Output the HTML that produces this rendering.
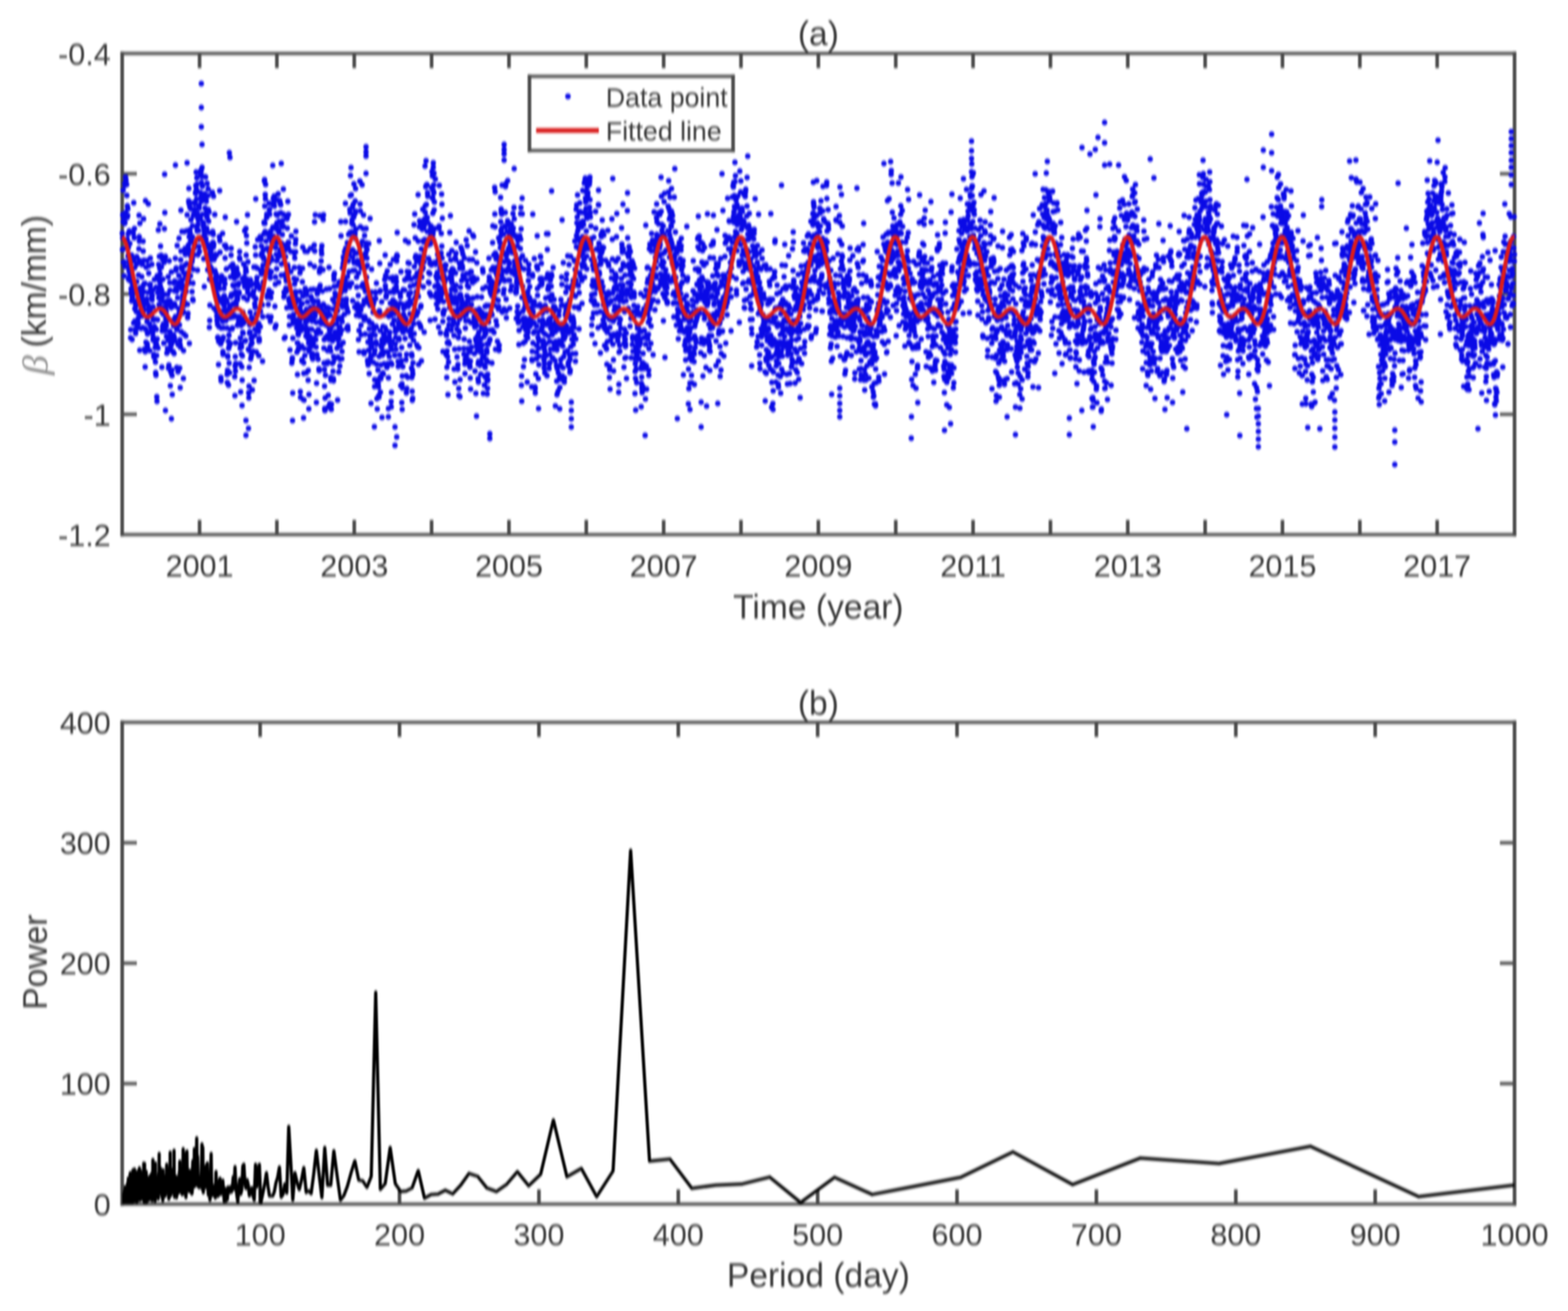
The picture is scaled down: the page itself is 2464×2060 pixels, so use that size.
<!DOCTYPE html><html><head><meta charset="utf-8"><style>html,body{margin:0;padding:0;background:#fff}svg{display:block}</style></head><body><svg width="2464" height="2060" viewBox="0 0 2464 2060"><defs><filter id="bl" x="0" y="0" width="2464" height="2060" filterUnits="userSpaceOnUse" color-interpolation-filters="sRGB"><feGaussianBlur stdDeviation="0.8 1.9"/></filter></defs><rect width="2464" height="2060" fill="#fff"/><g filter="url(#bl)"><g stroke="#4a4a4a" fill="none" stroke-linecap="square"><path d="M192.0 84.0V840.0M2380.0 84.0V840.0" stroke-width="5.6"/><path d="M192.0 84.0H2380.0M192.0 840.0H2380.0" stroke-width="5.0"/><path d="M313.6 840.0v-23.0M313.6 84.0v23.0M435.1 840.0v-23.0M435.1 84.0v23.0M556.7 840.0v-23.0M556.7 84.0v23.0M678.2 840.0v-23.0M678.2 84.0v23.0M799.8 840.0v-23.0M799.8 84.0v23.0M921.3 840.0v-23.0M921.3 84.0v23.0M1042.9 840.0v-23.0M1042.9 84.0v23.0M1164.4 840.0v-23.0M1164.4 84.0v23.0M1286 840.0v-23.0M1286 84.0v23.0M1407.6 840.0v-23.0M1407.6 84.0v23.0M1529.1 840.0v-23.0M1529.1 84.0v23.0M1650.7 840.0v-23.0M1650.7 84.0v23.0M1772.2 840.0v-23.0M1772.2 84.0v23.0M1893.8 840.0v-23.0M1893.8 84.0v23.0M2015.3 840.0v-23.0M2015.3 84.0v23.0M2136.9 840.0v-23.0M2136.9 84.0v23.0M2258.4 840.0v-23.0M2258.4 84.0v23.0" stroke-width="5.6" stroke-linecap="butt"/><path d="M192.0 651h23.0M2380.0 651h-23.0M192.0 462h23.0M2380.0 462h-23.0M192.0 273h23.0M2380.0 273h-23.0" stroke-width="5.0" stroke-linecap="butt"/></g><path d="M192.1 366.5h0M192.4 392.2h0M192.7 374h0M192.9 338h0M193.2 336.7h0M193.5 299h0M193.7 348.4h0M194 412.2h0M194.3 391.1h0M194.5 341h0M194.8 411.7h0M195.1 433.6h0M195.3 411.7h0M195.6 351.2h0M195.9 288.7h0M196.1 418.8h0M196.4 350.2h0M196.7 334.3h0M196.9 291.1h0M197.2 278.1h0M198 282.9h0M198.3 336.5h0M198.5 378.3h0M198.8 378h0M199.1 289.9h0M199.3 307.2h0M199.6 341.9h0M199.9 375.8h0M200.1 323.5h0M200.7 338.7h0M200.9 328.2h0M201.2 402.6h0M201.5 367.3h0M201.7 388.9h0M202 439.1h0M202.3 411.2h0M202.5 399.5h0M202.8 423.2h0M203 426.8h0M203.3 362.9h0M203.6 416.1h0M203.8 434.2h0M204.1 382.7h0M204.4 440.3h0M204.6 441.5h0M204.9 421.9h0M205.2 530.8h0M205.4 518.1h0M205.7 428.6h0M206 453.6h0M206.2 460.1h0M206.5 461.3h0M206.8 401h0M207 473.1h0M207.3 439.5h0M207.6 533.5h0M207.8 465.4h0M208.1 469h0M208.4 445.3h0M208.6 447.1h0M208.9 409.3h0M209.2 408h0M209.4 366.5h0M209.7 452.6h0M210 507.6h0M210.2 318.7h0M210.5 410.4h0M210.8 456.2h0M211 373.6h0M211.3 359.2h0M211.6 420.6h0M211.8 485.2h0M212.1 504.3h0M212.4 517.7h0M212.6 457.9h0M212.9 452.9h0M213.2 523.8h0M213.4 478.1h0M213.7 480.4h0M214 480.2h0M214.2 489.6h0M214.5 473.5h0M214.8 403.3h0M215 442.3h0M215.3 415h0M215.6 510.2h0M215.8 516h0M216.1 477.4h0M216.4 491.1h0M216.6 474.3h0M216.9 507.3h0M217.2 507.7h0M217.4 500h0M217.7 432.2h0M218 468.2h0M218.2 391h0M218.5 338.3h0M218.8 372h0M219 379.1h0M219.3 409.1h0M219.6 550.4h0M219.8 350.8h0M220.1 452.2h0M220.4 457.4h0M220.6 492.7h0M220.9 488.5h0M221.2 472.9h0M221.4 491.8h0M221.7 516h0M222 452.2h0M222.2 479.5h0M222.5 463.3h0M222.8 434.8h0M223 454.4h0M223.3 415.6h0M223.6 496.6h0M223.8 489.6h0M224.1 514.6h0M224.3 469.4h0M224.6 481.7h0M224.9 379.1h0M225.1 394.6h0M225.4 448.3h0M225.7 343.9h0M225.9 472.3h0M226.2 408.9h0M226.5 458.6h0M226.7 445.5h0M227 486.9h0M227.3 548.4h0M227.5 445.2h0M227.8 516.1h0M228.1 576.7h0M228.3 552.7h0M228.6 315.5h0M228.9 517.6h0M229.1 475.8h0M229.4 537.8h0M229.7 420h0M229.9 497.5h0M230.2 474.9h0M230.5 469.5h0M230.7 409.5h0M231 505.5h0M231.3 539.9h0M231.5 544.7h0M231.8 524.7h0M232.1 498.7h0M232.3 478.8h0M232.6 459.7h0M232.9 487h0M233.1 320.3h0M233.4 486.1h0M233.7 429.5h0M233.9 417.6h0M234.2 522.8h0M234.5 508.5h0M234.7 447.5h0M235 491.3h0M235.3 550.8h0M235.5 489.9h0M235.8 482.3h0M236.1 446.7h0M236.3 405.7h0M236.6 490h0M236.9 513.4h0M237.1 459.3h0M237.4 453.9h0M237.7 519.6h0M237.9 496.7h0M238.2 483.2h0M238.5 467.8h0M238.7 415.4h0M239 471.3h0M239.3 464h0M239.5 518.8h0M239.8 523.1h0M240.1 455.9h0M240.3 481.9h0M240.6 534.3h0M240.9 529.8h0M241.1 502.5h0M241.4 503h0M241.7 560.3h0M241.9 557h0M242.2 561.4h0M242.5 513h0M242.7 439.2h0M243 514.6h0M243.3 560.7h0M243.5 533.6h0M243.8 546.3h0M244.1 501.6h0M244.3 568.8h0M244.6 585.5h0M244.8 539.4h0M245.1 589.6h0M245.4 451.3h0M245.6 517.5h0M245.9 541.1h0M246.2 558.6h0M246.4 623.4h0M246.7 630.6h0M247 532.6h0M247.2 433.3h0M247.5 502.4h0M247.8 437h0M248 460h0M248.3 546.9h0M248.6 438.4h0M248.8 361.4h0M249.1 434.5h0M249.4 415.6h0M249.6 467.9h0M249.9 478.6h0M250.2 457.2h0M250.4 402.9h0M250.7 442h0M251 421.9h0M251.2 351.9h0M251.5 430.2h0M251.8 449.2h0M252 470.1h0M252.3 386.8h0M252.6 458.5h0M252.8 404.2h0M253.1 401.1h0M253.4 440.6h0M253.6 419.9h0M253.9 454.8h0M254.2 490.2h0M254.4 577h0M254.7 465.9h0M255 519.9h0M255.2 460.7h0M255.5 513.2h0M255.8 407.8h0M256 438.6h0M256.3 483.3h0M256.6 493.7h0M256.8 509.2h0M257.1 474.2h0M257.4 539.2h0M257.6 519.9h0M257.9 412.3h0M258.2 407.3h0M258.4 359.5h0M258.7 273.9h0M259 334.2h0M259.2 462.6h0M259.5 474h0M259.8 402.9h0M260 519.1h0M260.3 483.8h0M260.6 501.1h0M260.8 492.8h0M261.1 489h0M261.4 511.7h0M261.6 528.8h0M261.9 528.5h0M262.2 554.9h0M262.4 477.8h0M262.7 503.9h0M263 479h0M263.2 547.7h0M263.5 462.6h0M263.8 472.4h0M264 477.5h0M264.3 435h0M264.6 534.9h0M264.8 578.6h0M265.1 532h0M265.4 573.6h0M265.6 535.9h0M265.9 410h0M266.1 476.4h0M266.4 471.8h0M266.7 520.7h0M266.9 444.1h0M267.2 456.2h0M267.5 473.7h0M267.7 606.1h0M268 549.8h0M268.3 527h0M268.5 584.8h0M268.8 542.6h0M269.1 483.5h0M269.3 427.4h0M269.6 539.8h0M269.9 551.2h0M270.1 581.4h0M270.4 590.2h0M270.7 619.9h0M270.9 536h0M271.2 530.1h0M271.5 503.1h0M271.7 504.8h0M272 552.3h0M272.3 553.3h0M272.5 525.9h0M272.8 512.1h0M273.1 444.8h0M273.3 529.4h0M273.6 555.5h0M273.9 529.8h0M274.1 477.2h0M274.4 456.9h0M274.7 441.7h0M274.9 535.8h0M275.2 481.1h0M275.5 406h0M275.7 497.4h0M276 503.3h0M276.3 425h0M276.5 453.4h0M276.8 421.2h0M277.1 510.5h0M277.3 457.9h0M277.6 514.8h0M277.9 577.3h0M278.1 518.2h0M278.4 385.8h0M278.7 503.3h0M278.9 501.9h0M279.2 467.9h0M279.5 499.6h0M279.7 584.2h0M280 541.7h0M280.3 499.5h0M280.5 448.5h0M280.8 484.7h0M281.1 433h0M281.3 374.5h0M281.6 491.8h0M281.9 442.8h0M282.1 510.6h0M282.4 578.3h0M282.7 534h0M282.9 541.1h0M283.2 609.1h0M283.5 545.6h0M283.7 489.4h0M284 408.3h0M284.3 330.4h0M284.5 394.6h0M284.8 521.3h0M285.1 453.8h0M285.3 418.8h0M285.6 423.1h0M285.9 363.8h0M286.1 447.1h0M286.4 478.1h0M286.7 474.3h0M286.9 439.3h0M287.2 463.4h0M287.4 492.1h0M287.7 469.2h0M288 489.4h0M288.2 594.7h0M288.5 551h0M288.8 524.7h0M289 428.8h0M289.3 480.2h0M289.6 392.8h0M289.8 364h0M290.1 417.4h0M290.4 475.4h0M290.6 460h0M290.9 390.5h0M291.2 390.2h0M291.4 399.9h0M291.7 432.4h0M292 527.8h0M292.2 449.4h0M292.5 458.1h0M292.8 394h0M293 396.6h0M293.3 414.3h0M293.6 362.7h0M293.8 392.2h0M294.1 337.7h0M294.4 428.6h0M294.6 478.1h0M294.9 499.2h0M295.2 439.8h0M295.4 492.4h0M295.7 439.4h0M296 391.1h0M296.2 384.9h0M296.5 315.6h0M296.8 296h0M297 320h0M297.3 372.2h0M297.6 539.6h0M297.8 444.5h0M298.1 361h0M298.4 325.7h0M298.6 365.2h0M298.9 400.9h0M299.2 380.5h0M299.4 433.4h0M299.7 419.1h0M300 345.5h0M300.2 328.5h0M300.5 377.2h0M300.8 404.2h0M301.3 397h0M301.6 411.7h0M301.8 458.3h0M302.1 407.6h0M302.4 372h0M302.6 354.8h0M302.9 470.2h0M303.2 445h0M303.4 472.2h0M303.7 423.4h0M304 339.2h0M304.2 318.6h0M304.5 336.8h0M304.8 390.2h0M305 328.9h0M305.3 400.3h0M305.6 383.8h0M305.8 336.9h0M306.1 319.8h0M306.4 337.8h0M306.6 338.7h0M306.9 328.8h0M307.2 302.6h0M307.4 304h0M307.7 291.4h0M308.2 270.5h0M308.5 355.8h0M308.7 297.3h0M309 312.9h0M309.3 279.5h0M309.5 289.3h0M309.8 363h0M310.1 335.6h0M310.3 424.6h0M310.6 361.2h0M310.9 400.3h0M311.1 352.9h0M311.4 344.8h0M311.7 375h0M311.9 362.3h0M312.2 376.3h0M312.5 387.4h0M312.7 322.4h0M313 327.2h0M313.3 344.6h0M313.5 395.3h0M313.8 340.4h0M314.1 339.8h0M314.3 271.4h0M314.6 344.1h0M314.9 302.4h0M315.1 268.3h0M315.4 273.5h0M315.7 373h0M315.9 310.2h0M316.2 267.9h0M316.5 286.8h0M317 316.3h0M317.3 310.4h0M317.5 277.6h0M317.8 375.5h0M318.1 292.7h0M318.3 336.9h0M318.6 310.6h0M319.4 349.5h0M319.7 356.3h0M319.9 354.3h0M320.2 406.6h0M320.5 380.6h0M320.7 363.2h0M321 450.5h0M321.3 369.6h0M321.5 304.4h0M321.8 277.7h0M322.3 326.9h0M322.6 381.1h0M322.9 327.5h0M323.1 278.2h0M323.4 311h0M323.7 375.3h0M324.2 316.5h0M324.7 358.4h0M325 333.8h0M325.3 341.4h0M325.5 288.2h0M326.1 383.3h0M326.3 424h0M326.6 400.1h0M326.9 307.3h0M327.1 297h0M327.4 329.5h0M327.9 347.6h0M328.2 389.1h0M328.5 333.4h0M328.7 365.6h0M329 514.4h0M329.2 438.9h0M329.5 503.6h0M329.8 479.6h0M330 418h0M330.3 429h0M330.6 397.2h0M330.8 393.7h0M331.1 388.7h0M331.4 384.3h0M331.6 403.9h0M331.9 421h0M332.2 441.1h0M332.4 408.4h0M332.7 384.3h0M333 365.8h0M333.2 390h0M333.5 387h0M333.8 302.4h0M334 427.2h0M334.3 363.9h0M334.6 403.7h0M334.8 380.8h0M335.1 368.5h0M335.4 388.2h0M335.6 308.3h0M335.9 383.9h0M336.2 407.8h0M336.4 484.4h0M336.7 442.2h0M337 438.2h0M337.2 405h0M337.5 337.2h0M337.8 425.2h0M338 437.3h0M338.3 399.7h0M338.6 460.9h0M338.8 447.2h0M339.1 454.6h0M339.4 430.3h0M339.6 488.6h0M339.9 401.2h0M340.2 443.3h0M340.4 461.8h0M340.7 496.5h0M341 503.5h0M341.2 475.2h0M341.5 463.8h0M341.8 509.8h0M342 530.4h0M342.3 529.8h0M342.6 435.3h0M342.8 472h0M343.1 531.4h0M343.4 572.8h0M343.6 536.6h0M343.9 447.3h0M344.2 513.4h0M344.4 487.5h0M344.7 371.8h0M345 453.9h0M345.2 299.6h0M345.5 378.3h0M345.8 396.4h0M346 498.7h0M346.3 471h0M346.6 488.9h0M346.8 540.4h0M347.1 593.1h0M347.4 598.5h0M347.6 515.4h0M347.9 441.8h0M348.2 433.6h0M348.4 468.7h0M348.7 501.6h0M349 499.2h0M349.2 534.9h0M349.5 476.3h0M349.8 366.9h0M350 505.2h0M350.3 552.5h0M350.5 556.9h0M350.8 530h0M351.1 488.4h0M351.3 515.2h0M351.6 466h0M351.9 453.4h0M352.1 479.9h0M352.4 464.6h0M352.7 477.5h0M352.9 385.6h0M353.2 438.5h0M353.5 445.8h0M353.7 405.5h0M354 341.4h0M354.3 385.3h0M354.5 487.7h0M354.8 503.8h0M355.1 470.3h0M355.3 490.3h0M355.6 422.8h0M355.9 390.2h0M356.1 422.5h0M356.4 473.8h0M356.7 515.3h0M356.9 588.4h0M357.2 601.1h0M357.5 581.9h0M357.7 558.9h0M358 560.8h0M358.3 492.3h0M358.5 486.1h0M358.8 536.1h0M359.1 605.1h0M359.3 547.4h0M359.6 526.5h0M359.9 526.9h0M360.1 570.6h0M360.4 543.3h0M360.7 585.6h0M360.9 499.3h0M361.2 486h0M361.5 480h0M361.7 517.3h0M362 539.7h0M362.3 435.2h0M362.5 418.6h0M362.8 466.4h0M363.1 400.9h0M363.3 390.2h0M363.6 462.7h0M363.9 492.1h0M364.1 498.6h0M364.4 478.8h0M364.7 516.8h0M364.9 495h0M365.2 515.3h0M365.5 478.9h0M365.7 415.2h0M366 448h0M366.3 422.9h0M366.5 461.5h0M366.8 476.8h0M367.1 429.6h0M367.3 449.6h0M367.6 431.2h0M367.9 498h0M368.1 462.8h0M368.4 437.6h0M368.7 495.7h0M368.9 591.9h0M369.2 621.7h0M369.5 575.4h0M369.7 560.5h0M370 583.1h0M370.3 538.6h0M370.5 571.2h0M370.8 458.1h0M371 478.7h0M371.3 447.1h0M371.6 472.4h0M371.8 348.3h0M372.1 421h0M372.4 427h0M372.6 434.2h0M372.9 471.6h0M373.2 511.2h0M373.4 469.1h0M373.7 499h0M374 448.3h0M374.2 462.6h0M374.5 431h0M374.8 497.5h0M375 506.1h0M375.3 445h0M375.6 458.8h0M375.8 461.1h0M376.1 497.6h0M376.4 404.8h0M376.6 395.5h0M376.9 407.3h0M377.2 571.6h0M377.4 547.2h0M377.7 531.2h0M378 540.2h0M378.2 615.8h0M378.5 539.9h0M378.8 511.5h0M379 542.9h0M379.3 556.7h0M379.6 545.3h0M379.8 505.4h0M380.1 576.5h0M380.4 637.2h0M380.6 597.3h0M380.9 559.2h0M381.2 437.6h0M381.4 522.2h0M381.7 490.6h0M382 501.2h0M382.2 523.7h0M382.5 508.2h0M382.8 414.8h0M383 467.5h0M383.3 443.8h0M383.6 439.9h0M383.8 435.3h0M384.1 445.3h0M384.4 362.7h0M384.6 450.7h0M384.9 505.5h0M385.2 535.9h0M385.7 535.1h0M386 427.1h0M386.2 421.2h0M386.5 359.2h0M386.8 401h0M387 426.7h0M387.3 370.3h0M387.6 438.4h0M387.8 381.9h0M388.1 440.7h0M388.4 471h0M388.6 453.3h0M388.9 337.6h0M389.2 453.1h0M389.4 459.9h0M389.7 411.5h0M390 445.4h0M390.2 548.8h0M390.5 673.1h0M390.8 617.1h0M391 625.1h0M391.3 606.9h0M391.6 577.5h0M391.8 550.9h0M392.1 523.7h0M392.3 510.6h0M392.6 521.3h0M392.9 463.9h0M393.1 490.5h0M393.4 439.6h0M393.7 449h0M393.9 564.1h0M394.2 542h0M394.5 541.2h0M394.7 532.2h0M395 559h0M395.3 499h0M395.5 498.6h0M395.8 552.8h0M396.1 538.9h0M396.3 530.1h0M396.6 612.7h0M396.9 529.8h0M397.1 529h0M397.4 502.4h0M397.7 552h0M397.9 459.6h0M398.2 446.5h0M398.5 457.4h0M398.7 501.8h0M399 419.7h0M399.3 597.9h0M399.5 466.8h0M399.8 527.4h0M400.1 503.2h0M400.3 477.1h0M400.6 517.5h0M400.9 482.9h0M401.1 388h0M401.4 419.6h0M401.7 400.9h0M401.9 312.6h0M402.2 469.5h0M402.5 492.8h0M402.7 553.2h0M403 519h0M403.3 443h0M403.5 446.1h0M403.8 436.2h0M404.1 421.4h0M404.3 451.4h0M404.6 445.8h0M404.9 376.6h0M405.1 449.9h0M405.4 449.5h0M405.7 509.9h0M405.9 513.2h0M406.2 521.3h0M406.5 508.4h0M406.7 558.8h0M407 536.2h0M407.3 531.7h0M407.5 535.9h0M407.8 376.5h0M408.1 451.6h0M408.3 454.1h0M408.6 450.7h0M408.9 371.8h0M409.1 513.3h0M409.4 489.2h0M409.7 425.2h0M409.9 375.5h0M410.2 376.6h0M410.5 401.3h0M410.7 386.7h0M411 430.7h0M411.3 398.1h0M411.5 423.7h0M411.8 427.1h0M412.1 424.7h0M412.3 479.2h0M412.6 567.7h0M412.9 497.7h0M413.1 449.7h0M413.4 416.6h0M413.6 443h0M413.9 403.8h0M414.2 393.1h0M414.4 406.7h0M414.7 367.9h0M415 349.2h0M415.2 350.9h0M415.5 284.5h0M415.8 282.3h0M416 323.8h0M416.3 350.9h0M416.6 363.9h0M416.8 305.7h0M417.1 312.7h0M417.4 289.8h0M417.6 427h0M417.9 365.4h0M418.2 379h0M418.4 428h0M418.7 390.5h0M419 342h0M419.2 336.7h0M419.5 411.5h0M419.8 412.8h0M420 467.2h0M420.3 415.3h0M420.6 462.8h0M420.8 389.9h0M421.1 368.3h0M421.4 497.3h0M421.6 478.5h0M421.9 409.5h0M422.2 413.9h0M422.4 424.8h0M422.7 456.1h0M423 395.3h0M423.2 319.3h0M423.5 329.1h0M423.8 336.8h0M424 373h0M424.3 430h0M424.6 436.6h0M424.8 505.1h0M425.1 363.3h0M425.4 402.8h0M425.6 467.8h0M425.9 497.9h0M426.2 426.8h0M426.4 408.8h0M426.7 459.7h0M427 377.7h0M427.2 380.2h0M427.5 387.8h0M427.8 408.4h0M428 371.4h0M428.3 379.3h0M428.6 260h0M428.8 356.8h0M429.1 358.7h0M429.4 311.5h0M429.6 322.5h0M429.9 370.9h0M430.2 318.1h0M430.4 323.4h0M430.7 356.4h0M431 308.2h0M431.2 323.8h0M431.5 313.9h0M431.8 359h0M432 481.5h0M432.3 515.1h0M432.6 446.6h0M432.8 435.4h0M433.1 380.6h0M433.4 389.5h0M433.6 510.8h0M433.9 336.4h0M434.1 399.9h0M434.4 356.2h0M434.7 422.4h0M434.9 409.8h0M435.2 350.2h0M435.5 338.2h0M435.7 378.4h0M436 361.2h0M436.5 314.5h0M437.1 304.6h0M437.3 404.2h0M437.6 361.6h0M437.9 443.6h0M438.1 381.6h0M438.4 365.3h0M438.7 347.7h0M438.9 335.5h0M439.2 398.8h0M439.5 315.3h0M439.7 396.7h0M440.3 319.2h0M440.5 399.2h0M440.8 392h0M441.1 321.9h0M441.3 334.4h0M441.6 381.5h0M441.9 432.5h0M442.1 394.7h0M442.4 414.8h0M442.7 414.6h0M442.9 354.5h0M443.2 401.9h0M443.5 383.3h0M443.7 368.6h0M444 346.6h0M444.3 356.8h0M444.5 402.7h0M444.8 336.3h0M445.1 355.2h0M445.3 297.2h0M445.6 412.8h0M445.9 431.9h0M446.1 466.6h0M446.4 459.1h0M446.7 531.7h0M446.9 413.7h0M447.2 460.4h0M447.5 432.4h0M447.7 384.8h0M448 529.9h0M448.3 393.1h0M448.5 338.4h0M448.8 403.5h0M449.1 430.3h0M449.3 452.9h0M449.6 437.1h0M449.9 441.6h0M450.1 457.9h0M450.4 429.2h0M450.7 483.6h0M450.9 344h0M451.2 341.5h0M451.5 358.6h0M451.7 417.1h0M452 416.3h0M452.3 316.5h0M452.5 419.7h0M452.8 389.3h0M453.1 380.7h0M453.3 336.8h0M453.6 381.4h0M453.9 426.6h0M454.1 472.4h0M454.4 468.6h0M454.7 510.8h0M454.9 497.4h0M455.2 475.2h0M455.4 497.2h0M455.7 549.8h0M456 483.2h0M456.2 473.1h0M456.5 478.9h0M456.8 395.2h0M457 427h0M457.3 498.4h0M457.6 469.7h0M457.8 370.9h0M458.1 471.7h0M458.4 483.4h0M458.6 570.5h0M458.9 468.4h0M459.2 565h0M459.4 562.3h0M459.7 660.8h0M460 617.6h0M460.2 531.3h0M460.5 500.5h0M460.8 508.3h0M461 505.5h0M461.3 494.1h0M461.6 483.1h0M461.8 396h0M462.1 437.7h0M462.4 397.6h0M462.6 420.3h0M462.9 446.4h0M463.2 405.5h0M463.4 464h0M463.7 477.5h0M464 458.4h0M464.2 383.1h0M464.5 395.8h0M464.8 376.3h0M465 363.6h0M465.3 474.8h0M465.6 458.7h0M465.8 502.3h0M466.1 439.2h0M466.4 515.8h0M466.6 553.3h0M466.9 509.1h0M467.2 538.8h0M467.4 588.5h0M467.7 538.8h0M468 470.1h0M468.2 510.7h0M468.5 523.7h0M468.8 526.2h0M469 547.6h0M469.3 519.2h0M469.6 548.7h0M469.8 471.7h0M470.1 502.3h0M470.4 420.4h0M470.6 509.4h0M470.9 483.3h0M471.2 503.3h0M471.4 428.8h0M471.7 458.4h0M472 615.5h0M472.2 624.4h0M472.5 511.4h0M472.8 488.9h0M473 500.3h0M473.3 519.5h0M473.6 511.6h0M473.8 477.9h0M474.1 543.7h0M474.4 567.4h0M474.6 565.7h0M474.9 476.9h0M475.2 442.9h0M475.4 421.7h0M475.7 388.4h0M476 491.1h0M476.2 465.7h0M476.5 515.4h0M476.7 627.9h0M477 656.7h0M477.3 570h0M477.5 586.7h0M477.8 628.6h0M478.1 547.9h0M478.3 495.2h0M478.6 517.3h0M478.9 514.8h0M479.1 558.6h0M479.4 394.8h0M479.7 453.1h0M479.9 458.7h0M480.2 501h0M480.5 506.2h0M480.7 528h0M481 514.5h0M481.3 585.6h0M481.5 463.6h0M481.8 485.8h0M482.1 457.5h0M482.3 505.2h0M482.6 523h0M482.9 395.1h0M483.1 474.3h0M483.4 489.6h0M483.7 531.5h0M483.9 502.8h0M484.2 597.4h0M484.5 582.1h0M484.7 548.5h0M485 539.2h0M485.3 642.4h0M485.5 619.8h0M485.8 530.5h0M486.1 552.3h0M486.3 517.1h0M486.6 527.9h0M486.9 492.3h0M487.1 414.8h0M487.4 496.7h0M487.7 490.2h0M487.9 390.3h0M488.2 483h0M488.5 455.1h0M488.7 466.2h0M489 531.7h0M489.3 543.4h0M489.5 544.6h0M489.8 517.5h0M490.1 559.8h0M490.3 537.8h0M490.6 504.7h0M490.9 555.3h0M491.1 471.7h0M491.4 564.1h0M491.7 539.2h0M491.9 502.9h0M492.2 474.2h0M492.5 454.7h0M492.7 489.8h0M493 472.3h0M493.3 531.4h0M493.5 483h0M493.8 385.2h0M494.1 418.8h0M494.3 348.7h0M494.6 394.5h0M494.9 484.6h0M495.1 496.8h0M495.4 337.6h0M495.7 473.7h0M495.9 533.8h0M496.2 533.6h0M496.5 520.9h0M496.7 545.3h0M497 506.7h0M497.2 632.3h0M497.5 602.2h0M497.8 557.8h0M498 557h0M498.3 524.4h0M498.6 461.8h0M498.8 456.3h0M499.1 454.7h0M499.4 473.1h0M499.6 489.4h0M499.9 564.5h0M500.2 518h0M500.4 482.4h0M500.7 489.7h0M501 505.9h0M501.2 579.3h0M501.5 582.4h0M501.8 479.7h0M502 427.8h0M502.3 424h0M502.6 339h0M502.8 486h0M503.1 448.5h0M503.4 456.2h0M503.6 421h0M503.9 522.9h0M504.2 481.1h0M504.4 482.3h0M504.7 410.2h0M505 393.2h0M505.2 508.9h0M505.5 399.2h0M505.8 386.2h0M506 498.9h0M506.3 488.6h0M506.6 457.3h0M506.8 499.6h0M507.1 501.2h0M507.4 499.9h0M507.6 424h0M507.9 345.2h0M508.2 478.1h0M508.4 337.7h0M508.7 507.2h0M509 547.1h0M509.2 570.7h0M509.5 533.6h0M509.8 580.7h0M510 606.8h0M510.3 641.8h0M510.6 645.2h0M510.8 625.5h0M511.1 571.1h0M511.4 589.6h0M511.6 510.1h0M511.9 529.9h0M512.2 492.6h0M512.4 499.1h0M512.7 499h0M513 454.3h0M513.2 483.9h0M513.5 531.7h0M513.8 569.2h0M514 571.4h0M514.3 483h0M514.6 511.8h0M514.8 551h0M515.1 526.6h0M515.4 568.6h0M515.6 639.6h0M515.9 621.1h0M516.2 496.5h0M516.4 492.4h0M516.7 484h0M517 420.2h0M517.2 533.3h0M517.5 528.3h0M517.8 453.7h0M518 518.7h0M518.3 634.2h0M518.5 545.3h0M518.8 495.4h0M519.1 518h0M519.3 525.7h0M519.6 551.6h0M519.9 593.1h0M520.1 597.7h0M520.4 643.1h0M520.7 643.1h0M520.9 635.1h0M521.2 511.9h0M521.5 526.6h0M521.7 530.6h0M522 511.8h0M522.3 571h0M522.5 535.6h0M522.8 470.7h0M523.1 485.6h0M523.3 583.5h0M523.6 569.3h0M523.9 594.9h0M524.1 598.5h0M524.4 560.3h0M524.7 433.3h0M524.9 439.4h0M525.2 450.1h0M525.5 429.5h0M525.7 475.4h0M526 532.1h0M526.3 499.2h0M526.5 460.5h0M526.8 563.2h0M527.1 521.1h0M527.3 466.2h0M527.6 499.9h0M527.9 526.8h0M528.1 490.4h0M528.4 499h0M528.7 509.4h0M528.9 449.3h0M529.2 480.1h0M529.5 547.2h0M529.7 466.3h0M530 487h0M530.3 488.4h0M530.5 628.7h0M530.8 533.9h0M531.1 561h0M531.3 528.1h0M531.6 502.4h0M531.9 521.1h0M532.1 532.9h0M532.4 584.5h0M532.7 541.6h0M532.9 499.5h0M533.2 442.9h0M533.5 517.2h0M533.7 513.4h0M534 575.2h0M534.3 517.6h0M534.5 564.6h0M534.8 525.1h0M535.1 543.3h0M535.3 460.9h0M535.6 348.4h0M535.9 370.7h0M536.1 478.9h0M536.4 442.7h0M536.7 498.8h0M536.9 518.7h0M537.2 563.7h0M537.5 552.3h0M537.7 505.4h0M538 421.2h0M538.3 482.3h0M538.5 471h0M538.8 447.2h0M539.1 414.3h0M539.3 538.3h0M539.6 403.6h0M539.8 444.1h0M540.1 406.6h0M540.4 410.5h0M540.6 439.9h0M540.9 454.1h0M541.2 493.9h0M541.4 395.4h0M541.7 439.9h0M542 440.3h0M542.2 456.9h0M542.5 448.1h0M542.8 319.7h0M543 348.2h0M543.3 390.1h0M543.6 477.6h0M543.8 472.6h0M544.1 469.8h0M544.4 395.7h0M544.6 483.1h0M544.9 516h0M545.2 484.6h0M545.4 517h0M545.7 381.5h0M546 434.9h0M546.2 513.8h0M546.5 512.3h0M546.8 518.3h0M547 490.4h0M547.3 410.1h0M547.6 450.4h0M547.8 368.3h0M548.1 397.6h0M548.4 400.5h0M548.6 427h0M548.9 445.3h0M549.2 450.8h0M549.4 367.5h0M549.7 329h0M550 365.3h0M550.2 334.8h0M550.5 307.3h0M550.8 275.8h0M551 307.1h0M551.6 263.4h0M552.1 306.2h0M552.4 364.4h0M552.6 444.9h0M552.9 350.9h0M553.2 345.3h0M553.4 326.1h0M553.7 404h0M554 392.5h0M554.2 472.7h0M554.5 425.1h0M554.8 353.1h0M555 321.1h0M555.3 364.4h0M555.6 394.7h0M555.8 341.4h0M556.1 289h0M556.4 410.9h0M556.6 413.1h0M556.9 365.9h0M557.2 425h0M557.4 482.5h0M557.7 336h0M558 367.4h0M558.2 316h0M558.5 374.9h0M558.8 296.4h0M559 331.9h0M559.3 398.3h0M559.6 484.1h0M559.8 359.6h0M560.1 495.4h0M560.3 435.7h0M560.6 451.1h0M560.9 485.8h0M561.1 495.1h0M561.4 477.4h0M561.7 409.3h0M561.9 414.9h0M562.2 397.4h0M562.7 481.3h0M563 464.3h0M563.3 533.6h0M563.5 428.8h0M563.8 492.6h0M564.1 519.3h0M564.3 552.9h0M564.6 496.5h0M564.9 414.2h0M565.1 416.6h0M565.4 284.7h0M565.7 284.9h0M565.9 320.6h0M566.2 331.5h0M566.5 356.5h0M566.7 386.4h0M567 487.2h0M567.3 511h0M567.5 480.8h0M567.8 526h0M568.1 450h0M568.3 421.1h0M568.6 497h0M568.9 406.9h0M569.1 290.3h0M569.4 379.3h0M569.7 379.7h0M569.9 479.7h0M570.2 406.7h0M570.5 445.9h0M570.7 400.4h0M571 359.4h0M571.3 337.8h0M571.5 451.8h0M571.8 552.4h0M572.1 555.7h0M572.3 471.9h0M572.6 502.9h0M572.9 370.2h0M573.1 451.6h0M573.4 497.6h0M573.7 475h0M573.9 525h0M574.2 457.9h0M574.5 451.4h0M574.7 397.6h0M575 387.5h0M575.3 359.2h0M575.5 419.5h0M575.8 381.8h0M576.1 435.7h0M576.3 475.4h0M576.6 405.7h0M576.9 392.1h0M577.1 416.8h0M577.4 467.5h0M577.7 566.1h0M577.9 568.5h0M578.2 537.4h0M578.5 573.5h0M578.7 476.1h0M579 550.4h0M579.3 503.7h0M579.5 382.9h0M579.8 551.1h0M580.1 587.1h0M580.3 516.6h0M580.6 539h0M580.9 506.7h0M581.1 526.8h0M581.4 467.1h0M581.6 343.3h0M581.9 480.2h0M582.2 532.9h0M582.4 568.5h0M582.7 561.3h0M583 633.8h0M583.2 558.9h0M583.5 545.6h0M583.8 459.1h0M584 423.2h0M584.3 508.1h0M584.6 469.5h0M584.8 525.3h0M585.1 526.3h0M585.4 481.2h0M585.6 476h0M585.9 480.6h0M586.2 490.6h0M586.4 539.8h0M586.7 569.4h0M587 557.3h0M587.2 475.8h0M587.5 515.6h0M587.8 517.4h0M588 556.3h0M588.3 670.6h0M588.6 607.3h0M588.8 596.7h0M589.1 550.4h0M589.4 526.7h0M589.6 491.3h0M589.9 459h0M590.2 460.5h0M590.4 469.1h0M590.7 537h0M591 512.8h0M591.2 513.6h0M591.5 445h0M591.8 541.2h0M592 572.4h0M592.3 626.3h0M592.6 606.9h0M592.8 642.7h0M593.1 600.3h0M593.4 596.7h0M593.9 581.6h0M594.2 602.7h0M594.7 608.2h0M595 622.7h0M595.2 621.8h0M595.5 624.1h0M595.8 560h0M596 378.3h0M596.3 488.4h0M596.6 458.5h0M596.8 414h0M597.1 494.1h0M597.4 519.6h0M597.6 456.7h0M597.9 616.3h0M598.2 591.4h0M598.4 595.2h0M598.7 573.4h0M599 541.9h0M599.2 555.3h0M599.5 545.8h0M599.8 474.3h0M600 534.6h0M600.3 655.9h0M600.6 532.9h0M600.8 554h0M601.1 558h0M601.4 539.4h0M601.6 586h0M601.9 512.9h0M602.2 540.4h0M602.4 587.9h0M602.7 554.6h0M602.9 524.5h0M603.2 533.8h0M603.5 494.9h0M603.7 571.6h0M604 528.2h0M604.3 552.6h0M604.5 439.4h0M604.8 530.6h0M605.1 514.3h0M605.3 400.8h0M605.6 448.9h0M605.9 432.9h0M606.1 455.3h0M606.4 532.2h0M606.7 467.1h0M606.9 464h0M607.2 536h0M607.5 519.6h0M607.7 574h0M608 577.3h0M608.3 529.8h0M608.5 426h0M608.8 553.4h0M609.1 573.4h0M609.3 571.3h0M609.6 552.6h0M609.9 535.7h0M610.1 487.3h0M610.4 593.7h0M610.7 571.9h0M610.9 496.7h0M611.2 497.4h0M611.5 529h0M611.7 560.3h0M612 537.6h0M612.3 488.3h0M612.5 522.1h0M612.8 437h0M613.1 415.6h0M613.3 476.3h0M613.6 459h0M613.9 496h0M614.1 544.4h0M614.4 570.1h0M614.7 630.8h0M614.9 639.4h0M615.2 616.6h0M615.5 535.9h0M615.7 572.7h0M616 549.7h0M616.3 492.1h0M616.5 509.3h0M616.8 509.2h0M617.1 435.9h0M617.3 485.9h0M617.6 471.3h0M617.9 482.5h0M618.1 407.8h0M618.4 442h0M618.7 459.5h0M618.9 484.1h0M619.2 457.9h0M619.5 502.8h0M619.7 453.9h0M620 454.4h0M620.3 558.3h0M620.5 492.9h0M620.8 474.9h0M621.1 540.3h0M621.3 521.3h0M621.6 515.4h0M621.9 530.3h0M622.1 548.8h0M622.4 435.6h0M622.7 450.3h0M622.9 442.6h0M623.2 403.5h0M623.4 410.2h0M623.7 400.7h0M624 457.6h0M624.2 365.4h0M624.5 402.6h0M624.8 485.5h0M625 481.3h0M625.3 492.3h0M625.6 567.9h0M625.8 575.8h0M626.1 517.7h0M626.4 507.8h0M626.6 478.6h0M626.9 531.4h0M627.2 534h0M627.4 506.8h0M627.7 499.9h0M628 557.7h0M628.2 511.5h0M628.5 513.5h0M628.8 476.3h0M629 460.8h0M629.3 466.5h0M629.6 605.9h0M629.8 573h0M630.1 426.9h0M630.4 504.7h0M630.6 514.9h0M630.9 566.6h0M631.2 546.1h0M631.4 632.6h0M631.7 603.1h0M632 643.3h0M632.2 590.8h0M632.5 609.7h0M632.8 496.8h0M633 576.1h0M633.3 522.3h0M633.6 478.3h0M633.8 455.2h0M634.1 493.8h0M634.4 485h0M634.6 496.1h0M634.9 510.5h0M635.2 500.1h0M635.4 517.2h0M635.7 455.9h0M636 439.8h0M636.2 483.2h0M636.5 532h0M636.8 512.7h0M637 377.8h0M637.3 479h0M637.6 500.6h0M637.8 565.3h0M638.1 509.7h0M638.4 590.4h0M638.6 617.3h0M638.9 556.8h0M639.2 610.3h0M639.4 507.8h0M639.7 436h0M640 426.7h0M640.2 438.3h0M640.5 476.2h0M640.8 593h0M641 519.9h0M641.3 412.8h0M641.6 481.6h0M641.8 380.9h0M642.1 434h0M642.4 464h0M642.6 427.2h0M642.9 413.8h0M643.2 461.2h0M643.4 460.4h0M643.7 478h0M644 542.6h0M644.2 493.2h0M644.5 472.1h0M644.7 449.9h0M645 522.7h0M645.3 459.8h0M645.5 528.4h0M645.8 438.8h0M646.1 477.2h0M646.3 515.8h0M646.6 578.3h0M646.9 556.2h0M647.1 593.2h0M647.4 559.5h0M647.7 614.9h0M647.9 629h0M648.2 581.8h0M648.5 625.7h0M648.7 587.9h0M649 570.2h0M649.3 500.2h0M649.5 496.8h0M649.8 534.9h0M650.1 448h0M650.3 508.8h0M650.6 353.1h0M650.9 524.4h0M651.1 419h0M651.4 436.2h0M651.7 336.4h0M651.9 469.1h0M652.2 489.7h0M652.5 373.8h0M652.7 404.9h0M653 434.9h0M653.3 488.2h0M653.5 401.6h0M653.8 465.3h0M654.1 458.5h0M654.3 495.6h0M654.6 446.7h0M654.9 411.2h0M655.1 541.9h0M655.4 459.5h0M655.7 428.8h0M655.9 444.6h0M656.2 404.7h0M656.5 490.3h0M656.7 545.3h0M657 306h0M657.3 379h0M657.5 465.8h0M657.8 572.6h0M658.1 507.8h0M658.3 546.3h0M658.6 436.7h0M658.9 447.5h0M659.1 356.5h0M659.4 347.2h0M659.7 406.2h0M659.9 402.8h0M660.2 510.8h0M660.5 353.5h0M660.7 424.9h0M661 482.7h0M661.3 514.7h0M661.5 480.2h0M661.8 416.1h0M662.1 391.2h0M662.3 567.2h0M662.6 410.1h0M662.9 435.3h0M663.1 408.2h0M663.4 424.2h0M663.7 360.4h0M663.9 349.3h0M664.2 329h0M664.5 347.2h0M664.7 378.5h0M665 420.7h0M665.3 450.7h0M665.5 359.3h0M665.8 380.4h0M666 401.8h0M666.3 411.6h0M666.6 521.9h0M666.8 394.8h0M667.1 353.7h0M667.4 376.4h0M667.6 343.6h0M667.9 261h0M668.2 333.5h0M668.4 323h0M669 293.4h0M669.5 252.7h0M669.8 291.3h0M670 321.4h0M670.6 341.3h0M670.8 290.1h0M671.1 290.9h0M671.4 341.6h0M671.6 363.9h0M671.9 302.8h0M672.2 308.4h0M672.4 349.8h0M673 384.8h0M673.2 443.5h0M673.5 406.2h0M673.8 428.3h0M674 382.4h0M674.3 444.6h0M674.6 374.7h0M674.8 362.2h0M675.1 460h0M675.4 430.2h0M675.6 413.9h0M675.9 503.3h0M676.2 461.7h0M676.4 383.3h0M676.7 412.4h0M677 354.9h0M677.2 367.8h0M677.5 465h0M677.8 416.4h0M678 374.4h0M678.3 294.9h0M678.6 366.4h0M678.8 269.7h0M679.1 371.3h0M679.4 276.5h0M679.6 311.7h0M679.9 310.2h0M680.2 335.1h0M680.4 368h0M680.7 299.3h0M681 362.2h0M681.2 376.8h0M681.5 290.7h0M681.8 302.9h0M682 272.2h0M682.3 329.8h0M682.6 317.3h0M682.8 358.9h0M683.1 412.5h0M683.4 450h0M683.6 501.6h0M683.9 449.5h0M684.2 281.3h0M684.4 415.5h0M684.7 466.7h0M685 466.5h0M685.2 433.8h0M685.5 461.9h0M685.8 477.8h0M686 467.7h0M686.3 462.4h0M686.5 459.8h0M686.8 438.6h0M687.1 428.1h0M687.3 449.9h0M687.6 400.1h0M687.9 485.6h0M688.1 447.1h0M688.4 475.1h0M688.7 435.1h0M688.9 407.8h0M689.2 513.8h0M689.5 452.3h0M689.7 359.2h0M690 355.4h0M690.3 291.4h0M690.5 465h0M690.8 468.7h0M691.1 472.6h0M691.3 397.7h0M691.6 420.7h0M691.9 471h0M692.1 523.2h0M692.4 451.8h0M692.7 466.8h0M692.9 460h0M693.2 397.4h0M693.5 366.8h0M693.7 417.7h0M694 305.1h0M694.3 386.9h0M694.5 321h0M694.8 405.5h0M695.1 343h0M695.3 438.8h0M695.6 460.7h0M695.9 505.1h0M696.1 552.4h0M696.4 490.3h0M696.7 494.1h0M696.9 473.8h0M697.2 440.5h0M697.5 433.2h0M697.7 442.1h0M698 487.1h0M698.3 487.8h0M698.5 443.9h0M698.8 442.2h0M699.1 456.9h0M699.3 438h0M699.6 424.4h0M699.9 415.8h0M700.1 416.6h0M700.4 438.4h0M700.7 416.7h0M700.9 523.9h0M701.2 557.4h0M701.5 553.1h0M701.7 526.9h0M702 593.2h0M702.3 577h0M702.5 551.3h0M702.8 538.5h0M703.1 517.9h0M703.3 560.3h0M703.6 539.3h0M703.9 620.2h0M704.1 539.4h0M704.4 536.8h0M704.7 465.3h0M704.9 568.9h0M705.2 400h0M705.5 510.1h0M705.7 500.8h0M706 540.4h0M706.3 471.7h0M706.5 483.6h0M706.8 365.4h0M707.1 438.4h0M707.3 435.1h0M707.6 463.6h0M707.8 339h0M708.1 426.9h0M708.4 408.7h0M708.6 474.4h0M708.9 518.9h0M709.2 433.7h0M709.4 455.2h0M709.7 439h0M710 393.9h0M710.2 444.4h0M710.5 453.3h0M710.8 422.3h0M711 511.1h0M711.3 467.3h0M711.6 489.6h0M711.8 501.5h0M712.1 476h0M712.4 423.8h0M712.6 488.4h0M712.9 505.4h0M713.2 472.9h0M713.4 527.2h0M713.7 579.9h0M714 476.2h0M714.2 476.5h0M714.5 548.8h0M714.8 600.4h0M715 466.9h0M715.3 405.1h0M715.6 456.8h0M715.8 429.1h0M716.1 408h0M716.4 448.1h0M716.6 397.8h0M716.9 381h0M717.2 468.3h0M717.4 467.3h0M717.7 477.1h0M718 517.4h0M718.2 561h0M718.5 492.2h0M718.8 508.9h0M719 470.7h0M719.3 580h0M719.6 572.9h0M719.8 485.7h0M720.1 495.1h0M720.4 530.6h0M720.6 519.6h0M720.9 610.3h0M721.2 621.4h0M721.4 548.2h0M721.7 522.1h0M722 413.9h0M722.2 501.7h0M722.5 421.6h0M722.8 623.4h0M723 596.5h0M723.3 462.7h0M723.6 451.5h0M723.8 463.6h0M724.1 419.2h0M724.4 388.6h0M724.6 412.1h0M724.9 469h0M725.2 481.8h0M725.4 440.9h0M725.7 486.9h0M726 393.3h0M726.2 475.2h0M726.5 417.7h0M726.8 422.2h0M727 474.7h0M727.3 399.3h0M727.6 432.2h0M727.8 493.3h0M728.1 495.8h0M728.4 496.6h0M728.6 436.4h0M728.9 547.6h0M729.1 556.6h0M729.4 532.9h0M729.7 437.9h0M729.9 405.6h0M730.2 489.9h0M730.5 571.9h0M730.7 587h0M731 565.2h0M731.3 515.7h0M731.5 480.6h0M731.8 477.6h0M732.1 504.4h0M732.3 494.8h0M732.6 376.9h0M732.9 557.2h0M733.1 481.2h0M733.4 429.9h0M733.7 465.2h0M733.9 440.5h0M734.2 386.1h0M734.5 448.9h0M734.7 488.8h0M735 472.9h0M735.3 547.8h0M735.5 565.2h0M735.8 482.5h0M736.1 503.8h0M736.3 451.3h0M736.6 430h0M736.9 468.6h0M737.1 363h0M737.4 407.8h0M737.7 536.5h0M737.9 568.9h0M738.2 574.3h0M738.5 577.1h0M738.7 553.1h0M739 594h0M739.3 567.3h0M739.5 611.4h0M739.8 426.6h0M740.1 506.9h0M740.3 438.5h0M740.6 426.9h0M740.9 478.7h0M741.1 545.3h0M741.4 488.4h0M741.7 507.3h0M741.9 469h0M742.2 437h0M742.5 408h0M742.7 444.2h0M743 369.4h0M743.3 441.9h0M743.5 468.4h0M743.8 435.7h0M744.1 437.8h0M744.3 371.7h0M744.6 504.3h0M744.9 442.2h0M745.1 497.4h0M745.4 555.6h0M745.7 499.4h0M745.9 441.5h0M746.2 514.2h0M746.5 583.2h0M746.7 507.2h0M747 487.7h0M747.3 396h0M747.5 532.1h0M747.8 618.1h0M748.1 536.3h0M748.3 544.5h0M748.6 487.7h0M748.9 510.9h0M749.1 511.7h0M749.4 412.8h0M749.6 438.3h0M749.9 466.4h0M750.2 551.9h0M750.4 528.2h0M750.7 496.8h0M751 527.1h0M751.2 595.2h0M751.5 572.2h0M751.8 600.3h0M752 567.8h0M752.3 537.6h0M752.6 521.7h0M752.8 501.8h0M753.1 485.5h0M753.4 538.3h0M753.6 486.5h0M753.9 546.7h0M754.2 574h0M754.4 540.7h0M754.7 499.1h0M755 500.3h0M755.2 493h0M755.5 587.9h0M755.8 553.9h0M756 570.5h0M756.3 531.9h0M756.6 550.5h0M756.8 467h0M757.1 512.4h0M757.4 515.9h0M757.6 491h0M757.9 541.9h0M758.2 562.5h0M758.4 422.7h0M758.7 453.7h0M759 427.7h0M759.2 508.3h0M759.5 618.1h0M759.8 560.4h0M760 558.8h0M760.3 499.1h0M760.6 529.1h0M760.8 573.5h0M761.1 605.2h0M761.4 515.1h0M761.6 590.8h0M761.9 521.2h0M762.2 481.5h0M762.4 577.4h0M762.7 592.7h0M763 524.9h0M763.2 481.3h0M763.5 451h0M763.8 493.9h0M764 564.9h0M764.3 480h0M764.6 518.5h0M764.8 549.7h0M765.1 554.2h0M765.4 540.5h0M765.6 619.2h0M765.9 598.7h0M766.2 610.2h0M766.4 588.2h0M766.7 596.4h0M767 500.9h0M767.2 568.9h0M767.5 540.8h0M767.8 506.1h0M768 480.1h0M768.3 405.8h0M768.6 442.1h0M768.8 435.2h0M769.1 497.4h0M769.4 453.4h0M769.6 534.8h0M769.9 533h0M770.2 519h0M770.4 456.1h0M770.7 460.3h0M770.9 450.4h0M771.2 454.9h0M771.5 489.8h0M771.7 480.6h0M772 424.1h0M772.3 445.5h0M772.5 441.3h0M772.8 464.7h0M773.1 570.5h0M773.3 494.8h0M773.6 518.4h0M773.9 443.3h0M774.1 381.4h0M774.4 355h0M774.7 424.2h0M774.9 420.2h0M775.2 455.8h0M775.5 450.4h0M775.7 455.2h0M776 400.8h0M776.3 522.5h0M776.5 456.5h0M776.8 425.4h0M777.1 480.2h0M777.3 294.6h0M777.6 336.4h0M777.9 356.3h0M778.1 301.3h0M778.4 397.7h0M778.7 548.9h0M778.9 459.4h0M779.2 470.1h0M779.5 504h0M779.7 407.1h0M780 420h0M780.3 430.5h0M780.5 401.7h0M780.8 511.3h0M781.1 405.3h0M781.3 434h0M781.6 536.3h0M781.9 426.5h0M782.1 424.1h0M782.4 446.7h0M782.7 456.5h0M782.9 471.9h0M783.2 485.8h0M783.5 373.9h0M783.7 481.7h0M784 550.6h0M784.3 549.7h0M784.5 542.3h0M784.8 442.3h0M785.1 413.5h0M785.3 379.8h0M785.6 381.1h0M785.9 419.4h0M786.1 389.5h0M786.4 371.4h0M786.7 310.3h0M786.9 348.5h0M787.2 362.3h0M787.5 328.5h0M787.7 333.9h0M788 432.5h0M788.3 368h0M788.5 336.5h0M788.8 357.8h0M789.1 290.8h0M789.3 490.5h0M789.6 438.2h0M789.9 396.1h0M790.1 367.7h0M790.4 410.9h0M790.7 368.4h0M790.9 425.8h0M791.2 461.5h0M791.5 438.8h0M791.7 424.6h0M792 454.9h0M792.2 485.3h0M792.5 411.6h0M792.8 441.3h0M793 399.5h0M793.3 357.1h0M793.6 354.8h0M793.8 356.6h0M794.1 334h0M794.4 293.1h0M794.6 289h0M794.9 401.3h0M795.2 488.8h0M795.4 470.1h0M795.7 499.4h0M796 427.4h0M796.2 400.2h0M796.5 396.8h0M796.8 408.7h0M797.3 364.3h0M797.6 347h0M797.8 284h0M798.4 353.4h0M798.6 421.5h0M798.9 440.4h0M799.2 390.7h0M799.4 411.2h0M799.7 389.7h0M800.2 376.6h0M800.5 414.3h0M800.8 440.4h0M801 484.4h0M801.3 368.3h0M801.6 386.3h0M801.8 361.2h0M802.1 381.4h0M802.4 456.3h0M802.6 361.4h0M802.9 351.5h0M803.2 424.5h0M803.4 352.6h0M803.7 369.5h0M804 449.4h0M804.2 396.9h0M804.5 428.9h0M804.8 394.3h0M805 428h0M805.3 387.4h0M805.6 364.3h0M805.8 369.1h0M806.1 335.7h0M806.4 385.8h0M806.6 358.4h0M806.9 396h0M807.2 392.7h0M807.7 326.2h0M808 265h0M808.2 344h0M808.5 410.4h0M808.8 417.6h0M809 431.8h0M809.3 409.9h0M809.6 425.5h0M809.8 399.3h0M810.1 372.2h0M810.4 370.2h0M810.6 460.3h0M810.9 457.5h0M811.2 500.5h0M811.4 459.7h0M811.7 452.9h0M812 441h0M812.2 445.7h0M812.5 499.1h0M812.7 489.8h0M813 435.9h0M813.3 386.8h0M813.5 481.2h0M813.8 378.1h0M814.1 440.1h0M814.3 425.7h0M814.6 507.2h0M814.9 494.1h0M815.1 444.6h0M815.4 541.3h0M815.7 519.2h0M815.9 492h0M816.2 504.1h0M816.5 414.9h0M816.7 370.4h0M817 406.7h0M817.3 445.2h0M817.5 420.8h0M817.8 390.6h0M818.1 335.8h0M818.3 376.2h0M818.6 326.1h0M818.9 359.8h0M819.1 420.8h0M819.4 605.4h0M819.7 590.8h0M819.9 630.4h0M820.2 467.4h0M820.5 311.5h0M820.7 336.2h0M821 401.8h0M821.3 449.9h0M821.5 489.1h0M821.8 513.7h0M822.1 501.1h0M822.3 539.1h0M822.6 576.1h0M822.9 499.9h0M823.1 466h0M823.4 422.7h0M823.9 506.9h0M824.2 565.2h0M824.5 483.3h0M824.7 500h0M825 536.8h0M825.3 472.8h0M825.5 476.7h0M825.8 409.4h0M826.1 481.3h0M826.3 518.5h0M826.6 527.4h0M826.9 473.2h0M827.1 515.6h0M827.4 471.8h0M827.7 508.7h0M827.9 509.6h0M828.2 527.9h0M828.5 600.3h0M828.7 462.9h0M829 502h0M829.3 531.2h0M829.5 457.7h0M829.8 522h0M830.1 507.9h0M830.3 441.2h0M830.6 423.5h0M830.9 430.8h0M831.1 415.5h0M831.4 483.9h0M831.7 466.9h0M831.9 513.9h0M832.2 486.4h0M832.5 450.5h0M832.7 473.6h0M833 509.8h0M833.3 510.4h0M833.5 488.7h0M833.8 487.1h0M834 471.8h0M834.3 500.1h0M834.6 508.2h0M834.8 510.1h0M835.1 474h0M835.4 493.2h0M835.6 607.9h0M835.9 564.6h0M836.2 566.7h0M836.4 552.2h0M836.7 431.2h0M837 434.1h0M837.2 336.7h0M837.5 539h0M837.8 489.5h0M838 496h0M838.3 480.4h0M838.6 523.2h0M838.8 506.8h0M839.1 506.9h0M839.4 473.3h0M839.6 406.4h0M839.9 520.9h0M840.2 480.4h0M840.4 608.6h0M840.7 608h0M841 610.6h0M841.2 617.5h0M842 587.7h0M842.3 563.7h0M842.6 553.3h0M842.8 564h0M843.1 542.6h0M843.4 512.3h0M843.6 417.9h0M843.9 419.9h0M844.2 370.6h0M844.4 453.5h0M844.7 464.2h0M845 422.8h0M845.2 480.2h0M845.5 530.2h0M845.8 521.7h0M846 594.9h0M846.3 642h0M846.6 533.5h0M846.8 573h0M847.1 547.2h0M847.4 536.2h0M847.6 559.6h0M847.9 504h0M848.2 478.3h0M848.4 448.8h0M848.7 439h0M849 437.5h0M849.2 402.7h0M849.5 403.9h0M849.8 481h0M850 482h0M850.3 519.2h0M850.6 438.6h0M850.8 413.9h0M851.1 437.5h0M851.4 447.5h0M851.6 444h0M851.9 514.4h0M852.2 492.6h0M852.4 507.2h0M852.7 502.5h0M853 535h0M853.2 508.9h0M853.5 544.5h0M853.8 535.3h0M854 539.5h0M854.3 523h0M854.6 546.1h0M854.8 565.2h0M855.1 578.4h0M855.3 558.6h0M855.6 571.5h0M855.9 550.6h0M856.1 585.9h0M856.4 559.6h0M856.7 479.9h0M856.9 525.3h0M857.2 508.1h0M857.5 468.5h0M857.7 540.5h0M858 437.4h0M858.3 557.4h0M858.5 558.9h0M858.8 367.4h0M859.1 510.3h0M859.3 488.7h0M859.6 590.4h0M859.9 508.7h0M860.1 392.1h0M860.4 436.5h0M860.7 430.3h0M860.9 454.5h0M861.2 367.5h0M861.5 455.2h0M861.7 527.9h0M862 449.1h0M862.3 502.4h0M862.5 466.6h0M862.8 579.2h0M863.1 571.6h0M863.3 537.1h0M863.6 557h0M863.9 569.9h0M864.1 504.9h0M864.4 536.7h0M864.7 499.8h0M864.9 440.4h0M865.2 548.3h0M865.5 516.6h0M865.7 472.3h0M866 514.8h0M866.3 449.8h0M866.5 430.7h0M866.8 300.2h0M867.1 434h0M867.3 463.1h0M867.6 526.2h0M867.9 509.8h0M868.1 522.3h0M868.4 562.2h0M868.7 486.1h0M868.9 497.6h0M869.2 420.3h0M869.5 520.9h0M869.7 538.2h0M870 549.2h0M870.3 481.2h0M870.5 489.4h0M870.8 470.7h0M871.1 540.5h0M871.3 508.6h0M871.6 482.2h0M871.9 543.6h0M872.1 566.3h0M872.4 521.5h0M872.7 637.8h0M872.9 546.4h0M873.2 512.9h0M873.5 536.4h0M873.7 504.9h0M874 486.2h0M874.3 508.3h0M874.5 574.4h0M874.8 598.8h0M875.1 550h0M875.3 620.2h0M875.6 579.1h0M876.1 577.4h0M876.4 574.6h0M876.9 615h0M877.2 510.3h0M877.4 586.1h0M877.7 539h0M878 517.7h0M878.2 495.9h0M878.5 488.4h0M878.8 535.2h0M879 541.9h0M879.3 594h0M879.6 642.5h0M879.8 608.9h0M880.1 596h0M880.4 539.2h0M880.6 511.6h0M880.9 573.3h0M881.2 565h0M881.4 470.8h0M881.7 539.5h0M882 518h0M882.2 480.1h0M882.5 435.5h0M882.8 508.6h0M883 446.9h0M883.3 345.6h0M883.6 590.9h0M883.8 479.4h0M884.1 516.5h0M884.4 543.6h0M884.6 577.9h0M884.9 524.4h0M885.2 412.9h0M885.4 530.9h0M885.7 560.6h0M886 533.3h0M886.2 480.2h0M886.5 531.4h0M886.8 600.3h0M887 593.8h0M887.3 511.9h0M887.6 521.2h0M887.8 529.6h0M888.1 553.2h0M888.4 494h0M888.6 510.3h0M888.9 495.9h0M889.2 459.3h0M889.4 489.2h0M889.7 487.5h0M890 439.3h0M890.2 511.8h0M890.5 430.6h0M890.8 450.5h0M891 483.1h0M891.3 518.4h0M891.6 551h0M891.8 477.9h0M892.1 402.1h0M892.4 451.3h0M892.6 491.9h0M892.9 570.4h0M893.2 575.2h0M893.4 492.5h0M893.7 523.4h0M894 478h0M894.2 415.8h0M894.5 567.2h0M894.8 499.1h0M895 557.7h0M895.3 471.1h0M895.6 585.4h0M895.8 564.5h0M896.1 581.3h0M896.4 498.8h0M896.6 402.8h0M896.9 520.9h0M897.1 544.6h0M897.4 520.6h0M897.7 454.2h0M897.9 504.6h0M898.2 453.5h0M898.5 514.7h0M898.7 533.1h0M899 448.5h0M899.3 502.5h0M899.5 555.8h0M899.8 533.4h0M900.1 498h0M900.3 450.8h0M900.6 440.7h0M900.9 541.2h0M901.1 502.5h0M901.4 463.2h0M901.7 507.8h0M901.9 525.7h0M902.2 514.9h0M902.5 408.7h0M902.7 482.7h0M903 410.4h0M903.3 378.9h0M903.5 444.5h0M903.8 423.4h0M904.1 465.6h0M904.3 567.6h0M904.6 555.7h0M904.9 532.6h0M905.1 440.1h0M905.4 329h0M905.7 387.8h0M905.9 370.2h0M906.2 322h0M906.5 350.3h0M906.7 377.7h0M907 341.2h0M907.3 388h0M907.5 306.3h0M907.8 363.2h0M908.1 374.5h0M908.3 447.6h0M908.6 482.3h0M908.9 449.2h0M909.1 356.9h0M909.4 390.5h0M909.7 484.9h0M909.9 516.9h0M910.2 460h0M910.5 334.1h0M910.7 428.7h0M911 319h0M911.3 332.3h0M911.5 389.2h0M911.8 401.9h0M912.1 374.3h0M912.3 433.8h0M912.6 349.4h0M912.9 389.2h0M913.1 381.5h0M913.4 354.1h0M913.7 356.9h0M913.9 333.8h0M914.2 440.9h0M914.5 415h0M914.7 476.9h0M915 399.1h0M915.3 419.8h0M915.5 371.9h0M915.8 299.3h0M916.1 347.3h0M916.3 394.1h0M916.6 334h0M916.9 382.8h0M917.1 353h0M917.4 379h0M917.7 387.2h0M917.9 407.7h0M918.2 287.8h0M918.4 416.3h0M918.7 435.7h0M919 392.7h0M919.2 334.6h0M919.5 283.6h0M919.8 279.9h0M920 311.3h0M920.3 317.7h0M920.6 301.4h0M920.8 299.8h0M921.1 327.3h0M921.4 363.1h0M921.6 337.9h0M921.9 402.7h0M922.2 422.6h0M922.4 380.5h0M922.7 342.9h0M923 302.4h0M923.2 293.2h0M923.5 307.4h0M923.8 302.4h0M924 338.2h0M924.3 384.8h0M924.6 391.1h0M924.8 376.6h0M925.1 335.5h0M925.4 280.4h0M925.6 288.2h0M925.9 289h0M926.2 289.8h0M926.4 325.5h0M926.7 284.5h0M927 278.4h0M927.2 313.8h0M927.5 333.6h0M927.8 341h0M928 377.8h0M928.3 383.5h0M928.6 355.4h0M928.8 375.1h0M929.1 471.9h0M929.4 407.9h0M929.6 463.5h0M929.9 510.8h0M930.2 525.9h0M930.4 448.1h0M930.7 500.2h0M931 474h0M931.2 462.7h0M931.5 417.2h0M931.8 440.4h0M932 450.6h0M932.3 415.1h0M932.6 491.8h0M932.8 423.9h0M933.1 373h0M933.4 408.3h0M933.6 472.2h0M933.9 474.8h0M934.2 409.6h0M934.4 479.2h0M934.7 461.7h0M935 540h0M935.2 442.3h0M935.5 440.9h0M935.8 416.6h0M936 332.3h0M936.3 358.8h0M936.6 424.5h0M936.8 421.4h0M937.1 391.7h0M937.4 449.4h0M937.6 491.4h0M937.9 452.8h0M938.2 448.9h0M938.4 441.3h0M938.7 479.1h0M938.9 428.6h0M939.2 390.5h0M939.5 437.5h0M939.7 515h0M940 449.6h0M940.3 321.7h0M940.5 298.8h0M940.8 322.1h0M941.1 382.1h0M941.3 441h0M941.6 427.4h0M941.9 394.5h0M942.1 430.8h0M942.4 403.8h0M942.7 415.1h0M942.9 415.7h0M943.2 489.8h0M943.5 554.6h0M943.7 489.8h0M944 414.9h0M944.3 408.4h0M944.5 368.4h0M944.8 398.3h0M945.1 371.9h0M945.3 511.7h0M945.6 442.5h0M945.9 408.3h0M946.1 395.2h0M946.4 345.8h0M946.7 363.3h0M946.9 388.1h0M947.2 458.4h0M947.5 450.4h0M947.7 502.6h0M948 513.2h0M948.3 479.2h0M948.5 389.1h0M948.8 369.4h0M949.1 514.4h0M949.3 511.7h0M949.6 508.6h0M949.9 543h0M950.1 495.4h0M950.4 470h0M950.7 497.6h0M950.9 514.3h0M951.2 517.8h0M951.5 483.6h0M951.7 409.1h0M952 488.7h0M952.3 487.7h0M952.5 461h0M952.8 546.9h0M953.1 548.5h0M953.3 517.9h0M953.6 572.5h0M953.9 465.1h0M954.1 522.2h0M954.4 537h0M954.7 474.3h0M954.9 460.3h0M955.2 362.2h0M955.5 474.8h0M955.7 413.5h0M956 478h0M956.3 459.1h0M956.5 417.7h0M956.8 462.8h0M957.1 476.9h0M957.3 501.5h0M957.6 593.1h0M957.9 575.3h0M958.1 581h0M958.4 514.4h0M958.7 611.5h0M958.9 534.8h0M959.2 474.7h0M959.5 502.7h0M959.7 500h0M960 497.6h0M960.2 526h0M960.5 472.4h0M960.8 437.2h0M961 501.8h0M961.3 425.6h0M961.6 344.1h0M961.8 500.3h0M962.1 376.2h0M962.4 407.2h0M962.6 460.8h0M962.9 280.6h0M963.2 540.9h0M963.4 528.9h0M963.7 504.8h0M964 565.5h0M964.2 582.9h0M964.5 525.1h0M964.8 525.1h0M965 455.4h0M965.3 487.8h0M965.6 451.8h0M965.8 439.2h0M966.1 481h0M966.4 450.5h0M966.6 441.2h0M966.9 470.4h0M967.2 430.7h0M967.4 485.3h0M967.7 499.5h0M968 410.6h0M968.2 454.6h0M968.5 435.7h0M968.8 372.2h0M969 449h0M969.3 335.6h0M969.6 486h0M969.8 455.2h0M970.1 529.9h0M970.4 486.2h0M970.6 523.3h0M970.9 536.1h0M971.2 465h0M971.4 406.1h0M971.7 482.2h0M972 528.6h0M972.2 616.5h0M972.5 604h0M972.8 553.4h0M973 524.1h0M973.3 508.4h0M973.6 500.2h0M973.8 542.8h0M974.1 552.2h0M974.4 472.8h0M974.6 447.5h0M974.9 501.8h0M975.2 472.4h0M975.4 424.5h0M975.7 516h0M976 469.7h0M976.2 457.2h0M976.5 437.7h0M976.8 358.1h0M977 460.8h0M977.3 383.6h0M977.6 390.1h0M977.8 396.3h0M978.1 450.1h0M978.4 458.1h0M978.6 447.3h0M978.9 321h0M979.2 414.1h0M979.4 391.1h0M979.7 418.6h0M980 474.1h0M980.2 463.4h0M980.5 577h0M980.8 526.3h0M981 539.3h0M981.3 517.1h0M981.5 489.9h0M981.8 532.3h0M982.1 562.9h0M982.3 432.4h0M982.6 532.9h0M982.9 544.5h0M983.1 540.3h0M983.4 561.9h0M983.7 472.6h0M983.9 417.8h0M984.2 523.5h0M984.5 594.7h0M984.7 462.6h0M985 463.4h0M985.3 455h0M985.5 398.2h0M985.8 331.1h0M986.1 303.1h0M986.3 373.8h0M986.6 417.6h0M986.9 444.5h0M987.1 461.8h0M987.4 484.5h0M987.7 403.6h0M987.9 415.1h0M988.2 401.4h0M988.5 387.3h0M988.7 414.3h0M989 431.8h0M989.3 443.4h0M989.5 393h0M989.8 422.2h0M990.1 512.6h0M990.3 454.1h0M990.6 395.6h0M990.9 463.7h0M991.1 424.9h0M991.4 500.3h0M991.7 446.8h0M991.9 562.2h0M992.2 467.5h0M992.5 434.2h0M992.7 419.9h0M993 432h0M993.3 410h0M993.5 541.5h0M993.8 498.9h0M994.1 528.5h0M994.3 532.6h0M994.6 552.1h0M994.9 489.8h0M995.1 414.9h0M995.4 499h0M995.7 437.8h0M995.9 458.8h0M996.2 480h0M996.5 466.8h0M996.7 461.1h0M997 562.8h0M997.3 421.5h0M997.5 529.5h0M997.8 618.3h0M998.1 583.6h0M998.3 571.5h0M998.6 594.5h0M998.9 644.4h0M999.1 544.6h0M999.4 549.1h0M999.7 550.5h0M999.9 579.3h0M1000.2 488.1h0M1000.5 601.3h0M1000.7 556.5h0M1001 492h0M1001.3 536.6h0M1001.5 510.8h0M1001.8 516.1h0M1002 526.8h0M1002.3 481.9h0M1002.6 494.6h0M1002.8 543.2h0M1003.1 490.5h0M1003.4 564.6h0M1003.6 516.5h0M1003.9 553.2h0M1004.2 544.1h0M1004.4 563.1h0M1004.7 531.1h0M1005 538.8h0M1005.2 536.3h0M1005.8 533.8h0M1006 520.9h0M1006.3 540h0M1006.6 495.6h0M1006.8 461.5h0M1007.1 579.5h0M1007.4 521.4h0M1007.6 639.2h0M1007.9 602.3h0M1008.2 575.6h0M1008.4 592.5h0M1008.7 610.6h0M1009 616.9h0M1009.2 607.6h0M1009.5 579.3h0M1009.8 569.8h0M1010 607.2h0M1010.3 613h0M1010.6 555.3h0M1010.8 490.4h0M1011.1 519.6h0M1011.4 530.8h0M1011.6 493.6h0M1011.9 485.2h0M1012.2 465.8h0M1012.4 519.1h0M1012.7 572.5h0M1013 530.2h0M1013.2 611.3h0M1013.5 578.9h0M1013.8 684.2h0M1014.3 626.9h0M1014.6 541.1h0M1014.8 354h0M1015.1 455.7h0M1015.4 464.7h0M1015.6 574.6h0M1015.9 479h0M1016.2 611.5h0M1016.4 531.4h0M1016.7 526.6h0M1017 421h0M1017.2 444.5h0M1017.5 419.9h0M1017.8 532.5h0M1018 493.5h0M1018.3 438.4h0M1018.6 482h0M1018.8 506.5h0M1019.1 525.4h0M1019.4 581.6h0M1019.6 589.6h0M1019.9 548.2h0M1020.2 443.9h0M1020.4 391h0M1020.7 485.7h0M1021 501.4h0M1021.2 383.6h0M1021.5 461.4h0M1021.8 479.8h0M1022 470.7h0M1022.3 446.4h0M1022.6 432.2h0M1022.8 539.7h0M1023.1 512.4h0M1023.3 455.1h0M1023.6 394.6h0M1023.9 367h0M1024.1 423.7h0M1024.4 473.9h0M1024.7 457.9h0M1024.9 443.4h0M1025.2 385h0M1025.5 377.1h0M1025.7 455.1h0M1026 450h0M1026.3 557.4h0M1026.5 471.2h0M1026.8 449.9h0M1027.1 432h0M1027.3 450.9h0M1027.6 378h0M1027.9 333.2h0M1028.1 385h0M1028.4 394.3h0M1028.7 377.1h0M1028.9 385.8h0M1029.2 486.8h0M1029.5 458.3h0M1029.7 435h0M1030 404.2h0M1030.3 431.9h0M1030.5 451.4h0M1030.8 421.2h0M1031.1 436.4h0M1031.3 410.7h0M1031.6 342.2h0M1031.9 320.6h0M1032.1 368.3h0M1032.4 348.9h0M1032.7 374.3h0M1032.9 402.8h0M1033.2 453.6h0M1033.5 453.9h0M1033.7 473.8h0M1034 453h0M1034.3 379.6h0M1034.5 381.5h0M1034.8 334.7h0M1035.1 351.9h0M1035.3 399.3h0M1035.6 378.5h0M1035.9 401.6h0M1036.1 402.4h0M1036.4 389.6h0M1036.7 337.3h0M1036.9 336.5h0M1037.2 377.8h0M1037.5 384.3h0M1037.7 448.1h0M1038 430.3h0M1038.3 441.2h0M1038.5 416.5h0M1038.8 278.6h0M1039.1 332.2h0M1039.3 308.5h0M1039.6 369.8h0M1039.9 352.6h0M1040.1 362h0M1040.4 437.1h0M1040.7 447.6h0M1040.9 398.9h0M1041.2 409.7h0M1041.5 431.6h0M1041.7 461.5h0M1042 420.6h0M1042.3 355.2h0M1042.5 504.1h0M1042.8 463.1h0M1043.1 412.3h0M1043.3 368.3h0M1043.6 316.8h0M1043.9 397.1h0M1044.1 372.3h0M1044.4 303.8h0M1044.6 468h0M1044.9 561.7h0M1045.2 447.5h0M1045.4 452.9h0M1045.7 440.9h0M1046 431.4h0M1046.2 424h0M1046.5 393.3h0M1046.8 450.8h0M1047 448.1h0M1047.3 437h0M1047.6 461.2h0M1047.8 472.6h0M1048.1 452.4h0M1048.4 435.4h0M1048.6 476.7h0M1048.9 474.8h0M1049.2 433.2h0M1049.7 362.6h0M1050 324.1h0M1050.2 301.9h0M1050.5 378.7h0M1050.8 284.1h0M1051 327.5h0M1051.3 362.7h0M1051.6 391.8h0M1051.8 344.3h0M1052.1 404.2h0M1052.4 369.5h0M1052.6 332.8h0M1052.9 309.8h0M1053.2 340.8h0M1053.4 393.5h0M1053.7 442.7h0M1054 440.2h0M1054.2 376.1h0M1054.5 354.3h0M1054.8 331.6h0M1055 355.8h0M1055.3 296.3h0M1055.6 333.7h0M1055.8 381.9h0M1056.1 389.2h0M1056.4 413h0M1056.6 390.5h0M1056.9 338.9h0M1057.2 347.8h0M1057.4 416.5h0M1057.7 462.3h0M1058 435.4h0M1058.2 476.6h0M1058.5 441.7h0M1058.8 498h0M1059 475.6h0M1059.3 459.2h0M1059.6 309.9h0M1059.8 404.7h0M1060.1 389.3h0M1060.4 265.2h0M1060.6 399.6h0M1060.9 436.4h0M1061.2 420.5h0M1061.4 364.6h0M1061.7 466.2h0M1062 436h0M1062.2 412.3h0M1062.5 476h0M1062.8 511h0M1063 498h0M1063.3 397.8h0M1063.6 393.3h0M1063.8 448.1h0M1064.1 459.2h0M1064.4 657.7h0M1064.6 453.1h0M1064.9 485.8h0M1065.1 459.3h0M1065.4 501.3h0M1065.7 492.7h0M1065.9 532.3h0M1066.2 454.2h0M1066.5 416.2h0M1066.7 387h0M1067 393h0M1067.3 381.1h0M1067.5 476.9h0M1067.8 520.1h0M1068.1 505.9h0M1068.3 490.8h0M1068.6 452.8h0M1068.9 406.5h0M1069.1 508.5h0M1069.4 504.2h0M1069.7 513.3h0M1069.9 461.4h0M1070.2 393.1h0M1070.5 386.3h0M1070.7 374.6h0M1071 424.2h0M1071.3 445.3h0M1071.5 417.6h0M1071.8 418.7h0M1072.1 520.5h0M1072.3 443.1h0M1072.6 411.6h0M1072.9 432.5h0M1073.1 418h0M1073.4 409.3h0M1073.7 470.1h0M1073.9 589h0M1074.2 469.9h0M1074.5 483.5h0M1074.7 483.4h0M1075 492h0M1075.3 495.8h0M1075.5 502.1h0M1075.8 542.5h0M1076.1 522.6h0M1076.3 501.4h0M1076.6 518.2h0M1076.9 536.1h0M1077.1 491h0M1077.4 565.6h0M1077.7 551.2h0M1077.9 545.8h0M1078.2 533.1h0M1078.5 486.8h0M1078.7 464.7h0M1079 437.5h0M1079.3 355.9h0M1079.5 476.1h0M1079.8 441.2h0M1080.1 488.3h0M1080.3 514.6h0M1080.6 436.4h0M1080.9 550.9h0M1081.1 479.4h0M1081.4 536.1h0M1081.7 634.6h0M1081.9 580h0M1082.2 528.3h0M1082.5 610.7h0M1082.7 522.3h0M1083 505.4h0M1083.3 563.1h0M1083.5 506.2h0M1083.8 522.3h0M1084.1 602.1h0M1084.3 643.5h0M1084.6 545h0M1084.9 532.9h0M1085.1 555.6h0M1085.4 553.6h0M1085.7 504h0M1085.9 515.2h0M1086.2 496.9h0M1086.4 492.8h0M1086.7 589.8h0M1087 601.7h0M1087.2 566.8h0M1087.5 561.7h0M1087.8 471.4h0M1088 493.8h0M1088.3 494h0M1088.6 480.6h0M1088.8 490.4h0M1089.1 457.2h0M1089.4 409.8h0M1089.9 553.6h0M1090.2 552.9h0M1090.4 531.9h0M1090.7 568.4h0M1091 556.5h0M1091.2 604.1h0M1091.5 528h0M1091.8 512.8h0M1092 462.7h0M1092.3 546.2h0M1092.6 423h0M1092.8 507.3h0M1093.1 490.1h0M1093.4 532.9h0M1093.6 504.6h0M1093.9 538.2h0M1094.2 474.2h0M1094.4 502.6h0M1094.7 461.9h0M1095 486.6h0M1095.2 446.5h0M1095.5 498.3h0M1095.8 422.5h0M1096 448.2h0M1096.3 375.4h0M1096.6 467.6h0M1096.8 387.9h0M1097.1 372.8h0M1097.4 339.8h0M1097.6 463.5h0M1097.9 376.1h0M1098.2 427.1h0M1098.4 423.2h0M1098.7 371.2h0M1099 392h0M1099.2 440h0M1099.5 448h0M1099.8 492.3h0M1100 469.1h0M1100.3 454.5h0M1100.6 439.2h0M1100.8 462.6h0M1101.1 554.4h0M1101.4 469.7h0M1101.6 538.8h0M1101.9 380.9h0M1102.2 441.1h0M1102.4 531.4h0M1102.7 449.7h0M1103 411.9h0M1103.2 435.5h0M1103.5 412.1h0M1103.8 462.2h0M1104 393.9h0M1104.3 383.1h0M1104.6 591h0M1104.8 440.2h0M1105.1 414.2h0M1105.4 461.6h0M1105.6 540.3h0M1105.9 466.2h0M1106.2 416.8h0M1106.4 469.9h0M1106.7 558.6h0M1107 501.2h0M1107.2 388.9h0M1107.5 494.8h0M1107.7 474.6h0M1108 533.4h0M1108.3 491.2h0M1108.5 475.8h0M1108.8 456.3h0M1109.1 538.2h0M1109.3 577.5h0M1109.6 463.7h0M1109.9 413.1h0M1110.1 537.5h0M1110.4 638.2h0M1110.7 442.9h0M1110.9 462.4h0M1111.2 479.8h0M1111.5 469.8h0M1111.7 336.2h0M1112 477.1h0M1112.3 448.4h0M1112.5 474.8h0M1112.8 452.7h0M1113.1 443.6h0M1113.3 456h0M1113.6 535.7h0M1113.9 509.4h0M1114.1 494.8h0M1114.4 527.4h0M1114.7 541.1h0M1114.9 551.2h0M1115.2 544.7h0M1115.5 582.2h0M1115.7 405h0M1116 552.4h0M1116.3 501h0M1116.5 516.4h0M1116.8 509.2h0M1117.1 514.7h0M1117.3 450.5h0M1117.6 385.4h0M1117.9 453.1h0M1118.1 467.4h0M1118.4 527.6h0M1118.7 464h0M1118.9 503.5h0M1119.2 466.4h0M1119.5 499.6h0M1119.7 514.8h0M1120 433.6h0M1120.3 451.1h0M1120.5 383.8h0M1120.8 379.4h0M1121.1 338.4h0M1121.3 405.3h0M1121.6 447.9h0M1121.9 493.4h0M1122.1 479h0M1122.4 475.8h0M1122.7 493.5h0M1122.9 449h0M1123.2 498.8h0M1123.5 505.5h0M1123.7 456.1h0M1124 444.7h0M1124.3 467.1h0M1124.5 467.6h0M1124.8 422.3h0M1125.1 574.7h0M1125.3 535.8h0M1125.6 494.5h0M1125.9 414.1h0M1126.1 431.9h0M1126.4 419.3h0M1126.7 361.1h0M1126.9 430.3h0M1127.2 488.9h0M1127.5 461.5h0M1127.7 454.7h0M1128 419.5h0M1128.2 495.4h0M1128.5 433.6h0M1128.8 414.1h0M1129 567.4h0M1129.3 524.7h0M1129.6 524.5h0M1129.8 519.2h0M1130.1 474.2h0M1130.4 475.3h0M1130.6 509h0M1130.9 480.6h0M1131.2 506.9h0M1131.4 544.3h0M1131.7 591.4h0M1132 487.4h0M1132.2 449.8h0M1132.5 406.1h0M1132.8 497.3h0M1133 581.5h0M1133.3 555.5h0M1133.6 485.7h0M1133.8 442h0M1134.1 477.7h0M1134.4 500h0M1134.6 273.2h0M1134.9 488.4h0M1135.2 521h0M1135.4 520.2h0M1135.7 473.7h0M1136 330.8h0M1136.2 432.1h0M1136.5 468h0M1136.8 467.1h0M1137 448.2h0M1137.3 438.6h0M1137.6 559.5h0M1137.8 482.2h0M1138.1 478.9h0M1138.4 432.2h0M1138.6 437.9h0M1138.9 465.3h0M1139.2 403.1h0M1139.4 370.2h0M1139.7 382.1h0M1140 483.3h0M1140.2 465.6h0M1140.5 539.3h0M1140.8 482.3h0M1141 459.9h0M1141.3 378.8h0M1141.8 453h0M1142.1 458.4h0M1142.4 476.3h0M1142.6 494.7h0M1142.9 474.7h0M1143.2 443.2h0M1143.4 311.7h0M1143.7 438.5h0M1144 467.6h0M1144.2 442.7h0M1144.5 457.8h0M1144.8 376.1h0M1145 391.1h0M1145.3 372.7h0M1145.6 427.7h0M1145.8 346.9h0M1146.1 347.9h0M1146.4 467h0M1146.6 428.7h0M1146.9 374.2h0M1147.2 374.4h0M1147.4 466.9h0M1147.7 412.3h0M1148 454.5h0M1148.2 420.9h0M1148.5 390.5h0M1148.8 520h0M1149 466.5h0M1149.3 421.2h0M1149.5 393.1h0M1149.8 399.1h0M1150.1 396.7h0M1150.3 434.1h0M1150.6 407.3h0M1150.9 309.7h0M1151.1 381.2h0M1151.4 347.8h0M1151.7 345.6h0M1151.9 291.8h0M1152.2 291.1h0M1152.5 293.8h0M1152.7 339.6h0M1153 286.7h0M1153.3 332.7h0M1153.5 349.6h0M1153.8 307.5h0M1154.1 324.5h0M1154.3 380.8h0M1154.6 372.1h0M1154.9 255.2h0M1155.1 285.3h0M1155.7 276.2h0M1155.9 363.8h0M1156.2 326.5h0M1156.5 314.1h0M1156.7 312.7h0M1157 437.8h0M1157.3 456h0M1157.5 462.7h0M1157.8 366.9h0M1158.1 321.3h0M1158.3 393.9h0M1158.6 353.4h0M1158.9 343h0M1159.1 380.8h0M1159.4 308.2h0M1159.7 349.9h0M1159.9 338.8h0M1160.2 376.4h0M1160.5 326.9h0M1160.7 376.1h0M1161 340.7h0M1161.3 410.9h0M1161.5 417.2h0M1161.8 506.7h0M1162.1 415.4h0M1162.3 413.9h0M1162.6 269h0M1162.9 335.5h0M1163.1 347.5h0M1163.4 341.8h0M1163.7 384.6h0M1163.9 301.6h0M1164.2 284.4h0M1164.5 344.3h0M1164.7 410.3h0M1165 360.9h0M1165.3 329.8h0M1165.5 409.6h0M1165.8 327h0M1166.1 353.3h0M1166.3 400.7h0M1166.6 332.7h0M1166.9 375.6h0M1167.1 445.6h0M1167.4 346h0M1167.7 426.6h0M1167.9 393.1h0M1168.2 444.4h0M1168.5 400.5h0M1168.7 305.1h0M1169 348.1h0M1169.3 399.3h0M1169.5 483.3h0M1169.8 472.2h0M1170.1 484.2h0M1170.3 413.5h0M1170.6 355.1h0M1170.8 418.9h0M1171.1 308.8h0M1171.4 302.3h0M1171.9 297.5h0M1172.4 454.3h0M1172.7 470.6h0M1173 402.6h0M1173.2 421.9h0M1173.5 339.5h0M1173.8 323.9h0M1174 278.8h0M1174.3 376.8h0M1174.6 392.8h0M1174.8 358.5h0M1175.1 367.9h0M1175.4 412.4h0M1175.6 443.7h0M1175.9 411.5h0M1176.2 376.5h0M1176.4 353.6h0M1176.7 396.3h0M1177 440.1h0M1177.2 367.6h0M1177.5 335.5h0M1177.8 417.5h0M1178 366.4h0M1178.3 423.6h0M1178.6 360.1h0M1178.8 465.5h0M1179.1 502.2h0M1179.4 476.6h0M1179.6 485.2h0M1179.9 406.9h0M1180.2 372.6h0M1180.4 414.9h0M1180.7 486.4h0M1181 516.2h0M1181.2 574.9h0M1181.5 524.7h0M1181.8 445.8h0M1182 501.9h0M1182.3 463h0M1182.6 445.8h0M1182.8 386.3h0M1183.1 447.2h0M1183.4 394.7h0M1183.6 418.2h0M1183.9 367.2h0M1184.2 442.1h0M1184.4 375.7h0M1184.7 454.8h0M1185 366.9h0M1185.2 360.7h0M1185.5 445.2h0M1185.8 402.2h0M1186 432.1h0M1186.3 428.3h0M1186.6 312.4h0M1186.8 392.9h0M1187.1 438.1h0M1187.4 402.8h0M1187.6 457.3h0M1187.9 427.4h0M1188.2 398.5h0M1188.4 439.1h0M1188.7 423h0M1189 545.2h0M1189.2 454.7h0M1189.5 462.8h0M1189.8 537.2h0M1190 412.1h0M1190.3 385.8h0M1190.6 434.1h0M1190.8 437.1h0M1191.1 468.7h0M1191.3 528.3h0M1191.6 493h0M1191.9 444.1h0M1192.1 336.8h0M1192.4 419.7h0M1192.7 398.1h0M1192.9 445.8h0M1193.2 474.6h0M1193.5 443.6h0M1193.7 557.6h0M1194 570.8h0M1194.3 579.5h0M1194.5 487.6h0M1194.8 483.4h0M1195.1 460.5h0M1195.3 453.3h0M1195.6 423.4h0M1195.9 477h0M1196.1 516.3h0M1196.4 529.4h0M1196.7 478h0M1196.9 542.5h0M1197.2 522.1h0M1197.5 392.9h0M1197.7 406.1h0M1198 464.6h0M1198.3 524.5h0M1198.5 496.6h0M1198.8 494.2h0M1199.1 468.7h0M1199.3 510.3h0M1199.6 515.6h0M1199.9 461.3h0M1200.1 466.5h0M1200.4 504h0M1200.7 500.7h0M1200.9 417.1h0M1201.2 502.4h0M1201.5 469.7h0M1201.7 507.3h0M1202 515h0M1202.3 584.4h0M1202.5 630h0M1202.8 517.3h0M1203.1 514.7h0M1203.3 416.3h0M1203.6 562.4h0M1203.9 567.1h0M1204.1 586.7h0M1204.4 549.7h0M1204.7 423.1h0M1204.9 520.5h0M1205.2 528.9h0M1205.5 516.3h0M1205.7 535.5h0M1206 565.3h0M1206.3 561.1h0M1206.5 477.8h0M1206.8 556h0M1207.1 515.1h0M1207.3 504.3h0M1207.6 553h0M1207.9 517.2h0M1208.1 574.1h0M1208.4 470.6h0M1208.7 497.1h0M1208.9 442.3h0M1209.2 531.5h0M1209.5 475.5h0M1209.7 448.6h0M1210 422.6h0M1210.3 470.1h0M1210.5 540.1h0M1210.8 580.1h0M1211.1 526.5h0M1211.3 335.9h0M1211.6 562.4h0M1211.9 496.3h0M1212.1 506h0M1212.4 640h0M1212.6 581.4h0M1212.9 600.8h0M1213.2 560.1h0M1213.4 543.2h0M1213.7 438.1h0M1214 470.5h0M1214.2 532.8h0M1214.5 634.1h0M1214.8 643.5h0M1215 614.1h0M1215.3 584.6h0M1215.6 532.9h0M1215.8 539.5h0M1216.1 506.7h0M1216.4 500.9h0M1216.6 433.6h0M1216.9 507.3h0M1217.2 435.9h0M1217.4 426.9h0M1217.7 380.8h0M1218 377.1h0M1218.2 486.3h0M1218.5 484.1h0M1218.8 498.6h0M1219 557.3h0M1219.3 600.5h0M1219.6 536.7h0M1219.8 575h0M1220.1 567.2h0M1220.4 537.9h0M1220.6 552.7h0M1220.9 461.6h0M1221.2 448.1h0M1221.4 546.3h0M1221.7 513.1h0M1222 483.4h0M1222.2 508h0M1222.5 542.1h0M1222.8 589.4h0M1223 603.5h0M1223.3 608.4h0M1223.6 557.7h0M1223.8 571.2h0M1224.1 539.6h0M1224.4 509.2h0M1224.6 482h0M1224.9 560.6h0M1225.2 542h0M1225.4 459.6h0M1225.7 536.9h0M1226 591.7h0M1226.2 525.8h0M1226.5 551.6h0M1226.8 617.9h0M1227 493.4h0M1227.3 476.6h0M1227.6 482.7h0M1227.8 551.6h0M1228.1 291.2h0M1228.4 580.2h0M1228.6 512.8h0M1228.9 416.6h0M1229.2 522.1h0M1229.4 559.7h0M1229.7 543.3h0M1230 470.4h0M1230.2 507.3h0M1230.5 453.6h0M1230.8 586.5h0M1231 536.9h0M1231.3 517.8h0M1231.6 474.2h0M1231.8 477.6h0M1232.1 435h0M1232.4 502.2h0M1232.6 515.9h0M1232.9 528.6h0M1233.2 384.1h0M1233.4 475.2h0M1233.7 545.3h0M1233.9 490.9h0M1234.2 417.1h0M1234.5 475.7h0M1234.7 449.3h0M1235 454.2h0M1235.3 505.2h0M1235.5 479.5h0M1235.8 515.6h0M1236.1 490.7h0M1236.3 519.2h0M1236.6 588.2h0M1236.9 541.7h0M1237.1 538.1h0M1237.4 603.4h0M1237.7 505.6h0M1237.9 558.1h0M1238.2 490.3h0M1238.5 552.5h0M1238.7 547.2h0M1239 479.2h0M1239.3 401.8h0M1239.5 542.6h0M1239.8 537.6h0M1240.1 548h0M1240.3 522.3h0M1240.6 586.9h0M1240.9 449.3h0M1241.1 483.8h0M1241.4 602.6h0M1241.7 545h0M1241.9 540.4h0M1242.2 543.4h0M1242.5 514.1h0M1242.7 493.6h0M1243 525.7h0M1243.3 555.8h0M1243.5 576.7h0M1243.8 510.1h0M1244.1 534.2h0M1244.3 523.1h0M1244.6 564.5h0M1244.9 571.2h0M1245.1 518h0M1245.4 391.2h0M1245.7 452.3h0M1245.9 504.2h0M1246.2 425.3h0M1246.5 364.7h0M1246.7 380.2h0M1247 449.9h0M1247.3 440.2h0M1247.5 443.4h0M1247.8 464.6h0M1248.1 518h0M1248.3 506h0M1248.6 487.2h0M1248.9 469h0M1249.1 548.3h0M1249.4 602h0M1249.7 520.4h0M1249.9 460.9h0M1250.2 454.1h0M1250.5 581h0M1250.7 481.5h0M1251 503.5h0M1251.3 534h0M1251.5 452.1h0M1251.8 569.1h0M1252.1 554.1h0M1252.3 503h0M1252.6 470.2h0M1252.9 585.5h0M1253.1 486h0M1253.4 476.9h0M1253.7 522.3h0M1253.9 518.8h0M1254.2 463.7h0M1254.4 431.3h0M1254.7 514h0M1255 531.6h0M1255.2 596h0M1255.5 563.4h0M1255.8 565h0M1256 520.5h0M1256.3 518.6h0M1256.6 496.1h0M1256.8 497.6h0M1257.1 521.9h0M1257.4 624.9h0M1257.6 479h0M1257.9 547.6h0M1258.2 508.4h0M1258.4 473.1h0M1258.7 465.3h0M1259 418.2h0M1259.2 455.7h0M1259.5 473.8h0M1259.8 571.4h0M1260 443.4h0M1260.3 481h0M1260.6 484.6h0M1260.8 428.2h0M1261.1 463.4h0M1261.4 447.9h0M1261.6 429.1h0M1261.9 447.4h0M1262.2 486.7h0M1262.4 430.2h0M1262.7 381.8h0M1263 394.5h0M1263.2 441.2h0M1263.5 479.2h0M1263.8 517.4h0M1264 545.1h0M1264.3 555.1h0M1264.6 536.8h0M1264.8 436.5h0M1265.1 395.1h0M1265.4 391.1h0M1265.6 416.9h0M1265.9 453.6h0M1266.2 426.7h0M1266.4 437.4h0M1266.7 462.6h0M1267 463.2h0M1267.2 443.5h0M1267.5 467.7h0M1267.8 428.8h0M1268 390.7h0M1268.3 422.9h0M1268.6 370.8h0M1268.8 428.7h0M1269.1 511.4h0M1269.4 515.5h0M1269.6 425.6h0M1269.9 419.8h0M1270.2 412.1h0M1270.4 367.9h0M1270.7 394.1h0M1271 459.6h0M1271.2 512.1h0M1271.5 497h0M1271.8 475.6h0M1272 456.6h0M1272.3 483.8h0M1272.6 440.4h0M1272.8 400h0M1273.1 412.7h0M1273.4 382.9h0M1273.6 441.6h0M1273.9 474.9h0M1274.2 347.8h0M1274.4 416.5h0M1274.7 531.6h0M1275 527.5h0M1275.2 463h0M1275.5 384.8h0M1275.7 409.8h0M1276 346.9h0M1276.3 403.4h0M1276.5 373.3h0M1276.8 436h0M1277.1 474.3h0M1277.3 336.2h0M1277.6 353.7h0M1277.9 334.6h0M1278.1 286.3h0M1278.4 317.3h0M1278.7 321.5h0M1278.9 369.7h0M1279.2 325.6h0M1279.5 342.5h0M1279.7 433.8h0M1280 470.5h0M1280.3 441.9h0M1280.5 425.2h0M1280.8 351.4h0M1281.3 402.8h0M1281.6 410.5h0M1281.9 522.7h0M1282.1 486.9h0M1282.4 471.2h0M1282.7 516.7h0M1282.9 384.8h0M1283.2 339h0M1283.5 283.9h0M1283.7 337.8h0M1284 366.8h0M1284.3 350.3h0M1284.5 442.5h0M1284.8 469.4h0M1285.1 463.8h0M1285.3 389.5h0M1285.6 418.9h0M1285.9 414h0M1286.1 357.1h0M1286.4 383.1h0M1286.7 399.4h0M1286.9 387.5h0M1287.2 445.6h0M1287.5 456.2h0M1287.7 408.5h0M1288 364.4h0M1288.3 327.2h0M1288.5 375.3h0M1288.8 334.8h0M1289.1 355.2h0M1289.3 413.4h0M1289.6 439h0M1289.9 399.3h0M1290.1 315.6h0M1290.4 415.2h0M1290.7 399.7h0M1290.9 448.2h0M1291.2 435.9h0M1291.5 431.3h0M1291.7 488.8h0M1292 390.9h0M1292.3 489.1h0M1292.5 374.5h0M1292.8 331.5h0M1293.1 405.4h0M1293.3 292.8h0M1293.6 379.6h0M1293.9 396.6h0M1294.1 460.9h0M1294.4 344h0M1294.7 346.7h0M1294.9 346.2h0M1295.2 388.6h0M1295.5 380.7h0M1295.7 393.7h0M1296 397.3h0M1296.3 412.2h0M1296.5 447.9h0M1296.8 381.8h0M1297 402.8h0M1297.3 349.4h0M1297.6 377.5h0M1297.8 451.8h0M1298.1 389h0M1298.4 446.8h0M1298.6 393.9h0M1298.9 291.5h0M1299.2 286.1h0M1299.4 312h0M1299.7 363.1h0M1300 380.5h0M1300.2 407.9h0M1300.5 419h0M1300.8 411.3h0M1301 351.2h0M1301.3 329.5h0M1301.6 453h0M1301.8 353.8h0M1302.1 360h0M1302.4 469.4h0M1302.6 476.6h0M1302.9 409.7h0M1303.2 442.6h0M1303.4 460.6h0M1303.7 525.6h0M1304 436.4h0M1304.2 491.8h0M1304.5 488.4h0M1304.8 515.1h0M1305 546.7h0M1305.3 511.5h0M1305.6 424.9h0M1305.8 473.4h0M1306.1 540.6h0M1306.4 567.7h0M1306.6 520.9h0M1306.9 619.6h0M1307.2 500.6h0M1307.4 527.8h0M1307.7 484.8h0M1308 473.5h0M1308.2 474.8h0M1308.5 563h0M1308.8 476h0M1309 446.8h0M1309.3 406h0M1309.6 449.4h0M1309.8 448.9h0M1310.1 490.2h0M1310.4 444.6h0M1310.6 453h0M1310.9 509.9h0M1311.2 514.7h0M1311.4 518.4h0M1311.7 529.3h0M1312 488.6h0M1312.2 515.5h0M1312.5 479.2h0M1312.8 504.1h0M1313 529.6h0M1313.3 432.5h0M1313.6 345.5h0M1313.8 324.7h0M1314.1 346.7h0M1314.4 473.5h0M1314.6 513.4h0M1314.9 492h0M1315.2 503.7h0M1315.4 544.3h0M1315.7 506.9h0M1316 520.5h0M1316.2 526.9h0M1316.5 399.3h0M1316.8 445.9h0M1317 521.2h0M1317.3 460.1h0M1317.6 475h0M1317.8 482.6h0M1318.1 480.2h0M1318.3 528.2h0M1318.6 488.3h0M1318.9 467.2h0M1319.1 338.9h0M1319.4 377.8h0M1319.7 349.5h0M1319.9 293.8h0M1320.2 433.2h0M1320.5 559.5h0M1320.7 422.3h0M1321 501.7h0M1321.3 510.5h0M1321.5 493.1h0M1321.8 506.9h0M1322.1 410.4h0M1322.3 305.7h0M1322.6 383.9h0M1322.9 384.3h0M1323.1 400.8h0M1323.4 417.2h0M1323.7 355.4h0M1323.9 403.6h0M1324.2 464.8h0M1324.5 445h0M1324.7 528.7h0M1325 493h0M1325.3 424h0M1325.5 446.5h0M1325.8 452.7h0M1326.1 439.1h0M1326.3 467h0M1326.6 565.3h0M1326.9 501.8h0M1327.1 514h0M1327.4 565h0M1327.7 587.8h0M1327.9 458.8h0M1328.2 441h0M1328.5 502.8h0M1328.7 581.8h0M1329 500.4h0M1329.3 493.3h0M1329.5 559.4h0M1330.1 483h0M1330.3 495.5h0M1330.6 512.6h0M1330.9 554.2h0M1331.1 530.7h0M1331.4 500.5h0M1331.7 503.9h0M1331.9 433h0M1332.2 460.9h0M1332.5 443.1h0M1332.7 506.6h0M1333 469.3h0M1333.3 474.8h0M1333.5 440.5h0M1333.8 448.5h0M1334.1 484.3h0M1334.3 475.8h0M1334.6 441.6h0M1334.9 437.1h0M1335.1 467.4h0M1335.4 408.8h0M1335.7 425.6h0M1335.9 389.9h0M1336.2 485.8h0M1336.5 502h0M1336.7 495.7h0M1337 528.9h0M1337.3 516.5h0M1337.5 532.9h0M1337.8 558.5h0M1338.1 509.8h0M1338.3 501.8h0M1338.6 465h0M1338.8 476.4h0M1339.1 512.9h0M1339.4 531h0M1339.6 545.1h0M1339.9 491.4h0M1340.2 402h0M1340.4 481h0M1340.7 456.3h0M1341 520.4h0M1341.2 506.7h0M1341.5 503h0M1341.8 519.3h0M1342 519h0M1342.3 485.2h0M1342.6 453.3h0M1342.8 499.7h0M1343.1 595.5h0M1343.4 585.9h0M1343.6 495h0M1343.9 513h0M1344.2 512.6h0M1344.4 532.5h0M1344.7 478h0M1345 475.8h0M1345.2 482.8h0M1345.5 488.2h0M1345.8 552.7h0M1346 471.8h0M1346.3 458.7h0M1346.6 295.7h0M1346.8 392.3h0M1347.1 414h0M1347.4 481.7h0M1347.6 485.4h0M1347.9 475.1h0M1348.2 486.6h0M1348.4 470.2h0M1348.7 420.2h0M1349 389.4h0M1349.2 393.4h0M1349.5 498.1h0M1349.8 432h0M1350 538.1h0M1350.3 579.9h0M1350.6 546.1h0M1350.8 531.6h0M1351.1 503.2h0M1351.4 521h0M1351.6 536.1h0M1351.9 522.8h0M1352.2 551.6h0M1352.4 596.7h0M1352.7 579.1h0M1353 566.7h0M1353.2 588.6h0M1353.5 552.7h0M1353.8 490.8h0M1354 445.3h0M1354.3 511.1h0M1354.6 487.8h0M1354.8 592.2h0M1355.1 521.3h0M1355.4 486.8h0M1355.6 511.9h0M1355.9 411.2h0M1356.2 432h0M1356.4 384.3h0M1356.7 409.2h0M1357 467.5h0M1357.2 351h0M1357.5 545.1h0M1357.8 551.8h0M1358 597.3h0M1358.3 580.3h0M1358.6 527.3h0M1358.8 612.8h0M1359.1 521.2h0M1359.4 490.2h0M1359.6 544.4h0M1359.9 588.2h0M1360.1 555.7h0M1360.4 558.1h0M1360.7 597h0M1360.9 434.1h0M1361.2 489.4h0M1361.5 442.2h0M1361.7 483.7h0M1362 478.1h0M1362.3 538.8h0M1362.5 574.6h0M1362.8 513.5h0M1363.1 525.9h0M1363.3 467.6h0M1363.6 498.8h0M1363.9 537h0M1364.1 554.4h0M1364.4 441.8h0M1364.7 486.3h0M1364.9 504h0M1365.2 539.1h0M1365.5 594h0M1365.7 506.2h0M1366 541.7h0M1366.3 483.2h0M1366.5 516.1h0M1366.8 554.3h0M1367.1 568.1h0M1367.3 519.3h0M1367.6 543.3h0M1367.9 472.7h0M1368.1 441.1h0M1368.4 526.2h0M1368.7 516.4h0M1368.9 445.3h0M1369.2 449h0M1369.5 474.5h0M1369.7 572.2h0M1370 607.9h0M1370.3 608.3h0M1370.5 508.8h0M1370.8 563.7h0M1371.1 551.5h0M1371.3 543.7h0M1371.6 565.5h0M1371.9 547h0M1372.1 615.5h0M1372.4 624h0M1372.7 541h0M1372.9 529h0M1373.2 622h0M1373.5 557.1h0M1373.7 602.5h0M1374 635h0M1374.3 561h0M1374.5 556.8h0M1374.8 552.8h0M1375.1 565.1h0M1375.3 566h0M1375.6 634.6h0M1375.9 637.6h0M1376.1 579.9h0M1376.4 601.6h0M1376.7 528.3h0M1376.9 518.9h0M1377.2 601.2h0M1377.5 562.6h0M1377.7 523.1h0M1378 528.5h0M1378.3 488.2h0M1378.5 395.3h0M1378.8 500.7h0M1379.1 484.6h0M1379.3 463.3h0M1379.6 492.1h0M1379.9 449h0M1380.1 435.7h0M1380.4 476.8h0M1380.9 592.4h0M1381.2 598.9h0M1381.4 511.1h0M1381.7 418.6h0M1382 434.5h0M1382.2 521.1h0M1382.5 491h0M1382.8 506.8h0M1383 501.8h0M1383.3 481.7h0M1383.6 418.6h0M1383.8 490.3h0M1384.1 440.1h0M1384.4 404h0M1384.6 433.9h0M1384.9 433.5h0M1385.2 473.9h0M1385.4 521h0M1385.7 496h0M1386 521.2h0M1386.2 498.9h0M1386.5 537.1h0M1386.8 428.7h0M1387 409.3h0M1387.3 450.5h0M1387.6 372.7h0M1387.8 422.2h0M1388.1 429.3h0M1388.4 471.7h0M1388.6 513.6h0M1388.9 383.7h0M1389.2 425.8h0M1389.4 517.7h0M1389.7 540.8h0M1390 587.8h0M1390.2 519.4h0M1390.5 421h0M1390.8 389.5h0M1391 425.4h0M1391.3 476.5h0M1391.6 443.7h0M1391.8 394.9h0M1392.1 446.3h0M1392.4 386.8h0M1392.6 368.1h0M1392.9 492.1h0M1393.2 554.1h0M1393.4 486h0M1393.7 553h0M1394 474.4h0M1394.2 397.2h0M1394.5 315.3h0M1394.8 380.6h0M1395 367.4h0M1395.3 454.2h0M1395.6 488.2h0M1395.8 536.4h0M1396.1 365.2h0M1396.4 429.4h0M1396.6 401.8h0M1396.9 402.8h0M1397.2 312.3h0M1397.4 395.3h0M1397.7 449.8h0M1398 390.9h0M1398.2 405.2h0M1398.5 386.9h0M1398.8 447h0M1399 433.4h0M1399.3 498.5h0M1399.6 449.8h0M1399.8 412.7h0M1400.1 385h0M1400.4 274.1h0M1400.6 268.1h0M1400.9 381.4h0M1401.2 403.5h0M1401.4 363.7h0M1401.7 393.7h0M1401.9 287.7h0M1402.2 333.6h0M1402.5 367.3h0M1402.7 407.3h0M1403 355.1h0M1403.3 398.6h0M1403.5 480.1h0M1403.8 427h0M1404.1 432.2h0M1404.3 364.2h0M1404.9 342.6h0M1405.1 373.9h0M1405.4 403.9h0M1405.7 376.7h0M1405.9 382.4h0M1406.2 422.4h0M1406.5 428.5h0M1406.7 464.2h0M1407 357.5h0M1407.3 434.9h0M1407.5 372.6h0M1407.8 456.3h0M1408.1 435.1h0M1408.3 527.7h0M1408.6 477h0M1408.9 488.1h0M1409.1 364.2h0M1409.4 364.2h0M1409.7 352.6h0M1409.9 384.7h0M1410.2 402h0M1410.5 394.6h0M1410.7 451.1h0M1411 421.7h0M1411.3 368.7h0M1411.5 411.9h0M1411.8 287.6h0M1412.1 411.6h0M1412.3 425.7h0M1412.6 412.4h0M1412.9 511.7h0M1413.1 460.5h0M1413.4 469.4h0M1413.7 418.5h0M1413.9 353.8h0M1414.2 349h0M1414.5 364.7h0M1414.7 366.8h0M1415 455.2h0M1415.3 337.2h0M1415.5 323.5h0M1415.8 278.1h0M1416.1 367.2h0M1416.3 366.7h0M1416.9 380.6h0M1417.1 401.9h0M1417.7 418.2h0M1417.9 330.8h0M1418.2 416.9h0M1418.5 356h0M1418.7 480h0M1419 505.9h0M1419.3 471.2h0M1419.5 437.8h0M1419.8 493.5h0M1420.1 481.9h0M1420.3 467.1h0M1420.6 446.6h0M1420.9 435.3h0M1421.1 475h0M1421.4 485.7h0M1421.7 478.8h0M1421.9 543.9h0M1422.2 457.7h0M1422.5 439.4h0M1422.7 517.4h0M1423 507.4h0M1423.2 380.7h0M1423.5 484.7h0M1423.8 512.2h0M1424 441.6h0M1424.3 497.9h0M1424.6 420.4h0M1424.8 402.7h0M1425.4 406h0M1425.6 373.1h0M1425.9 394.2h0M1426.2 297.9h0M1426.4 424.3h0M1426.7 430.4h0M1427 491.3h0M1427.2 365.7h0M1427.5 421.6h0M1427.8 313.4h0M1428 410.9h0M1428.3 538h0M1428.6 527.1h0M1428.8 448.1h0M1429.1 512.9h0M1429.4 469h0M1429.6 511.3h0M1429.9 509.2h0M1430.2 429.6h0M1430.4 541.1h0M1430.7 493.8h0M1431 502h0M1431.2 444.9h0M1431.5 462.2h0M1431.8 519.1h0M1432 688.6h0M1432.3 654.8h0M1432.6 596.3h0M1432.8 511.1h0M1433.1 568.2h0M1433.4 473.2h0M1433.6 438.3h0M1433.9 507h0M1434.2 442.6h0M1434.4 547.4h0M1434.7 605.7h0M1435 508.8h0M1435.2 491.4h0M1435.5 444.9h0M1435.8 410.8h0M1436 468.7h0M1436.3 514.7h0M1436.6 506.3h0M1436.8 521.1h0M1437.1 506h0M1437.4 500.4h0M1437.6 443.7h0M1437.9 464.6h0M1438.2 543.5h0M1438.4 588.1h0M1438.7 528.4h0M1439 489.8h0M1439.2 547h0M1439.5 610.2h0M1439.8 495.1h0M1440 415.9h0M1440.3 485.8h0M1440.6 481.5h0M1440.8 463.5h0M1441.1 505.3h0M1441.4 492.2h0M1441.6 579.2h0M1441.9 574.2h0M1442.2 632.6h0M1442.7 540.4h0M1443 546.5h0M1443.2 462.6h0M1443.5 480.2h0M1443.8 414.8h0M1444 403.2h0M1444.3 399.5h0M1444.5 349.7h0M1444.8 395.6h0M1445.1 306.4h0M1445.3 430.1h0M1445.6 481.3h0M1445.9 501.5h0M1446.1 446.8h0M1446.4 450.7h0M1446.7 404h0M1446.9 348.3h0M1447.2 441.5h0M1447.5 476.1h0M1447.7 533h0M1448 482h0M1448.3 452.8h0M1448.5 442.7h0M1448.8 487.6h0M1449.1 423.2h0M1449.3 433.2h0M1449.6 409.1h0M1449.9 382.6h0M1450.1 462.1h0M1450.4 486.6h0M1450.7 428.3h0M1450.9 408.1h0M1451.2 404.9h0M1451.5 447.5h0M1451.7 385h0M1452 445.6h0M1452.3 352.6h0M1452.5 342.7h0M1452.8 413.1h0M1453.1 403.2h0M1453.3 440.3h0M1453.6 423.6h0M1453.9 330.3h0M1454.1 467.6h0M1454.4 444h0M1454.7 503h0M1454.9 499.9h0M1455.2 552.9h0M1455.5 575.8h0M1455.7 477.3h0M1456 494.4h0M1456.3 490.9h0M1456.5 424.6h0M1456.8 413.3h0M1457.1 502.2h0M1457.3 413.3h0M1457.6 446.2h0M1457.9 516.8h0M1458.1 499.9h0M1458.4 456.2h0M1458.7 528.7h0M1458.9 561.4h0M1459.2 508.5h0M1459.5 489.2h0M1459.7 480.1h0M1460 555h0M1460.3 554.1h0M1460.5 488.1h0M1460.8 475.6h0M1461.1 440.2h0M1461.3 462.2h0M1461.6 470.5h0M1461.9 578.3h0M1462.1 445.9h0M1462.4 558.7h0M1462.7 514.7h0M1462.9 317h0M1463.2 348.8h0M1463.5 425.7h0M1463.7 406.6h0M1464 488.9h0M1464.3 420.3h0M1464.5 487.3h0M1464.8 466.2h0M1465 544.5h0M1465.3 583.1h0M1465.6 542.6h0M1465.8 528.6h0M1466.1 527.7h0M1466.4 534.9h0M1466.6 484.8h0M1466.9 434.5h0M1467.2 516.2h0M1467.4 600.8h0M1467.7 448.6h0M1468 461.2h0M1468.2 517.1h0M1468.5 447.2h0M1468.8 445.3h0M1469 540.7h0M1469.3 575.3h0M1469.6 492.9h0M1469.8 569.4h0M1470.1 581.7h0M1470.4 565.9h0M1470.6 542.3h0M1470.9 528.1h0M1471.2 459.6h0M1471.4 445.2h0M1471.7 490.4h0M1472 494.1h0M1472.2 566.6h0M1472.5 486.5h0M1472.8 390.4h0M1473 393.8h0M1473.3 369.2h0M1473.6 496.8h0M1473.8 470.6h0M1474.1 431.4h0M1474.4 510h0M1474.6 457.8h0M1474.9 512.3h0M1475.2 452h0M1475.4 430.8h0M1475.7 495.1h0M1476 389.2h0M1476.2 382.9h0M1476.5 432.7h0M1476.8 417.1h0M1477 487.9h0M1477.3 477.8h0M1477.6 453.8h0M1477.8 546.1h0M1478.1 513.2h0M1478.4 480.6h0M1478.6 439.8h0M1478.9 425.7h0M1479.2 471.7h0M1479.4 470.4h0M1479.7 491.4h0M1480 448.2h0M1480.2 521.9h0M1480.5 423h0M1480.8 422.8h0M1481 430.4h0M1481.3 417.1h0M1481.6 460.9h0M1481.8 413.6h0M1482.1 461.2h0M1482.4 533.4h0M1482.6 552.3h0M1482.9 575h0M1483.2 525.6h0M1483.4 591.4h0M1483.7 580.5h0M1484 616.9h0M1484.2 676.2h0M1484.5 596.3h0M1484.8 568h0M1485 556.6h0M1485.3 366.3h0M1485.6 349.4h0M1485.8 413.8h0M1486.1 477.6h0M1486.3 457.5h0M1486.6 536.3h0M1486.9 572.3h0M1487.1 540h0M1487.4 590.4h0M1487.7 636.2h0M1487.9 600.7h0M1488.2 538h0M1488.7 529.6h0M1489 511.6h0M1489.3 527.1h0M1489.5 490.5h0M1489.8 547.3h0M1490.1 572.6h0M1490.3 583.7h0M1490.6 593.7h0M1490.9 514.5h0M1491.1 501.6h0M1491.4 547.5h0M1491.7 536.1h0M1491.9 640.1h0M1492.2 587.4h0M1492.5 520h0M1492.7 577.8h0M1493 582.4h0M1493.3 556.8h0M1493.5 521.6h0M1493.8 531.7h0M1494.1 539.6h0M1494.3 574h0M1494.6 333.4h0M1494.9 549.1h0M1495.1 573.7h0M1495.4 586.9h0M1495.7 425.8h0M1495.9 305.2h0M1496.2 419.4h0M1496.5 449.3h0M1496.7 485.3h0M1497 464.7h0M1497.3 518.4h0M1497.5 533.2h0M1497.8 526.4h0M1498.1 609.3h0M1498.3 446.7h0M1498.6 525h0M1498.9 601.5h0M1499.1 578h0M1499.4 453.7h0M1499.7 480h0M1499.9 461.2h0M1500.2 476.8h0M1500.5 532.8h0M1500.7 539h0M1501 506.1h0M1501.3 538.8h0M1501.5 553.3h0M1501.8 517.1h0M1502.1 528.1h0M1502.3 505.4h0M1502.6 480.1h0M1502.9 459.2h0M1503.1 447.1h0M1503.4 464.7h0M1503.7 391.4h0M1503.9 485.2h0M1504.2 481.3h0M1504.5 469.1h0M1504.7 470.8h0M1505 427.1h0M1505.3 466.2h0M1505.5 457.2h0M1505.8 412.4h0M1506.1 481h0M1506.3 430h0M1506.6 478.2h0M1506.9 362.5h0M1507.1 376.6h0M1507.4 406h0M1507.6 427.7h0M1507.9 436.5h0M1508.2 439.6h0M1508.4 381.8h0M1508.7 402.7h0M1509 311.5h0M1509.2 346.4h0M1509.5 351.1h0M1509.8 400h0M1510 446.6h0M1510.3 420.7h0M1510.6 473.7h0M1510.8 424.9h0M1511.1 367h0M1511.6 386.4h0M1511.9 396.5h0M1512.2 388.8h0M1512.4 356.9h0M1513 402.9h0M1513.2 409.3h0M1513.5 492.6h0M1513.8 446.8h0M1514 280.8h0M1514.3 393.2h0M1514.6 344.8h0M1514.8 352.8h0M1515.1 442h0M1515.4 414.5h0M1515.6 457.7h0M1515.9 433.6h0M1516.2 361h0M1516.4 378.7h0M1516.7 381.2h0M1517 414.4h0M1517.2 424.5h0M1517.5 405.2h0M1517.8 406.5h0M1518 413.9h0M1518.3 383.1h0M1518.6 454.2h0M1518.8 297.6h0M1519.1 414.8h0M1519.4 358.4h0M1519.6 363.3h0M1519.9 401.4h0M1520.2 320.7h0M1520.4 346.7h0M1521 360.8h0M1521.2 331.8h0M1521.5 339.4h0M1521.8 433.1h0M1522 408.5h0M1522.3 320.1h0M1522.6 355.6h0M1522.8 410.5h0M1523.1 357.9h0M1523.4 491.4h0M1523.6 417h0M1523.9 372.2h0M1524.2 359.1h0M1524.4 326h0M1524.7 305.4h0M1525 309.5h0M1525.2 353.6h0M1525.5 371.3h0M1525.8 306.3h0M1526 359.9h0M1526.3 376.6h0M1526.6 270h0M1526.8 296.2h0M1527.1 257.6h0M1527.4 277.8h0M1527.6 292.2h0M1527.9 307.5h0M1528.1 292.4h0M1528.4 331.6h0M1528.7 348.4h0M1528.9 273.7h0M1529.2 321.7h0M1529.5 271.3h0M1529.7 369.6h0M1530 413.9h0M1530.3 330h0M1530.5 318h0M1530.8 329.9h0M1531.1 337h0M1531.3 415.1h0M1531.6 390.7h0M1531.9 414.7h0M1532.1 358.3h0M1532.4 383.6h0M1532.7 430.8h0M1532.9 438.7h0M1533.2 441h0M1533.5 380.9h0M1533.7 387.1h0M1534 415.2h0M1534.3 384.2h0M1534.5 428.7h0M1534.8 454.1h0M1535.1 427.2h0M1535.3 398.5h0M1535.6 445.7h0M1535.9 457.3h0M1536.1 445h0M1536.4 473.4h0M1536.7 495.5h0M1536.9 390.1h0M1537.2 377.6h0M1537.7 360.8h0M1538 437.4h0M1538.3 453h0M1538.5 387.2h0M1538.8 390.6h0M1539.1 445.4h0M1539.3 403.1h0M1539.6 406.1h0M1539.9 415.3h0M1540.1 346.2h0M1540.4 400.4h0M1540.7 424.6h0M1540.9 437.9h0M1541.2 370.5h0M1541.5 305.8h0M1541.7 356.8h0M1542 391h0M1542.3 399.4h0M1542.5 427.9h0M1542.8 480.1h0M1543.1 501.2h0M1543.3 447.3h0M1543.6 403.4h0M1543.9 489.8h0M1544.1 456.2h0M1544.4 526.8h0M1544.7 529.8h0M1544.9 463.5h0M1545.2 442.3h0M1545.5 425.8h0M1545.7 389.9h0M1546 381.7h0M1546.3 300.2h0M1546.5 436.5h0M1546.8 427h0M1547.1 399.3h0M1547.3 409.3h0M1547.6 362.6h0M1547.9 470h0M1548.1 348.8h0M1548.4 366.1h0M1548.7 402.8h0M1548.9 383.6h0M1549.2 428.3h0M1549.4 507.2h0M1549.7 427.4h0M1550 468.1h0M1550.2 422.1h0M1550.5 445.8h0M1550.8 395.6h0M1551 473.6h0M1551.3 473.2h0M1551.6 531.7h0M1551.8 560.1h0M1552.1 550.3h0M1552.4 468.8h0M1552.6 487.9h0M1552.9 504h0M1553.2 433.3h0M1553.4 503.7h0M1553.7 499.2h0M1554 500.3h0M1554.2 447.2h0M1554.5 476.4h0M1554.8 455.9h0M1555 481.3h0M1555.3 460.5h0M1555.6 382.3h0M1555.8 469.2h0M1556.1 479h0M1556.4 353.9h0M1556.6 370.3h0M1556.9 332.6h0M1557.2 419.2h0M1557.4 406.9h0M1557.7 443.4h0M1558 412.2h0M1558.2 528.2h0M1558.5 539.4h0M1558.8 610.9h0M1559 517.7h0M1559.3 561.2h0M1559.6 479.1h0M1559.8 514.9h0M1560.1 531h0M1560.4 444h0M1560.6 414.4h0M1560.9 405.2h0M1561.2 375.8h0M1561.4 407.8h0M1561.7 411.5h0M1562 374.4h0M1562.2 310.8h0M1562.5 497.5h0M1562.8 444.9h0M1563 426.3h0M1563.3 478.7h0M1563.6 493h0M1563.8 469.7h0M1564.1 526.5h0M1564.4 563h0M1564.6 583.8h0M1564.9 532.4h0M1565.2 630.4h0M1565.7 621.5h0M1566 557.6h0M1566.2 586.2h0M1566.5 521.9h0M1566.8 519.6h0M1567 517.9h0M1567.3 503.4h0M1567.6 491.7h0M1567.8 425.4h0M1568.1 437.9h0M1568.4 386.7h0M1568.6 486h0M1568.9 593.1h0M1569.2 593h0M1569.4 570.7h0M1570 597.7h0M1570.2 605.3h0M1570.5 624.1h0M1570.7 550h0M1571 481.1h0M1571.3 492.8h0M1571.5 454.3h0M1571.8 422.1h0M1572.1 484.7h0M1572.3 540.8h0M1572.6 465.1h0M1572.9 565h0M1573.1 597.7h0M1573.4 555.6h0M1573.7 502.1h0M1573.9 513.7h0M1574.2 546.9h0M1574.5 517h0M1574.7 447.9h0M1575 474.8h0M1575.3 389.2h0M1575.5 363.7h0M1575.8 498.5h0M1576.1 536.9h0M1576.3 540.8h0M1576.6 559.4h0M1576.9 552.4h0M1577.1 518.9h0M1577.4 480.8h0M1577.7 438.9h0M1577.9 493.9h0M1578.2 550h0M1578.5 604h0M1578.7 567.7h0M1579 518.8h0M1579.3 468h0M1579.5 460.7h0M1579.8 472.1h0M1580.1 596.2h0M1580.3 499.1h0M1580.6 471.9h0M1580.9 499.2h0M1581.1 521.9h0M1581.4 424.5h0M1581.7 490.6h0M1581.9 548.4h0M1582.2 526.3h0M1582.5 549.2h0M1582.7 595h0M1583 541.1h0M1583.3 546h0M1583.5 511.5h0M1583.8 464h0M1584.1 526.2h0M1584.6 446.7h0M1584.9 449.1h0M1585.1 475.4h0M1585.4 521.6h0M1585.7 442.9h0M1585.9 420.8h0M1586.2 373.2h0M1586.5 521.1h0M1586.7 400.8h0M1587 436h0M1587.3 489.5h0M1587.5 454.5h0M1587.8 435.2h0M1588.1 436h0M1588.3 392.3h0M1588.6 445.1h0M1588.9 548h0M1589.1 368.8h0M1589.4 417.4h0M1589.7 584.7h0M1589.9 529.6h0M1590.2 391.5h0M1590.5 417.1h0M1590.7 431.1h0M1591 435.3h0M1591.2 457h0M1591.5 418.5h0M1591.8 469.8h0M1592 443.7h0M1592.3 420.7h0M1592.6 395.4h0M1592.8 430.4h0M1593.1 510.1h0M1593.4 528.9h0M1593.6 494h0M1593.9 502.5h0M1594.2 510.1h0M1594.4 603h0M1594.7 528.3h0M1595 523.1h0M1595.2 557.6h0M1595.5 489.7h0M1595.8 519.3h0M1596 448.1h0M1596.3 477.3h0M1596.6 511.5h0M1596.8 563.2h0M1597.1 601.4h0M1597.4 558.4h0M1597.6 551.1h0M1597.9 544.4h0M1598.2 568.1h0M1598.4 536.1h0M1598.7 576.9h0M1599 555.7h0M1599.2 558.9h0M1599.5 563.4h0M1599.8 585.8h0M1600 603.6h0M1600.3 555.4h0M1600.6 549.2h0M1600.8 539.9h0M1601.1 512.9h0M1601.4 502.1h0M1601.6 451.6h0M1601.9 509.2h0M1602.2 562.3h0M1602.4 619.8h0M1602.7 641.4h0M1603 537.4h0M1603.2 591.5h0M1603.5 544h0M1603.8 528.4h0M1604 610.9h0M1604.3 519.1h0M1604.6 554.1h0M1604.8 546.7h0M1605.1 533.9h0M1605.4 470.5h0M1605.6 513.1h0M1605.9 393.7h0M1606.2 626.8h0M1606.4 596.9h0M1606.7 495h0M1607 428.9h0M1607.2 367.2h0M1607.5 442.4h0M1607.8 417.2h0M1608 381.5h0M1608.3 489.8h0M1608.6 413.8h0M1608.8 426.5h0M1609.1 386.5h0M1609.4 458.8h0M1609.6 454h0M1609.9 544.1h0M1610.2 580.1h0M1610.4 500.6h0M1610.7 452.7h0M1611 480h0M1611.2 452.7h0M1611.5 472.8h0M1611.8 463.4h0M1612 524.1h0M1612.3 422.8h0M1612.5 377.3h0M1612.8 373.3h0M1613.1 481.6h0M1613.3 509.4h0M1613.6 559.9h0M1613.9 500.5h0M1614.1 570.6h0M1614.4 508.4h0M1614.7 516.3h0M1614.9 536.1h0M1615.2 592.2h0M1615.5 585.5h0M1615.7 575.7h0M1616 541.1h0M1616.3 518.7h0M1616.5 474.5h0M1616.8 507h0M1617.1 517.8h0M1617.3 481.2h0M1617.6 534.2h0M1617.9 540.4h0M1618.1 544.7h0M1618.4 478.7h0M1618.7 511.6h0M1618.9 464.8h0M1619.2 550.2h0M1619.5 432.2h0M1619.7 516.4h0M1620 566.8h0M1620.3 500.6h0M1620.5 440.7h0M1620.8 384.1h0M1621.1 459.9h0M1621.3 549.8h0M1621.6 453.8h0M1621.9 382.3h0M1622.1 416.5h0M1622.4 450h0M1622.7 471.9h0M1622.9 523.7h0M1623.2 607.8h0M1623.5 536.5h0M1623.7 337.8h0M1624 431.8h0M1624.3 454.9h0M1624.5 517.7h0M1624.8 485.2h0M1625.1 539.4h0M1625.3 520.8h0M1625.6 568.7h0M1625.9 514.7h0M1626.1 471.8h0M1626.4 449.7h0M1626.7 273.2h0M1626.9 364.6h0M1627.2 384.5h0M1627.5 468.4h0M1627.7 564.1h0M1628 512.4h0M1628.3 495.1h0M1628.5 433.5h0M1628.8 491.2h0M1629.1 486h0M1629.3 448.4h0M1629.6 480.7h0M1629.9 490.5h0M1630.1 408.1h0M1630.4 451.3h0M1630.7 353.4h0M1630.9 437.8h0M1631.2 446.7h0M1631.5 516.4h0M1631.7 555h0M1632 609.2h0M1632.3 490.1h0M1632.5 348.7h0M1632.8 486.5h0M1633.1 428h0M1633.3 410.2h0M1633.6 327.9h0M1633.8 486h0M1634.1 520.1h0M1634.4 495.3h0M1634.6 502.2h0M1634.9 434h0M1635.2 434.4h0M1635.4 474.1h0M1635.7 430.6h0M1636 490.4h0M1636.2 458.1h0M1636.5 407.4h0M1636.8 461.2h0M1637 431.1h0M1637.3 466h0M1637.6 408h0M1637.8 321.6h0M1638.1 386.3h0M1638.4 336.4h0M1638.6 433.1h0M1638.9 353.5h0M1639.2 297.6h0M1639.4 372h0M1639.7 397.9h0M1640 423.1h0M1640.2 376.9h0M1640.5 446.2h0M1640.8 342.1h0M1641 357.5h0M1641.3 310.7h0M1641.6 325.4h0M1641.8 391.6h0M1642.1 358.7h0M1642.4 405.6h0M1642.6 431.1h0M1642.9 334.5h0M1643.2 298.1h0M1643.4 319.8h0M1643.7 355.5h0M1644 358.2h0M1644.2 272h0M1644.5 344.6h0M1644.8 400.5h0M1645 381.3h0M1645.3 329.8h0M1645.6 336.4h0M1645.8 253.7h0M1646.1 376.4h0M1646.4 376.6h0M1646.6 391h0M1646.9 374.4h0M1647.2 456.7h0M1647.4 302.7h0M1647.7 309.9h0M1648 341.9h0M1648.2 301h0M1648.5 351.4h0M1648.8 315.8h0M1649 345.2h0M1649.3 309.3h0M1649.6 313.8h0M1649.8 348.6h0M1650.1 360.4h0M1650.4 400.6h0M1650.6 474.7h0M1650.9 415h0M1651.2 374.3h0M1651.4 414.6h0M1651.7 444.4h0M1652 411.1h0M1652.2 526.8h0M1652.5 435.1h0M1652.8 462.4h0M1653 505.4h0M1653.3 455h0M1653.6 440.5h0M1653.8 301.2h0M1654.1 300.3h0M1654.3 515.9h0M1654.6 350.9h0M1654.9 332.7h0M1655.1 353.9h0M1655.4 414.7h0M1655.7 319h0M1655.9 353.6h0M1656.2 364.8h0M1656.5 419h0M1656.7 360.5h0M1657 366.2h0M1657.3 464.2h0M1657.5 586.7h0M1657.8 498.2h0M1658.1 331.6h0M1658.3 354.6h0M1658.6 399.2h0M1658.9 381.8h0M1659.1 398.6h0M1659.4 540.3h0M1659.7 436.1h0M1659.9 402.4h0M1660.2 422h0M1660.5 320.7h0M1660.7 384.3h0M1661 318.9h0M1661.3 423h0M1661.5 451.5h0M1661.8 385.8h0M1662.1 329.9h0M1662.3 423.5h0M1662.6 394.9h0M1662.9 454h0M1663.1 479.5h0M1663.4 415.5h0M1663.7 448.6h0M1663.9 519.6h0M1664.2 554.8h0M1664.5 498.5h0M1664.7 531.5h0M1665 462.2h0M1665.3 402.8h0M1665.5 460h0M1665.8 464h0M1666.1 469.1h0M1666.3 469.5h0M1666.6 384.5h0M1666.9 349.7h0M1667.1 522.3h0M1667.4 499.8h0M1667.7 470.2h0M1667.9 509h0M1668.2 413h0M1668.5 373.4h0M1668.7 478.6h0M1669 571.5h0M1669.3 528.3h0M1669.5 491.8h0M1669.8 433h0M1670.1 442.7h0M1670.3 496.3h0M1670.6 417h0M1670.9 453.1h0M1671.1 425h0M1671.4 487.8h0M1671.7 431.6h0M1671.9 467.3h0M1672.2 400.2h0M1672.5 494.2h0M1672.7 489.5h0M1673 456.8h0M1673.3 504.3h0M1673.5 533.8h0M1673.8 488.6h0M1674.1 539.1h0M1674.3 557.6h0M1674.6 496.4h0M1674.9 556.1h0M1675.1 410h0M1675.4 490.6h0M1675.6 468.5h0M1675.9 477.9h0M1676.2 429.3h0M1676.4 471h0M1676.7 415.4h0M1677 420.8h0M1677.2 403.8h0M1677.5 400.5h0M1677.8 499.7h0M1678 433.4h0M1678.3 425h0M1678.6 419.2h0M1678.8 453.4h0M1679.1 486.8h0M1679.4 539.4h0M1679.6 498.1h0M1679.9 490.8h0M1680.2 479.4h0M1680.4 514.4h0M1680.7 550.3h0M1681 507.3h0M1681.2 417.5h0M1681.5 550.2h0M1681.8 562.8h0M1682 561.8h0M1682.3 562.2h0M1682.6 450.9h0M1682.8 463.9h0M1683.1 461.2h0M1683.4 460.4h0M1683.6 486.8h0M1683.9 403h0M1684.2 429.2h0M1684.4 467.2h0M1684.7 460.3h0M1685 507.7h0M1685.2 390.1h0M1685.5 418.1h0M1685.8 450.9h0M1686 404.3h0M1686.3 375.5h0M1686.6 425.1h0M1686.8 424.7h0M1687.1 458.2h0M1687.4 471.2h0M1687.6 511.3h0M1687.9 425.6h0M1688.2 417.7h0M1688.4 436.8h0M1688.7 439.8h0M1689 497.6h0M1689.2 486.9h0M1689.5 472.1h0M1689.8 513.5h0M1690 536.2h0M1690.3 564h0M1690.6 576.4h0M1690.8 552.9h0M1691.1 534.8h0M1691.4 555.3h0M1691.6 513.3h0M1691.9 536.2h0M1692.2 511.8h0M1692.4 602.8h0M1692.7 540.3h0M1693 526.2h0M1693.2 488.1h0M1693.5 491.8h0M1693.8 505h0M1694 431.3h0M1694.3 375h0M1694.6 424.8h0M1694.8 368h0M1695.1 509h0M1695.4 468.5h0M1695.6 533.3h0M1695.9 582.9h0M1696.2 565.7h0M1696.4 497.7h0M1696.7 418.1h0M1696.9 418.9h0M1697.2 457.1h0M1697.5 372.8h0M1697.7 439.9h0M1698 460.8h0M1698.3 492.8h0M1698.5 497.3h0M1698.8 493.4h0M1699.1 474.1h0M1699.3 450.9h0M1699.6 394.7h0M1699.9 435.2h0M1700.1 525.6h0M1700.4 526.5h0M1700.7 539.9h0M1700.9 464.6h0M1701.2 539.6h0M1701.5 474.3h0M1701.7 497.5h0M1702 519.2h0M1702.3 394.8h0M1702.5 517h0M1702.8 473.3h0M1703.1 512.6h0M1703.3 534.1h0M1703.6 584.9h0M1703.9 487.7h0M1704.1 506.8h0M1704.4 481.2h0M1704.7 504.7h0M1704.9 485.6h0M1705.2 416.2h0M1705.5 421.4h0M1705.7 361.8h0M1706 449.7h0M1706.3 538h0M1706.5 454h0M1706.8 462.5h0M1707.1 378.8h0M1707.3 405.5h0M1707.6 410.1h0M1707.9 358.6h0M1708.1 330.6h0M1708.4 419.5h0M1708.7 451.5h0M1708.9 429.9h0M1709.2 433.9h0M1709.5 583.7h0M1709.7 558.2h0M1710 491.4h0M1710.3 583h0M1710.5 552h0M1710.8 534h0M1711.1 585.3h0M1711.3 560.6h0M1711.6 582.3h0M1711.9 550h0M1712.1 480.2h0M1712.4 584.5h0M1712.7 528.1h0M1712.9 504.5h0M1713.2 461.8h0M1713.5 530h0M1713.7 517.9h0M1714 458.7h0M1714.3 544.9h0M1714.5 530.6h0M1714.8 465.8h0M1715.1 515h0M1715.3 540.6h0M1715.6 581.6h0M1715.9 625.9h0M1716.1 595.8h0M1716.4 588.3h0M1716.7 639.7h0M1716.9 586.7h0M1717.2 624.7h0M1717.4 639.7h0M1717.7 629.3h0M1718 670.6h0M1718.5 567.6h0M1718.8 599.6h0M1719 569.9h0M1719.3 572.5h0M1719.6 552.2h0M1719.8 584.9h0M1720.1 563.8h0M1720.4 529.6h0M1720.6 513.5h0M1720.9 560.9h0M1721.2 523.8h0M1721.4 476.2h0M1721.7 461.1h0M1722 445.8h0M1722.2 306.3h0M1722.5 535.3h0M1722.8 611.9h0M1723 605.9h0M1723.3 606.8h0M1723.8 632.9h0M1724.1 503h0M1724.4 499.9h0M1724.6 546.8h0M1724.9 525.6h0M1725.2 470.6h0M1725.4 466.1h0M1725.7 471.9h0M1726 420.3h0M1726.2 492.7h0M1726.5 497.7h0M1726.8 501.6h0M1727 530.5h0M1727.3 534.6h0M1727.6 508.7h0M1727.8 498.2h0M1728.1 442.2h0M1728.4 356.3h0M1728.6 343.8h0M1728.9 483.2h0M1729.2 422.3h0M1729.4 488h0M1729.7 539.6h0M1730 523.7h0M1730.2 578h0M1730.5 646.1h0M1730.8 643h0M1731.6 581.7h0M1731.8 581.4h0M1732.1 535.9h0M1732.4 461.5h0M1732.6 433.9h0M1732.9 589.7h0M1733.2 522.9h0M1733.4 539h0M1733.7 505.7h0M1734 521.1h0M1734.2 521h0M1734.5 523.9h0M1734.8 471h0M1735 416.1h0M1735.3 442.3h0M1735.6 439.6h0M1735.8 599h0M1736.1 610.4h0M1736.6 610.2h0M1736.9 569.5h0M1737.2 511.1h0M1737.4 517.6h0M1737.7 424.3h0M1738 498.4h0M1738.2 453.9h0M1738.5 561.1h0M1738.7 601.6h0M1739 567.3h0M1739.3 492.3h0M1739.5 491.5h0M1739.8 484.3h0M1740.1 468.8h0M1740.3 627.6h0M1740.6 569.3h0M1740.9 531h0M1741.1 536.8h0M1741.4 449.9h0M1741.7 453.2h0M1741.9 476.4h0M1742.2 511.5h0M1742.5 523.8h0M1742.7 454.6h0M1743 480.5h0M1743.3 393.5h0M1743.5 485.5h0M1743.8 258h0M1744.1 377.3h0M1744.3 458.6h0M1744.6 413.3h0M1744.9 423h0M1745.1 427.9h0M1745.4 544.7h0M1745.7 513.7h0M1745.9 504.7h0M1746.2 605.5h0M1746.5 550.2h0M1746.7 536.1h0M1747 533.6h0M1747.3 556h0M1747.5 570.7h0M1747.8 548.6h0M1748.1 500.9h0M1748.3 544h0M1748.6 531.8h0M1748.9 358.9h0M1749.1 431.2h0M1749.4 443.3h0M1749.7 431.1h0M1749.9 348.6h0M1750.2 429.3h0M1750.5 396.1h0M1750.7 400.9h0M1751 399.1h0M1751.3 372.1h0M1751.5 377.1h0M1751.8 342.5h0M1752.1 357h0M1752.3 374.4h0M1752.6 412.2h0M1752.9 425.3h0M1753.1 427.7h0M1753.4 533.1h0M1753.7 518.9h0M1753.9 456.1h0M1754.2 411.5h0M1754.5 404.3h0M1754.7 412.2h0M1755 404.2h0M1755.3 394.9h0M1755.5 464.8h0M1755.8 486.2h0M1756.1 443.7h0M1756.3 437.4h0M1756.6 423.7h0M1756.9 487.4h0M1757.1 474.9h0M1757.4 486.5h0M1757.7 363.1h0M1757.9 399h0M1758.2 450h0M1758.5 498.4h0M1758.7 490.6h0M1759 399.9h0M1759.3 429h0M1759.5 327h0M1759.8 317.3h0M1760 435.7h0M1760.3 410h0M1760.6 474.1h0M1760.8 465.8h0M1761.1 399.8h0M1761.4 493.4h0M1761.6 434h0M1761.9 416.2h0M1762.2 338.6h0M1762.4 407.8h0M1762.7 446.7h0M1763 449.4h0M1763.2 429.8h0M1763.5 401.3h0M1763.8 405.2h0M1764 314.4h0M1764.3 384.5h0M1764.6 445.1h0M1764.8 403.9h0M1765.1 468.6h0M1765.4 397.8h0M1765.6 466.9h0M1765.9 439.5h0M1766.2 432.8h0M1766.7 321.3h0M1767 277.8h0M1767.2 345.4h0M1767.5 341.7h0M1767.8 375.8h0M1768 386.6h0M1768.3 397.1h0M1768.6 397.1h0M1768.8 411.1h0M1769.1 403.1h0M1769.4 356.2h0M1769.6 396.8h0M1769.9 283.7h0M1770.2 395.7h0M1770.4 335.2h0M1770.7 382.3h0M1771 382.1h0M1771.2 412h0M1771.5 378.6h0M1771.8 346h0M1772 410.1h0M1772.3 398.4h0M1772.6 392.1h0M1772.8 396.4h0M1773.1 431h0M1773.4 448.3h0M1773.6 423.5h0M1773.9 320.5h0M1774.2 339.2h0M1774.4 369h0M1774.7 427.6h0M1775 470.8h0M1775.5 428.6h0M1775.8 450.4h0M1776 414.3h0M1776.3 402.9h0M1776.6 338.8h0M1776.8 378.7h0M1777.1 441.9h0M1777.4 379.6h0M1777.9 357.9h0M1778.2 435.3h0M1778.4 397.9h0M1778.7 333.3h0M1779 375.4h0M1779.2 308.9h0M1779.8 297.3h0M1780 306.7h0M1780.3 353.8h0M1780.5 336h0M1780.8 374.5h0M1781.1 379.8h0M1781.3 358.2h0M1781.6 370.5h0M1781.9 380.9h0M1782.1 433.6h0M1782.4 453.4h0M1782.7 499.3h0M1782.9 318.7h0M1783.2 303.2h0M1783.5 340h0M1783.7 358.9h0M1784 316.8h0M1784.3 290.2h0M1784.5 441.6h0M1784.8 427.6h0M1785.1 418.3h0M1785.3 420.6h0M1785.6 380.7h0M1785.9 378.5h0M1786.1 402.8h0M1786.4 355.6h0M1786.7 362.8h0M1786.9 379.1h0M1787.2 328.6h0M1787.5 440.9h0M1787.7 442.3h0M1788 477.1h0M1788.3 515.5h0M1788.5 444.4h0M1788.8 493.7h0M1789.1 489h0M1789.3 447.6h0M1789.6 384.1h0M1789.9 406.1h0M1790.1 502.4h0M1790.4 425.7h0M1790.7 456.6h0M1790.9 428.8h0M1791.2 432.8h0M1791.5 443.6h0M1791.7 443h0M1792 486.4h0M1792.3 520h0M1792.5 430.7h0M1792.8 520.5h0M1793.1 427.9h0M1793.3 496.4h0M1793.6 480.3h0M1793.9 523.1h0M1794.1 492.8h0M1794.4 538h0M1794.7 452.8h0M1794.9 509.7h0M1795.2 514.7h0M1795.5 579.6h0M1795.7 515.3h0M1796 551.7h0M1796.3 528.2h0M1796.5 497.1h0M1796.8 427h0M1797.1 486.8h0M1797.3 345.8h0M1797.6 363.4h0M1797.9 421.3h0M1798.1 376.3h0M1798.4 471.6h0M1798.7 463.9h0M1798.9 462.5h0M1799.2 472.1h0M1799.5 472.6h0M1799.7 474.6h0M1800 462.5h0M1800.3 461.6h0M1800.5 527.2h0M1800.8 544.4h0M1801.1 605.8h0M1801.3 569.9h0M1801.6 555.2h0M1801.8 423.4h0M1802.1 374.9h0M1802.4 530.1h0M1802.6 514.7h0M1802.9 538.4h0M1803.2 584.4h0M1803.4 554h0M1803.7 589.9h0M1804 570.3h0M1804.2 452.5h0M1804.5 480.1h0M1804.8 477.7h0M1805 512.9h0M1805.3 439.5h0M1805.6 471h0M1805.8 458.7h0M1806.1 507.3h0M1806.4 502.2h0M1806.6 539.8h0M1806.9 573.3h0M1807.2 561h0M1807.4 567h0M1807.7 539.3h0M1808 545.8h0M1808.2 611.7h0M1808.5 480.4h0M1808.8 501.7h0M1809 518.6h0M1809.3 582.8h0M1809.6 504.8h0M1809.8 523.8h0M1810.1 539.8h0M1810.4 518.7h0M1810.6 433.9h0M1810.9 461.9h0M1811.2 427.4h0M1811.4 480.8h0M1811.7 463.2h0M1812 561.4h0M1812.2 552.4h0M1812.5 492.8h0M1812.8 471.4h0M1813 459.5h0M1813.3 279.6h0M1813.6 571.4h0M1813.8 524h0M1814.1 564.2h0M1814.4 500.9h0M1814.6 512.2h0M1814.9 626.1h0M1815.2 500.4h0M1815.4 563h0M1815.7 563.7h0M1816 466.8h0M1816.2 415.9h0M1816.5 420.6h0M1816.8 508.5h0M1817 466.7h0M1817.3 401.1h0M1817.6 506.5h0M1817.8 515.1h0M1818.1 525.3h0M1818.4 584h0M1818.6 459.6h0M1818.9 502.1h0M1819.2 579.2h0M1819.4 516.2h0M1819.7 474.4h0M1820 502.7h0M1820.2 530.8h0M1820.5 407.8h0M1820.8 476.2h0M1821 351.7h0M1821.3 420.4h0M1821.6 494.8h0M1821.8 454.5h0M1822.1 496.3h0M1822.4 488.1h0M1822.6 590.3h0M1822.9 563.1h0M1823.1 484.6h0M1823.4 450.1h0M1823.7 439.4h0M1823.9 455h0M1824.2 500.3h0M1824.5 544h0M1824.7 548.1h0M1825 536.3h0M1825.3 549h0M1825.5 540.8h0M1825.8 550.2h0M1826.1 552.7h0M1826.3 585.5h0M1826.6 526.6h0M1826.9 445.8h0M1827.1 444.6h0M1827.4 488.1h0M1827.7 377.8h0M1827.9 404.6h0M1828.2 471.8h0M1828.5 411.3h0M1828.7 454.7h0M1829 526.2h0M1829.3 599.4h0M1829.5 552h0M1829.8 595.4h0M1830.1 544.1h0M1830.3 529.5h0M1830.6 643.3h0M1830.9 546.1h0M1831.1 519.6h0M1831.4 471.7h0M1831.7 469.3h0M1831.9 453.6h0M1832.2 484.3h0M1832.5 537.2h0M1832.7 552.4h0M1833 530h0M1833.3 588.4h0M1833.5 533.5h0M1833.8 582.2h0M1834.1 624.9h0M1834.3 520.3h0M1834.6 544.4h0M1834.9 548.3h0M1835.1 519h0M1835.4 492.3h0M1835.7 402.8h0M1835.9 497.4h0M1836.2 531.5h0M1836.5 482.2h0M1836.7 472h0M1837 473.7h0M1837.3 441.5h0M1837.5 514.8h0M1837.8 543.2h0M1838.1 477.3h0M1838.3 475h0M1838.6 470.4h0M1838.9 355h0M1839.1 406.6h0M1839.4 397.6h0M1839.7 409.1h0M1839.9 394.4h0M1840.2 481h0M1840.5 458.7h0M1840.7 507.6h0M1841 411.1h0M1841.3 442.4h0M1841.5 418.5h0M1841.8 467.2h0M1842.1 517h0M1842.3 563.6h0M1842.6 632.3h0M1842.9 594.1h0M1843.1 571.9h0M1843.4 525.5h0M1843.6 527.3h0M1843.9 502.4h0M1844.2 471.5h0M1844.4 577.2h0M1844.7 497.9h0M1845 527.7h0M1845.2 520.7h0M1845.5 531.2h0M1845.8 483.4h0M1846 494.7h0M1846.3 487h0M1846.6 437.3h0M1846.8 494.3h0M1847.1 483.5h0M1847.4 475.7h0M1847.6 548.6h0M1847.9 477.1h0M1848.2 508.2h0M1848.4 464.6h0M1848.7 519.3h0M1849 516.6h0M1849.2 513.4h0M1849.5 458h0M1849.8 472.6h0M1850 432.3h0M1850.3 476.5h0M1850.6 554.6h0M1851.1 514.5h0M1851.4 544.9h0M1851.6 438.8h0M1851.9 400.1h0M1852.2 400.1h0M1852.4 401.3h0M1852.7 398.1h0M1853 363.9h0M1853.2 432.2h0M1853.5 450.2h0M1853.8 399.6h0M1854 552.4h0M1854.3 526.9h0M1854.6 456h0M1854.8 537.6h0M1855.1 501.9h0M1855.4 566.2h0M1855.6 471.5h0M1855.9 450.5h0M1856.2 453.5h0M1856.4 456.9h0M1856.7 544.3h0M1857 444.3h0M1857.2 418.5h0M1857.5 472.5h0M1857.8 510.8h0M1858 547.3h0M1858.3 533.3h0M1858.6 616.2h0M1858.8 534.4h0M1859.1 522.9h0M1859.4 575.2h0M1859.6 515.5h0M1859.9 378.2h0M1860.2 455.4h0M1860.4 452.5h0M1860.7 338.7h0M1861 414.6h0M1861.2 378.4h0M1861.5 448.2h0M1861.8 391.9h0M1862 502.1h0M1862.3 564.1h0M1862.6 578.5h0M1862.8 535h0M1863.1 491.6h0M1863.4 522.7h0M1863.6 511.7h0M1863.9 514.6h0M1864.2 459.9h0M1864.4 510.5h0M1864.7 483h0M1864.9 482.8h0M1865.2 404.4h0M1865.5 375.9h0M1865.7 442.8h0M1866 458.3h0M1866.3 428.8h0M1866.5 474.5h0M1866.8 481.5h0M1867.1 527.9h0M1867.3 397.5h0M1867.6 459.8h0M1867.9 487h0M1868.1 404.5h0M1868.4 366.1h0M1868.7 341.5h0M1868.9 361h0M1869.2 390.9h0M1869.5 448.1h0M1869.7 429.8h0M1870 447.2h0M1870.3 431.3h0M1870.5 433.7h0M1870.8 502.4h0M1871.1 487.3h0M1871.3 385.4h0M1871.6 446.9h0M1871.9 436.9h0M1872.1 367h0M1872.4 451.5h0M1872.7 373.7h0M1872.9 476h0M1873.2 445.4h0M1873.5 519.6h0M1873.7 472.7h0M1874 387.4h0M1874.3 419.7h0M1874.5 428h0M1874.8 404.5h0M1875.1 484.5h0M1875.3 398.1h0M1875.6 453h0M1875.9 475.6h0M1876.1 424.9h0M1876.4 388.6h0M1876.7 352.9h0M1876.9 399.3h0M1877.2 434.2h0M1877.5 397.3h0M1877.7 326.5h0M1878 404.2h0M1878.3 344.4h0M1878.5 372.8h0M1878.8 354.5h0M1879.3 314.5h0M1879.6 355.5h0M1879.9 409.1h0M1880.1 506h0M1880.4 445.5h0M1880.7 484.3h0M1880.9 479.1h0M1881.2 337.4h0M1881.5 360.4h0M1881.7 441.6h0M1882 369.1h0M1882.3 362.5h0M1882.5 360.9h0M1882.8 349.1h0M1883.1 312.2h0M1883.3 366h0M1883.6 416.8h0M1883.9 363.6h0M1884.1 404.7h0M1884.4 339.9h0M1884.7 274.6h0M1884.9 288.9h0M1885.2 345.9h0M1885.5 446.6h0M1885.7 426.8h0M1886 331.7h0M1886.2 403h0M1886.8 375.8h0M1887 355.7h0M1887.3 375.4h0M1887.6 318h0M1888.1 313.9h0M1888.4 303.6h0M1888.9 326.8h0M1889.2 306.2h0M1889.7 317.9h0M1890 301.9h0M1890.2 278.9h0M1890.5 251.8h0M1890.8 289.5h0M1891 273h0M1891.3 321.7h0M1891.6 319.1h0M1891.8 374h0M1892.1 361.1h0M1892.4 300.7h0M1893.4 450.5h0M1893.7 349.2h0M1894 302h0M1894.2 343.6h0M1894.5 351.1h0M1894.8 316.2h0M1895 325.1h0M1895.3 281.9h0M1895.6 292.2h0M1895.8 358h0M1896.1 419.3h0M1896.4 364.9h0M1896.6 362.9h0M1896.9 353.4h0M1897.2 405.5h0M1897.4 416.7h0M1897.7 342.3h0M1898 359.1h0M1898.2 376h0M1898.5 351.5h0M1898.8 293.4h0M1899 334h0M1899.3 363.5h0M1899.6 384h0M1899.8 378.6h0M1900.1 349.8h0M1900.4 339.9h0M1900.6 298.1h0M1900.9 270.3h0M1901.2 285.7h0M1901.4 313.8h0M1901.7 373.1h0M1902 323.6h0M1902.2 344.1h0M1902.5 328.9h0M1902.8 415.7h0M1903 394h0M1903.3 374.2h0M1903.6 417.4h0M1903.8 408.5h0M1904.1 375h0M1904.4 442.3h0M1904.6 456.4h0M1904.9 475.8h0M1905.2 491.2h0M1905.4 478.6h0M1905.7 447.1h0M1906 372.3h0M1906.2 398.4h0M1906.5 425.2h0M1906.7 423.5h0M1907 420.3h0M1907.3 366.2h0M1907.5 358.2h0M1907.8 362.6h0M1908.1 437h0M1908.3 407.8h0M1908.6 432h0M1908.9 330.1h0M1909.1 378.4h0M1909.4 408.1h0M1909.7 355.5h0M1909.9 420h0M1910.2 425.1h0M1910.5 383.4h0M1910.7 324.5h0M1911 322.6h0M1911.3 447h0M1911.5 320.4h0M1911.8 376.6h0M1912.1 424.7h0M1912.3 351.1h0M1912.6 398.2h0M1912.9 426.9h0M1913.1 336.6h0M1913.4 351h0M1913.7 390.3h0M1913.9 409.1h0M1914.2 410.4h0M1914.5 322.6h0M1914.7 426.1h0M1915 397.2h0M1915.3 381.8h0M1915.5 424.6h0M1915.8 477.3h0M1916.1 520h0M1916.3 474.7h0M1916.6 496.9h0M1916.9 518.5h0M1917.1 504.3h0M1917.4 455.6h0M1917.7 521.9h0M1917.9 574.1h0M1918.2 474.6h0M1918.5 500.9h0M1918.7 482h0M1919 481.8h0M1919.3 508.1h0M1919.5 355.5h0M1919.8 463.2h0M1920.1 427.7h0M1920.3 420h0M1920.6 411.1h0M1920.9 469.3h0M1921.1 383.1h0M1921.4 487.6h0M1921.7 510.4h0M1921.9 559.2h0M1922.2 543.1h0M1922.5 471.2h0M1922.7 588.1h0M1923 524.2h0M1923.3 490h0M1923.5 438h0M1923.8 509.7h0M1924.1 377h0M1924.3 512.4h0M1924.6 517.9h0M1924.9 514.7h0M1925.1 479.9h0M1925.4 440.9h0M1925.7 485.1h0M1925.9 484.3h0M1926.2 567.8h0M1926.5 520.3h0M1926.7 487.9h0M1927 451.4h0M1927.3 529.8h0M1927.5 463.2h0M1927.8 521.4h0M1928 561h0M1928.3 544.4h0M1928.6 567h0M1928.8 436.7h0M1929.1 443.6h0M1929.4 386.7h0M1929.6 581.3h0M1929.9 461.4h0M1930.2 433h0M1930.4 508.5h0M1930.7 518.2h0M1931 482.6h0M1931.2 480.2h0M1931.5 437.1h0M1931.8 462h0M1932 565h0M1932.3 515.2h0M1932.6 449.5h0M1932.8 497.4h0M1933.1 541.1h0M1933.4 546.1h0M1933.6 524.5h0M1933.9 415.8h0M1934.2 451.8h0M1934.4 517.3h0M1934.7 514.4h0M1935 529.7h0M1935.2 512.9h0M1935.5 421.4h0M1935.8 465.1h0M1936 507.5h0M1936.3 473.1h0M1936.6 473.2h0M1936.8 501.5h0M1937.1 480.3h0M1937.4 507.3h0M1937.6 524.1h0M1937.9 371.3h0M1938.2 432.9h0M1938.4 416h0M1938.7 414h0M1939 458.7h0M1939.2 462.3h0M1939.5 496.5h0M1939.8 527h0M1940 497.6h0M1940.3 495.7h0M1940.6 408.4h0M1940.8 405.1h0M1941.1 498h0M1941.4 451.5h0M1941.6 473.2h0M1941.9 531.8h0M1942.2 504.8h0M1942.4 535.9h0M1942.7 467.2h0M1943 463h0M1943.2 471h0M1943.5 462.1h0M1943.8 373h0M1944 396h0M1944.3 389.2h0M1944.6 504.7h0M1944.8 565.3h0M1945.1 592.4h0M1945.4 583.4h0M1945.6 516.9h0M1945.9 551.6h0M1946.2 522.9h0M1946.4 522.4h0M1946.7 471.8h0M1947 416.7h0M1947.2 488.9h0M1947.5 548.5h0M1947.8 426.5h0M1948 617.8h0M1948.3 684.4h0M1948.6 562.9h0M1948.8 542h0M1949.1 447.6h0M1949.3 454h0M1949.6 467.4h0M1949.9 465.4h0M1950.1 501.8h0M1950.4 535h0M1950.7 531h0M1950.9 517.8h0M1951.2 494.4h0M1951.5 491.6h0M1951.7 500.3h0M1952 531.6h0M1952.3 517.2h0M1952.5 438.7h0M1952.8 479.8h0M1953.1 571.3h0M1953.3 551.4h0M1953.6 477.4h0M1953.9 543h0M1954.1 489.6h0M1954.4 354.1h0M1954.7 385.9h0M1954.9 456.3h0M1955.2 469.8h0M1955.5 534.4h0M1955.7 535.6h0M1956 515h0M1956.3 403.1h0M1956.5 402.2h0M1956.8 436.7h0M1957.1 454.3h0M1957.3 438.4h0M1957.6 430.6h0M1957.9 406.1h0M1958.1 401h0M1958.4 354.7h0M1958.7 405.2h0M1958.9 429.5h0M1959.2 442.4h0M1959.5 282h0M1959.7 415h0M1960 371h0M1960.3 458.4h0M1960.5 452.8h0M1960.8 484h0M1961.1 520.1h0M1961.3 479h0M1961.6 517.4h0M1961.9 534.3h0M1962.1 560.6h0M1962.4 588.2h0M1962.7 521.2h0M1962.9 563.7h0M1963.2 545.1h0M1963.5 395.3h0M1963.7 367.7h0M1964 465.9h0M1964.3 445.6h0M1964.5 485.2h0M1964.8 529.6h0M1965.1 481.9h0M1965.3 513.4h0M1965.6 467.6h0M1965.9 470.6h0M1966.1 557.7h0M1966.4 560.3h0M1966.7 473.2h0M1966.9 521.8h0M1967.2 493.5h0M1967.5 483.6h0M1967.7 426.3h0M1968 412.9h0M1968.3 486.9h0M1968.5 357.8h0M1968.8 465.1h0M1969.1 459.3h0M1969.3 523.3h0M1969.6 468.3h0M1969.8 482.4h0M1970.1 453.7h0M1970.4 484.6h0M1970.6 509.5h0M1970.9 481.5h0M1971.2 517.1h0M1971.4 603h0M1971.7 535.3h0M1972 560.3h0M1972.2 551.1h0M1972.5 541.9h0M1972.8 627.3h0M1973 486.5h0M1973.3 486.2h0M1973.6 423.2h0M1973.8 424h0M1974.1 449.6h0M1974.4 642h0M1974.6 609h0M1975.2 655.4h0M1975.4 580h0M1975.7 502.1h0M1976 615.4h0M1976.2 565h0M1976.5 572.3h0M1976.8 583h0M1977 485.1h0M1977.3 457.8h0M1977.6 500.7h0M1977.8 575.1h0M1978.1 467.1h0M1978.4 474.3h0M1978.6 470.2h0M1978.9 460.4h0M1979.2 426.7h0M1979.4 384h0M1979.7 542.9h0M1980 487.9h0M1980.2 446.1h0M1980.5 492.7h0M1980.8 451.8h0M1981 485.8h0M1981.3 460.4h0M1981.6 454.6h0M1981.8 537.8h0M1982.1 499.2h0M1982.4 493.2h0M1982.6 457.9h0M1982.9 504.3h0M1983.4 498.3h0M1983.7 528h0M1984 512h0M1984.2 556.5h0M1984.5 534.9h0M1984.8 341.2h0M1985 429.1h0M1985.3 462.7h0M1985.6 493h0M1985.8 441.3h0M1986.1 416.4h0M1986.4 437.6h0M1986.6 494.7h0M1986.9 541.7h0M1987.2 525.4h0M1987.4 523h0M1987.7 519.8h0M1988 511.8h0M1988.2 522.9h0M1988.5 544h0M1988.8 493.5h0M1989 493.1h0M1989.3 514.5h0M1989.6 504.1h0M1989.8 460.5h0M1990.1 565.9h0M1990.4 506.8h0M1990.6 533.2h0M1990.9 515.3h0M1991.1 523.4h0M1991.4 411.5h0M1991.7 538.6h0M1991.9 500.8h0M1992.2 433.5h0M1992.5 462.1h0M1992.7 427.5h0M1993 569.1h0M1993.3 460.5h0M1993.5 465.5h0M1993.8 511.5h0M1994.1 441.4h0M1994.3 441.6h0M1994.6 467.8h0M1994.9 606.1h0M1995.1 488.3h0M1995.4 519.4h0M1995.7 475.4h0M1995.9 405.8h0M1996.2 472.1h0M1996.5 510.9h0M1996.7 400.6h0M1997 445.1h0M1997.3 478.9h0M1997.5 442.1h0M1997.8 324.9h0M1998.1 465.1h0M1998.3 429.9h0M1998.6 402.7h0M1998.9 396.8h0M1999.1 397.7h0M1999.4 354.5h0M1999.7 391.9h0M1999.9 354.1h0M2000.2 390.9h0M2000.5 382.2h0M2000.7 336.1h0M2001 421.7h0M2001.3 497.7h0M2001.5 517.9h0M2001.8 395.1h0M2002.1 451.4h0M2002.3 422h0M2002.6 412.5h0M2002.9 359h0M2003.1 397.2h0M2003.4 431.1h0M2003.7 378h0M2003.9 405.3h0M2004.2 366h0M2004.5 355.9h0M2004.7 369.1h0M2005 462.2h0M2005.3 337.3h0M2005.5 371.2h0M2005.8 359.8h0M2006.1 325.6h0M2006.3 360.7h0M2006.6 400h0M2006.9 310.6h0M2007.1 278.5h0M2007.4 375.9h0M2007.7 379.1h0M2007.9 405.5h0M2008.2 339.8h0M2008.5 375h0M2008.7 313.6h0M2009 274.2h0M2009.3 294.9h0M2009.5 332.4h0M2009.8 382.9h0M2010.1 329.1h0M2010.3 401.4h0M2010.6 433.6h0M2010.9 331.5h0M2011.1 463h0M2011.7 329.6h0M2011.9 392.9h0M2012.2 323.7h0M2012.4 289.2h0M2012.7 351h0M2013 404.6h0M2013.5 343.5h0M2013.8 467.5h0M2014 371.2h0M2014.3 402.9h0M2014.6 330.8h0M2014.8 382h0M2015.1 428.3h0M2015.4 337.6h0M2015.6 350.3h0M2015.9 351.4h0M2016.2 344.5h0M2016.4 351.1h0M2016.7 304.4h0M2017 306.5h0M2017.2 344.7h0M2017.5 373.6h0M2017.8 312.1h0M2018 307h0M2018.3 442.5h0M2018.6 442.1h0M2018.8 433.2h0M2019.1 367.1h0M2019.4 349.5h0M2019.6 361.3h0M2019.9 332.5h0M2020.2 407h0M2020.4 381.4h0M2020.7 441.7h0M2021 345.1h0M2021.2 297.9h0M2021.8 332.8h0M2022 337.1h0M2022.3 343.9h0M2022.6 357h0M2022.8 400.2h0M2023.1 471.8h0M2023.4 395.6h0M2023.6 373.9h0M2023.9 370.7h0M2024.2 450.3h0M2024.4 399.3h0M2024.7 398.1h0M2025 339h0M2025.2 412.7h0M2025.5 433.3h0M2025.8 379.8h0M2026 364.5h0M2026.3 467.6h0M2026.6 473.7h0M2026.8 426.1h0M2027.1 483.3h0M2027.4 469.2h0M2027.6 422h0M2027.9 507.6h0M2028.2 381.6h0M2028.4 408.7h0M2028.7 300.1h0M2029 365.2h0M2029.2 370.6h0M2029.5 323.7h0M2029.8 386h0M2030 389.2h0M2030.3 393.8h0M2030.6 394.2h0M2030.8 386.2h0M2031.1 463.2h0M2031.4 435.2h0M2031.6 447.7h0M2031.9 374.6h0M2032.2 404.2h0M2032.4 463.5h0M2032.7 404.7h0M2032.9 396.3h0M2033.2 425.9h0M2033.5 508.6h0M2033.7 478.7h0M2034 427.9h0M2034.3 447.1h0M2034.5 557.5h0M2034.8 579h0M2035.1 557.4h0M2035.3 542.6h0M2035.6 488.6h0M2035.9 454.9h0M2036.1 468.2h0M2036.4 476.3h0M2036.7 443.3h0M2036.9 438h0M2037.2 426.8h0M2037.5 409.7h0M2037.7 393.9h0M2038 438h0M2038.3 521.4h0M2038.5 476.8h0M2038.8 479.4h0M2039.1 426.6h0M2039.3 505.7h0M2039.6 362.6h0M2039.9 420.2h0M2040.1 450.7h0M2040.4 563.3h0M2040.7 500.6h0M2040.9 449h0M2041.2 493h0M2041.5 498.9h0M2041.7 586h0M2042 484.4h0M2042.3 440.6h0M2042.5 443.7h0M2042.8 498.4h0M2043.1 529.3h0M2043.3 575.3h0M2043.6 487.2h0M2043.9 455.5h0M2044.1 476.8h0M2044.4 540.5h0M2044.7 540.2h0M2044.9 508.9h0M2045.2 450.2h0M2045.5 533.7h0M2045.7 562.2h0M2046.3 590.2h0M2046.5 634.9h0M2046.8 536h0M2047.1 520.8h0M2047.3 477.4h0M2047.6 378.9h0M2047.9 472.4h0M2048.1 338.1h0M2048.4 475.9h0M2048.7 490.1h0M2048.9 531.7h0M2049.2 532.1h0M2049.5 506.7h0M2049.7 494.3h0M2050 565h0M2050.3 563.8h0M2050.5 494.8h0M2050.8 542.1h0M2051.1 546h0M2051.3 513.2h0M2051.6 583.8h0M2051.9 625.8h0M2052.1 634.6h0M2052.4 572.5h0M2052.7 494.3h0M2052.9 452.1h0M2053.2 493.1h0M2053.5 543.3h0M2053.7 531.4h0M2054 526.5h0M2054.2 597.1h0M2054.5 534.9h0M2054.8 574.7h0M2055 671.8h0M2055.3 523.2h0M2055.6 521.1h0M2055.8 511.1h0M2056.1 470.5h0M2056.4 402h0M2056.6 386.5h0M2056.9 456.2h0M2057.2 452.7h0M2057.4 493.3h0M2057.7 465.8h0M2058 488.3h0M2058.2 501.6h0M2058.5 451h0M2058.8 401.2h0M2059 384.6h0M2059.3 496.3h0M2059.6 468h0M2059.8 501.7h0M2060.1 537h0M2060.4 635h0M2060.6 551.3h0M2060.9 561.8h0M2061.2 638.8h0M2061.4 588.1h0M2062 494.8h0M2062.2 599.9h0M2062.5 570.1h0M2062.8 460.4h0M2063 506.3h0M2063.3 547.8h0M2063.6 592.9h0M2063.8 616h0M2064.1 560h0M2064.4 473.2h0M2064.6 511h0M2064.9 502h0M2065.2 534.5h0M2065.4 502.4h0M2065.7 633.1h0M2066 558h0M2066.2 555.1h0M2066.5 631.9h0M2067 559.1h0M2067.3 540h0M2067.6 476h0M2067.8 429h0M2068.1 487.8h0M2068.4 460h0M2068.6 435.8h0M2068.9 444h0M2069.2 522.3h0M2069.4 496.2h0M2069.7 500.3h0M2070 506.6h0M2070.2 373.4h0M2070.5 544.6h0M2070.8 564.9h0M2071 442.3h0M2071.3 507.3h0M2071.6 478.2h0M2071.8 514.3h0M2072.1 558.9h0M2072.4 486.3h0M2072.6 549.6h0M2072.9 449.6h0M2073.2 529.6h0M2073.4 536.9h0M2073.7 481.7h0M2074 443.5h0M2074.2 448.2h0M2074.5 448h0M2074.8 449.3h0M2075 496.8h0M2075.3 428h0M2075.5 448.4h0M2075.8 456.9h0M2076.1 390.2h0M2076.3 437.2h0M2076.6 409.2h0M2076.9 324.7h0M2077.1 314h0M2077.7 467.5h0M2077.9 451.2h0M2078.2 545h0M2078.5 582.8h0M2078.7 597.8h0M2079 530.2h0M2079.3 445.3h0M2079.5 500.4h0M2079.8 520.1h0M2080.1 556.9h0M2080.3 532.5h0M2080.6 498.6h0M2080.9 436.7h0M2081.1 510.2h0M2081.4 505.6h0M2081.7 450.4h0M2081.9 492.7h0M2082.2 511h0M2082.5 489h0M2082.7 504.5h0M2083 535.1h0M2083.3 425.2h0M2083.5 448.8h0M2083.8 453.5h0M2084.1 592.1h0M2084.3 565.4h0M2084.6 467.1h0M2084.9 466.8h0M2085.1 510.3h0M2085.4 575.2h0M2085.7 596.1h0M2085.9 509h0M2086.2 515.4h0M2086.5 467.7h0M2086.7 514.5h0M2087 456.9h0M2087.3 575.4h0M2087.5 565.4h0M2087.8 576.1h0M2088.1 447h0M2088.3 440.9h0M2088.6 511h0M2088.9 447h0M2089.1 477h0M2089.4 472.9h0M2089.7 535.3h0M2089.9 546.3h0M2090.2 624.6h0M2090.5 529.2h0M2090.7 518.1h0M2091 520.7h0M2091.3 533.7h0M2091.5 544h0M2091.8 579.7h0M2092.1 460.8h0M2092.3 549.3h0M2092.6 468h0M2092.9 566h0M2093.1 544.7h0M2093.4 566.1h0M2093.7 618.3h0M2093.9 555.2h0M2094.2 538.3h0M2094.5 541.4h0M2094.7 535.2h0M2095 465.2h0M2095.3 464.1h0M2095.5 495.8h0M2095.8 487.4h0M2096 486h0M2096.3 470.4h0M2096.6 540.4h0M2096.8 564.3h0M2097.1 629h0M2097.4 382.9h0M2097.6 466.6h0M2097.9 530.3h0M2098.2 432.8h0M2098.4 506.9h0M2098.7 468.6h0M2099 486.5h0M2099.2 468.6h0M2099.5 382.3h0M2099.8 609.9h0M2100 593.2h0M2100.3 518.7h0M2100.6 574.9h0M2100.8 511.4h0M2101.1 485.1h0M2101.4 461.9h0M2101.6 456h0M2101.9 546.2h0M2102.2 497.6h0M2102.4 483.6h0M2102.7 492.8h0M2103 481.2h0M2103.2 581.1h0M2103.5 478.6h0M2103.8 438.2h0M2104 500.3h0M2104.3 435.6h0M2104.6 467.6h0M2104.8 526.1h0M2105.1 483.9h0M2105.4 491.7h0M2105.6 475.1h0M2105.9 462.5h0M2106.2 468.8h0M2106.4 477.7h0M2106.7 540.6h0M2107 588.7h0M2107.2 519.9h0M2107.5 494.3h0M2107.8 540.5h0M2108 443.2h0M2108.3 427h0M2108.6 466h0M2108.8 364.5h0M2109.1 399h0M2109.4 443.3h0M2109.6 402.5h0M2109.9 389.7h0M2110.2 399.9h0M2110.4 443.4h0M2110.7 392.7h0M2111 398.8h0M2111.2 469h0M2111.5 453.5h0M2111.8 445.2h0M2112 420.5h0M2112.3 414.7h0M2112.6 465.7h0M2112.8 494h0M2113.1 467.7h0M2113.4 495.3h0M2113.6 476.2h0M2113.9 499.1h0M2114.2 486.7h0M2114.4 433.5h0M2114.7 479.8h0M2115 401h0M2115.2 468.5h0M2115.5 427.3h0M2115.8 420h0M2116 498.8h0M2116.3 501.5h0M2116.6 460.5h0M2116.8 448.6h0M2117.1 426h0M2117.3 386.3h0M2117.6 349h0M2117.9 391.3h0M2118.1 432h0M2118.4 370.3h0M2118.7 344.6h0M2118.9 438.1h0M2119.2 428h0M2119.5 403.5h0M2119.7 451.4h0M2120 386.7h0M2120.3 428.6h0M2120.5 491.1h0M2120.8 253.1h0M2121.1 409.3h0M2121.3 418.3h0M2121.6 450.8h0M2121.9 393.3h0M2122.1 385.6h0M2122.4 336.9h0M2122.7 359.2h0M2122.9 398.5h0M2123.2 378.8h0M2123.5 279.3h0M2123.7 360.3h0M2124 384h0M2124.3 364.3h0M2124.5 393.4h0M2124.8 401.4h0M2125.1 323.4h0M2125.6 340.4h0M2125.9 405.3h0M2126.1 338.8h0M2126.4 338.2h0M2126.7 363.8h0M2126.9 397.9h0M2127.2 437.5h0M2127.5 475.4h0M2127.7 430.9h0M2128 428.8h0M2128.3 432.1h0M2128.5 371h0M2128.8 430.3h0M2129.1 424.7h0M2129.3 445.6h0M2129.6 392.8h0M2129.9 423h0M2130.1 366.3h0M2130.4 402.2h0M2130.7 251.6h0M2130.9 281.5h0M2131.2 350.5h0M2131.5 373.5h0M2132 286h0M2132.3 397.9h0M2132.5 385.6h0M2132.8 380.2h0M2133.1 402h0M2133.3 401.5h0M2133.6 406.5h0M2133.9 392.6h0M2134.1 325.3h0M2134.4 324h0M2134.7 402.7h0M2134.9 413.3h0M2135.2 363.4h0M2135.5 412.3h0M2135.7 403.3h0M2136 413h0M2136.3 343.8h0M2136.5 365h0M2136.8 373.2h0M2137.1 286.4h0M2137.3 348.4h0M2137.6 343.8h0M2137.9 386.3h0M2138.1 406.6h0M2138.4 384h0M2138.6 328.4h0M2138.9 363.6h0M2139.2 302.7h0M2139.7 362.1h0M2140 351.8h0M2140.2 419.7h0M2140.5 403.1h0M2140.8 410.2h0M2141 442.5h0M2141.3 438.7h0M2141.6 381.2h0M2141.8 422.4h0M2142.1 296.4h0M2142.4 386h0M2142.6 488.1h0M2142.9 453.7h0M2143.2 488h0M2143.4 442.6h0M2143.7 365.7h0M2144 414.3h0M2144.2 441.4h0M2144.5 385.9h0M2144.8 354h0M2145 392.1h0M2145.3 334.6h0M2145.6 321.3h0M2145.8 381.5h0M2146.1 348.6h0M2146.4 341.6h0M2146.6 309.8h0M2146.9 347.9h0M2147.2 361.6h0M2147.4 321.1h0M2147.7 389.5h0M2148 496.8h0M2148.2 318.4h0M2148.5 347.9h0M2148.8 384.6h0M2149 387.5h0M2149.3 478.9h0M2149.6 359.8h0M2149.8 455.4h0M2150.1 433.7h0M2150.4 442.3h0M2150.6 437.1h0M2150.9 426.7h0M2151.2 411.1h0M2151.4 525.3h0M2151.7 456.1h0M2152 402h0M2152.2 450.3h0M2152.5 309.7h0M2152.8 440.9h0M2153 391h0M2153.3 418h0M2153.6 433.6h0M2153.8 437h0M2154.1 410.2h0M2154.4 377.4h0M2154.6 412h0M2154.9 375.6h0M2155.2 409.4h0M2155.4 419.9h0M2155.7 327.7h0M2156 382.7h0M2156.2 466.1h0M2156.5 472h0M2156.8 505.1h0M2157 498.2h0M2157.3 486h0M2157.6 433.1h0M2157.8 464.8h0M2158.1 514.8h0M2158.4 510.8h0M2158.6 507.9h0M2158.9 523.6h0M2159.1 475.1h0M2159.4 498.8h0M2159.7 504.5h0M2159.9 469.2h0M2160.2 464.6h0M2160.5 401.9h0M2160.7 439.8h0M2161 429.7h0M2161.3 343.3h0M2161.5 400.8h0M2161.8 320.3h0M2162.1 472.5h0M2162.3 515.1h0M2162.6 518.9h0M2162.9 483.6h0M2163.1 443h0M2163.4 465.6h0M2163.7 470.1h0M2163.9 454.9h0M2164.2 477.5h0M2164.5 512.9h0M2164.7 533.5h0M2165 487.6h0M2165.3 409.2h0M2165.5 434.2h0M2165.8 531.7h0M2166.1 496.4h0M2166.3 576.1h0M2166.6 625.3h0M2166.9 610.1h0M2167.4 635.6h0M2167.7 621.3h0M2167.9 585.7h0M2168.2 604.1h0M2168.5 594.7h0M2168.7 542.4h0M2169 498.1h0M2169.3 526.1h0M2169.5 512.8h0M2169.8 557h0M2170.1 513.6h0M2170.3 603.2h0M2170.6 618.6h0M2170.9 542h0M2171.1 565.8h0M2171.4 534.8h0M2171.7 573.4h0M2171.9 479.1h0M2172.2 573.5h0M2172.5 583.2h0M2172.7 532.7h0M2173 561.8h0M2173.3 554.1h0M2173.5 541.9h0M2173.8 549.6h0M2174.1 493.9h0M2174.3 529.3h0M2174.6 478.4h0M2174.9 533.2h0M2175.1 545.5h0M2175.4 570h0M2175.7 511.2h0M2175.9 630.1h0M2176.2 594.4h0M2176.5 576.9h0M2176.7 528.2h0M2177 575.3h0M2177.3 534.8h0M2177.5 556.9h0M2177.8 510.8h0M2178.1 522.2h0M2178.3 506.6h0M2178.6 548.9h0M2178.9 519.6h0M2179.1 540.6h0M2179.4 519.3h0M2179.7 476.1h0M2179.9 443.8h0M2180.2 504.8h0M2180.4 423.7h0M2180.7 498.5h0M2181 496.5h0M2181.2 442.7h0M2181.5 492.6h0M2181.8 522h0M2182 504.3h0M2182.3 461.3h0M2182.6 616.2h0M2182.8 532.7h0M2183.1 549.6h0M2183.4 498.2h0M2183.6 469.7h0M2183.9 466.1h0M2184.2 512h0M2184.4 534.7h0M2184.7 532.2h0M2185 563.5h0M2185.2 545.9h0M2185.5 516.1h0M2185.8 492.3h0M2186 547.2h0M2186.3 458.6h0M2186.6 492.6h0M2186.8 516.1h0M2187.1 532h0M2187.4 595.8h0M2187.6 605.7h0M2187.9 600.2h0M2188.2 517.8h0M2188.4 587.1h0M2188.7 524.5h0M2189 531.7h0M2189.2 517.8h0M2189.5 457.4h0M2189.8 521.9h0M2190 599.1h0M2190.3 592.1h0M2190.6 564.6h0M2190.8 467.5h0M2191.4 575h0M2191.6 530.7h0M2191.9 526.6h0M2192.2 555h0M2192.4 482.4h0M2192.7 533.3h0M2193 466.5h0M2193.2 452.7h0M2193.5 462.7h0M2193.8 421.6h0M2194 454.6h0M2194.3 480.8h0M2194.6 431.7h0M2194.8 486.1h0M2195.1 475.4h0M2195.4 528.7h0M2195.6 518.3h0M2195.9 496.4h0M2196.2 489.8h0M2196.4 405.1h0M2196.7 427.1h0M2197 287.9h0M2197.2 526h0M2197.5 535.4h0M2197.8 472h0M2198 508.8h0M2198.3 532.8h0M2198.6 487.6h0M2198.8 521.1h0M2199.1 566.4h0M2199.4 513.8h0M2199.6 514.6h0M2199.9 524.1h0M2200.2 441.7h0M2200.4 492.9h0M2200.7 498h0M2201 465.2h0M2201.2 456.6h0M2201.5 490.7h0M2201.7 536.7h0M2202 608.9h0M2202.3 495.2h0M2202.5 532.5h0M2202.8 526.9h0M2203.1 550.1h0M2203.3 588.1h0M2203.6 514.9h0M2203.9 481.2h0M2204.1 464.4h0M2204.4 469.7h0M2204.7 566.4h0M2204.9 587.4h0M2205.2 462.6h0M2205.5 501.8h0M2205.7 467.8h0M2206 528h0M2206.3 551.2h0M2206.5 506.2h0M2206.8 532.4h0M2207.1 513.1h0M2207.3 516.6h0M2207.6 501.3h0M2207.9 503.7h0M2208.1 535.2h0M2208.4 466.4h0M2208.7 467.4h0M2208.9 483.8h0M2209.2 485.1h0M2209.5 514.5h0M2209.7 481.8h0M2210 358.6h0M2210.3 444.7h0M2210.5 491.7h0M2210.8 506.9h0M2211.1 505.7h0M2211.3 521h0M2211.6 442.5h0M2211.9 484.2h0M2212.1 464.9h0M2212.4 496.3h0M2212.7 485h0M2212.9 534.8h0M2213.2 550.5h0M2213.5 594.1h0M2213.7 529.8h0M2214 542.8h0M2214.3 532.6h0M2214.5 540.2h0M2214.8 583h0M2215.1 580.7h0M2215.3 528h0M2215.6 547.9h0M2215.9 547.9h0M2216.1 549.1h0M2216.4 510.7h0M2216.7 404.6h0M2216.9 449.4h0M2217.2 504.2h0M2217.5 542.6h0M2217.7 440.8h0M2218 479.5h0M2218.3 427.7h0M2218.5 547.9h0M2218.8 384.3h0M2219.1 486.6h0M2219.3 530.9h0M2219.6 505.1h0M2219.9 539.5h0M2220.1 537.5h0M2220.4 478.4h0M2220.7 537.4h0M2220.9 493.6h0M2221.2 432.8h0M2221.5 548h0M2221.7 509.8h0M2222 435.6h0M2222.2 555.8h0M2222.5 487.1h0M2222.8 508.3h0M2223 592.9h0M2223.3 578.4h0M2223.6 443.9h0M2223.8 532.9h0M2224.1 520.1h0M2224.4 605.9h0M2224.6 566.7h0M2224.9 496.4h0M2225.2 572.9h0M2225.4 610.5h0M2225.7 533.7h0M2226 523.8h0M2226.2 485.1h0M2226.5 495h0M2226.8 528.3h0M2227 519.4h0M2227.3 474.8h0M2227.6 459.4h0M2227.8 538.9h0M2228.1 520.6h0M2228.4 625.7h0M2228.6 537h0M2228.9 541.2h0M2229.2 532.1h0M2229.4 504.1h0M2229.7 554h0M2230 483.7h0M2230.2 479.2h0M2230.5 475.1h0M2230.8 514.4h0M2231 473.5h0M2231.3 527.5h0M2231.6 562.5h0M2231.8 530.2h0M2232.1 560.9h0M2232.4 614.4h0M2232.6 523.6h0M2232.9 552.8h0M2233.2 600.4h0M2233.4 631.5h0M2233.7 529.2h0M2234 494.4h0M2234.2 475.4h0M2234.5 459.6h0M2234.8 417.6h0M2235 472.9h0M2235.3 466.3h0M2235.6 467.3h0M2235.8 382.2h0M2236.1 461.5h0M2236.4 457.5h0M2236.6 453.8h0M2236.9 428.2h0M2237.2 434h0M2237.4 463h0M2237.7 442.7h0M2238 512.1h0M2238.2 429.5h0M2238.5 441h0M2238.8 363.9h0M2239 368.6h0M2239.3 368h0M2239.6 421.7h0M2239.8 453.5h0M2240.1 457.3h0M2240.4 534h0M2240.6 512.4h0M2240.9 494.2h0M2241.2 372.3h0M2241.4 344.7h0M2241.7 442.2h0M2242 343.4h0M2242.2 331.9h0M2242.5 339.2h0M2242.8 283.2h0M2243 398h0M2243.3 381.1h0M2243.5 317.6h0M2243.8 370.6h0M2244.1 304h0M2244.3 351.9h0M2244.6 400.2h0M2244.9 360.9h0M2245.1 328.3h0M2245.4 328.9h0M2245.9 312.7h0M2246.2 355h0M2246.5 328.4h0M2246.7 252.8h0M2247 355.2h0M2247.3 429.3h0M2247.5 323.2h0M2247.8 322.1h0M2248.3 335.6h0M2248.6 334.4h0M2248.9 434.4h0M2249.1 416.4h0M2249.4 377.1h0M2249.7 338.7h0M2249.9 370.7h0M2250.5 350.8h0M2250.7 349.6h0M2251 334.4h0M2251.3 303.3h0M2251.5 359.3h0M2251.8 440.8h0M2252.1 376h0M2252.3 393.7h0M2252.6 451.4h0M2252.9 389.8h0M2253.1 366.1h0M2253.4 291.9h0M2253.7 315.3h0M2253.9 326.5h0M2254.2 316h0M2254.5 283.6h0M2255.5 310h0M2255.8 285.3h0M2256.1 288.3h0M2256.3 424.5h0M2256.6 348.5h0M2256.9 318.7h0M2257.1 307.6h0M2257.4 357.9h0M2257.7 374.1h0M2257.9 333.6h0M2258.2 449.9h0M2258.5 255h0M2258.7 346.5h0M2259 342.6h0M2259.3 376.7h0M2259.5 372.8h0M2259.8 310.4h0M2260.1 388.9h0M2260.3 407.7h0M2260.6 348.3h0M2260.9 376.3h0M2261.1 354.9h0M2261.4 309.9h0M2261.7 318.9h0M2261.9 358.5h0M2262.2 386.3h0M2262.5 364.3h0M2262.7 404h0M2263 398.8h0M2263.3 436.2h0M2263.5 525.2h0M2263.8 470.7h0M2264.1 314h0M2264.3 308.4h0M2264.6 288.8h0M2264.8 302.9h0M2265.1 347.1h0M2265.4 300.4h0M2265.9 293.4h0M2266.2 321.3h0M2266.7 329.4h0M2267 352.3h0M2267.2 358.2h0M2267.5 380.3h0M2267.8 271.1h0M2268 351.6h0M2268.3 410.7h0M2268.6 434.2h0M2268.8 431.7h0M2269.1 382.1h0M2269.4 342.2h0M2269.6 430.6h0M2269.9 444h0M2270.2 386.9h0M2270.4 285.4h0M2270.7 278h0M2271 263.7h0M2271.2 357.3h0M2271.5 343.9h0M2271.8 362.7h0M2272 371.9h0M2272.3 489.8h0M2272.6 356.9h0M2272.8 395.6h0M2273.1 400.9h0M2273.4 328.4h0M2273.6 384.9h0M2273.9 338.4h0M2274.2 479.2h0M2274.4 498.7h0M2274.7 457.9h0M2275 433.3h0M2275.2 385.8h0M2275.5 463.1h0M2275.8 371.5h0M2276 303.3h0M2276.3 435.3h0M2276.6 421.6h0M2276.8 495.9h0M2277.1 467.1h0M2277.4 510.8h0M2277.6 430.6h0M2277.9 442.4h0M2278.2 516.8h0M2278.4 506.4h0M2278.7 443.2h0M2279 460.9h0M2279.2 366.5h0M2279.5 354.3h0M2279.8 383h0M2280 466.1h0M2280.3 482.1h0M2280.6 383.7h0M2280.8 425.4h0M2281.1 336h0M2281.4 424.7h0M2281.6 322.1h0M2281.9 412.1h0M2282.2 456.9h0M2282.4 451h0M2282.7 379.5h0M2283 335.2h0M2283.2 413.6h0M2283.5 477h0M2283.8 426.9h0M2284 433.4h0M2284.3 384.8h0M2284.6 440.5h0M2284.8 426.3h0M2285.1 368.7h0M2285.3 424.7h0M2285.6 404.7h0M2285.9 453.6h0M2286.1 495.4h0M2286.4 443h0M2286.7 516h0M2286.9 444.4h0M2287.2 472.1h0M2287.5 503.3h0M2287.7 541.2h0M2288 397.5h0M2288.3 481.5h0M2288.5 530.6h0M2288.8 544.8h0M2289.1 402.6h0M2289.3 397.7h0M2289.6 429.6h0M2289.9 395.2h0M2290.1 490.9h0M2290.4 445.6h0M2290.7 487.9h0M2290.9 510.6h0M2291.2 431.7h0M2291.5 396.8h0M2291.7 415.4h0M2292 428.6h0M2292.3 487.3h0M2292.5 485.8h0M2292.8 520.2h0M2293.1 428.8h0M2293.6 396.5h0M2293.9 376.1h0M2294.1 418.9h0M2294.4 413.4h0M2294.7 472.3h0M2294.9 550.2h0M2295.2 511h0M2295.5 479.6h0M2295.7 443.7h0M2296 532.9h0M2296.3 510.1h0M2296.5 516.5h0M2296.8 564.4h0M2297.1 558.1h0M2297.3 501.9h0M2297.6 522.6h0M2297.9 549.1h0M2298.1 527.6h0M2298.4 567.5h0M2298.7 516.8h0M2298.9 497.5h0M2299.2 453.9h0M2299.5 505.7h0M2299.7 468.4h0M2300 607.1h0M2300.3 442.8h0M2300.5 451.7h0M2300.8 443.8h0M2301.1 380.9h0M2301.3 486.6h0M2301.6 468.2h0M2301.9 495.3h0M2302.1 412.5h0M2302.4 503.2h0M2302.7 480.6h0M2302.9 499.5h0M2303.2 444.8h0M2303.5 513.3h0M2303.7 542.4h0M2304 501.9h0M2304.3 565.1h0M2304.5 608.6h0M2304.8 610.4h0M2305.1 592.3h0M2305.3 535.8h0M2305.6 571.5h0M2305.9 607.4h0M2306.1 612.1h0M2306.4 603.7h0M2306.6 568.5h0M2306.9 528.6h0M2307.2 556.9h0M2307.4 583.3h0M2307.7 525.9h0M2308 534h0M2308.2 556h0M2308.5 612.3h0M2308.8 543.3h0M2309 557.8h0M2309.3 579.4h0M2309.6 591.6h0M2309.8 480.6h0M2310.1 537.6h0M2310.4 522.2h0M2310.6 453.5h0M2310.9 512.9h0M2311.2 425.8h0M2311.4 494.9h0M2311.7 524.5h0M2312 532.1h0M2312.2 556.7h0M2312.5 462.4h0M2312.8 539.1h0M2313 500h0M2313.3 509.9h0M2313.6 519.2h0M2313.8 558.8h0M2314.1 531.7h0M2314.4 578.2h0M2314.6 536.2h0M2314.9 548.4h0M2315.2 593.3h0M2315.4 559.8h0M2315.7 576.7h0M2316 547h0M2316.2 536.3h0M2316.5 506.4h0M2316.8 517h0M2317 557.6h0M2317.3 535.1h0M2317.6 541.3h0M2317.8 547h0M2318.1 483.9h0M2318.4 479.7h0M2318.6 570.7h0M2318.9 516.4h0M2319.2 429.6h0M2319.4 450.5h0M2319.7 439.6h0M2320 517.5h0M2320.2 523.8h0M2320.5 517.7h0M2320.8 471.2h0M2321 493.9h0M2321.3 483.2h0M2321.6 435h0M2321.8 434.8h0M2322.1 431.3h0M2322.4 513.8h0M2322.6 450.1h0M2322.9 483.3h0M2323.2 449h0M2323.4 417.8h0M2323.7 497.7h0M2324 416.7h0M2324.2 501.3h0M2324.5 476.3h0M2324.8 350.5h0M2325 575.3h0M2325.3 428.2h0M2325.6 413.5h0M2325.8 564h0M2326.1 506.4h0M2326.4 450.5h0M2326.6 478.2h0M2326.9 447.6h0M2327.2 458.6h0M2327.4 536.9h0M2327.7 519.2h0M2327.9 509.2h0M2328.2 542.9h0M2328.5 617.7h0M2328.7 539.9h0M2329 552.4h0M2329.3 476.6h0M2329.5 403.5h0M2329.8 426.8h0M2330.1 443.5h0M2330.3 368.4h0M2330.6 335.3h0M2330.9 373h0M2331.1 422.7h0M2331.4 499.2h0M2331.7 482.9h0M2331.9 474.7h0M2332.2 513.6h0M2332.5 543.8h0M2332.7 521.7h0M2333 517.2h0M2333.3 577h0M2333.5 545.7h0M2333.8 530.5h0M2334.1 435.4h0M2334.3 498.1h0M2334.6 494.6h0M2334.9 599.7h0M2335.1 558.5h0M2335.4 578.8h0M2335.7 591.7h0M2335.9 629.2h0M2336.2 537.5h0M2336.5 471.1h0M2336.7 570.5h0M2337 561.2h0M2337.3 541.1h0M2337.5 435.6h0M2337.8 495.5h0M2338.1 396.9h0M2338.3 471.7h0M2338.6 494h0M2338.9 476.6h0M2339.1 471.2h0M2339.4 548.6h0M2339.7 571.2h0M2339.9 540.9h0M2340.2 615.2h0M2340.5 534.6h0M2340.7 514.7h0M2341 493.3h0M2341.3 501.8h0M2341.5 408.9h0M2341.8 573h0M2342.1 527.5h0M2342.3 521.2h0M2342.6 526.8h0M2342.9 502.9h0M2343.1 535.1h0M2343.4 475.3h0M2343.7 447.3h0M2343.9 524.7h0M2344.2 469.2h0M2344.5 504.9h0M2344.7 494.9h0M2345 488.7h0M2345.3 484.5h0M2345.5 476.7h0M2345.8 471.9h0M2346.1 510.2h0M2346.3 505.5h0M2346.6 490.7h0M2346.9 572.2h0M2347.1 588.6h0M2347.4 569.4h0M2347.7 541.1h0M2347.9 593h0M2348.2 532.3h0M2348.4 540.4h0M2348.7 634.5h0M2349 636h0M2349.5 393.8h0M2349.8 566.9h0M2350 652.2h0M2350.3 610.2h0M2350.6 534.8h0M2350.8 623.9h0M2351.1 611.2h0M2351.4 630.1h0M2351.6 616.6h0M2351.9 584.3h0M2352.2 508.3h0M2352.4 616.5h0M2352.7 590.9h0M2353 513.4h0M2353.2 586.7h0M2353.5 533.2h0M2353.8 517.8h0M2354 484.2h0M2354.3 495.1h0M2354.6 476.1h0M2354.8 502.3h0M2355.1 493.7h0M2355.4 492.8h0M2355.6 447h0M2355.9 484.1h0M2356.2 465.2h0M2356.4 507.5h0M2356.7 533.4h0M2357 526.3h0M2357.2 439.1h0M2357.5 483.2h0M2357.8 436.7h0M2358 452.5h0M2358.3 474.6h0M2358.6 466.4h0M2358.8 420.1h0M2359.1 403.9h0M2359.4 507.7h0M2359.6 525.2h0M2359.9 482.7h0M2360.2 510.1h0M2360.4 509.6h0M2360.7 534.6h0M2361 444.8h0M2361.2 426.4h0M2361.5 576.9h0M2361.8 531.4h0M2362 469h0M2362.3 395.6h0M2362.6 517.4h0M2362.8 428.8h0M2363.1 380.3h0M2363.4 440.8h0M2363.6 491.4h0M2363.9 478.5h0M2364.2 439.9h0M2364.4 419.3h0M2364.7 320.6h0M2365 418.9h0M2365.2 371.4h0M2365.5 383.8h0M2365.8 499.2h0M2366 456.9h0M2366.3 456.7h0M2366.6 453.2h0M2366.8 496.9h0M2367.1 447.8h0M2367.4 444.7h0M2367.6 499.9h0M2367.9 450.1h0M2368.2 401.3h0M2368.4 395.1h0M2368.7 433.6h0M2369 402.1h0M2369.2 448.8h0M2369.5 383.3h0M2369.7 540.5h0M2370 469.6h0M2370.3 468.9h0M2370.5 402.8h0M2370.8 384h0M2371.1 410.9h0M2371.3 435.6h0M2371.6 335.8h0M2371.9 424.7h0M2372.1 392.8h0M2372.4 387.9h0M2372.7 403.2h0M2372.9 398.7h0M2373.2 461h0M2373.5 494.1h0M2373.7 514.1h0M2374 381.2h0M2374.3 341h0M2374.5 378.2h0M2374.8 380.2h0M2375.1 425.5h0M2375.3 452.8h0M2375.6 434.3h0M2375.9 423.6h0M2376.1 480.4h0M2376.4 422h0M2376.7 410.5h0M2376.9 429.8h0M2377.2 445.3h0M2377.5 476h0M2377.7 464.1h0M2378 477.8h0M2378.3 410h0M2378.5 371.5h0M2378.8 390h0M2379.3 340.6h0M2379.6 410.4h0M2379.9 399.8h0M316.4 131.4h0M316.4 169h0M316.4 199.3h0M317.5 227h0M317.5 263h0M360.4 240h0M361.4 247.4h0M575.2 230.7h0M575.2 238.6h0M575.2 245.4h0M575.2 272.5h0M680.9 255.8h0M680.9 263h0M792.2 227h0M792.2 235h0M792.2 242h0M792.2 251.6h0M1175 245.4h0M275.7 259.5h0M294 255.8h0M442 256.9h0M1735.8 192.5h0M1725.4 216h0M1735.8 224.4h0M1700.3 231.8h0M1721.2 234.9h0M1712.8 242.2h0M1807.5 250h0M1735.8 259.5h0M1757.8 259.5h0M1998.3 210.8h0M1985.2 236h0M1998.3 240.1h0M1985.2 263h0M1998.3 268.4h0M2259.7 220.3h0M2374.8 207h0M2374.8 218h0M2374.8 229h0M2374.8 240h0M2374.8 252h0M2374.8 263h0M2374.8 275h0M2374.8 290h0M1526.7 221.8h0M1526.7 237h0M1526.7 249h0M1399.6 254h0M1389 257h0M260 645h0M269.4 658h0M386.5 660.6h0M386.5 684h0M610.3 642h0M610.3 655h0M620.7 671h0M623.4 686.7h0M620.7 699.8h0M748.8 653.8h0M769.7 681.5h0M769.7 689h0M897.8 632h0M897.8 645h0M897.8 658h0M897.8 671h0M1101.8 632h0M1101.8 671h0M1127.9 634h0M1319.6 610h0M1319.6 622h0M1319.6 634h0M1319.6 645h0M1319.6 655h0M1493.8 665.8h0M1595.7 683h0M1582.6 655h0M1595.7 639.7h0M1680.4 657h0M1680.4 683h0M1700 645h0M1865 673.7h0M1977.4 642h0M1977.4 654h0M1977.4 666h0M1977.4 678h0M1977.4 690h0M1977.4 702h0M2097.6 647.5h0M2097.6 660h0M2097.6 673h0M2097.6 687h0M2097.6 702.4h0M2074 673.7h0M2191.8 676h0M2191.8 694.6h0M2191.8 730h0M2322.5 673.7h0M1927.7 651.7h0" stroke="#0a0ae6" stroke-width="8.8" stroke-linecap="round" fill="none"/><path d="M192 372.5 193.2 373.3 194.4 374.9 195.6 377.1 196.9 380 198.1 383.5 199.3 387.5 200.5 392 201.7 396.9 202.9 402.2 204.2 407.8 205.4 413.6 206.6 419.6 207.8 425.7 209 431.9 210.2 438 211.5 444 212.7 449.9 213.9 455.6 215.1 461 216.3 466.2 217.5 471 218.8 475.5 220 479.6 221.2 483.3 222.4 486.6 223.6 489.4 224.8 491.9 226.1 493.9 227.3 495.5 228.5 496.7 229.7 497.5 230.9 497.9 232.1 498 233.4 497.8 234.6 497.3 235.8 496.6 237 495.7 238.2 494.6 239.4 493.5 240.6 492.2 241.9 491 243.1 489.7 244.3 488.6 245.5 487.5 246.7 486.6 247.9 485.8 249.2 485.3 250.4 485 251.6 484.9 252.8 485.1 254 485.5 255.2 486.2 256.5 487.2 257.7 488.4 258.9 489.8 260.1 491.5 261.3 493.3 262.5 495.2 263.8 497.2 265 499.2 266.2 501.2 267.4 503.1 268.6 504.9 269.8 506.4 271.1 507.7 272.3 508.7 273.5 509.3 274.7 509.5 275.9 509.3 277.1 508.5 278.4 507.2 279.6 505.3 280.8 502.8 282 499.8 283.2 496.1 284.4 492 285.6 487.2 286.9 482 288.1 476.3 289.3 470.2 290.5 463.8 291.7 457 292.9 450.1 294.2 443 295.4 435.8 296.6 428.7 297.8 421.7 299 414.9 300.2 408.4 301.5 402.2 302.7 396.4 303.9 391.2 305.1 386.5 306.3 382.4 307.5 379 308.8 376.2 310 374.2 311.2 372.9 312.4 372.3 313.6 372.5 314.8 373.4 316.1 375 317.3 377.3 318.5 380.2 319.7 383.7 320.9 387.7 322.1 392.2 323.4 397.2 324.6 402.5 325.8 408.1 327 414 328.2 420 329.4 426.1 330.7 432.2 331.9 438.3 333.1 444.3 334.3 450.2 335.5 455.9 336.7 461.3 337.9 466.5 339.2 471.3 340.4 475.7 341.6 479.8 342.8 483.5 344 486.8 345.2 489.6 346.5 492 347.7 494 348.9 495.6 350.1 496.7 351.3 497.5 352.5 497.9 353.8 498 355 497.8 356.2 497.3 357.4 496.5 358.6 495.6 359.8 494.6 361.1 493.4 362.3 492.2 363.5 490.9 364.7 489.7 365.9 488.5 367.1 487.4 368.4 486.5 369.6 485.8 370.8 485.3 372 484.9 373.2 484.9 374.4 485.1 375.7 485.5 376.9 486.3 378.1 487.2 379.3 488.5 380.5 489.9 381.7 491.6 382.9 493.4 384.2 495.3 385.4 497.3 386.6 499.3 387.8 501.3 389 503.2 390.2 505 391.5 506.5 392.7 507.8 393.9 508.8 395.1 509.4 396.3 509.5 397.5 509.2 398.8 508.4 400 507.1 401.2 505.1 402.4 502.7 403.6 499.6 404.8 495.9 406.1 491.7 407.3 487 408.5 481.7 409.7 476 410.9 469.9 412.1 463.4 413.4 456.6 414.6 449.7 415.8 442.6 417 435.4 418.2 428.3 419.4 421.3 420.7 414.5 421.9 408 423.1 401.9 424.3 396.1 425.5 390.9 426.7 386.2 427.9 382.2 429.2 378.8 430.4 376.1 431.6 374.1 432.8 372.8 434 372.3 435.2 372.5 436.5 373.5 437.7 375.1 438.9 377.4 440.1 380.3 441.3 383.9 442.5 387.9 443.8 392.5 445 397.5 446.2 402.8 447.4 408.4 448.6 414.3 449.8 420.3 451.1 426.4 452.3 432.5 453.5 438.6 454.7 444.7 455.9 450.5 457.1 456.2 458.4 461.6 459.6 466.7 460.8 471.5 462 476 463.2 480 464.4 483.7 465.7 486.9 466.9 489.7 468.1 492.1 469.3 494.1 470.5 495.6 471.7 496.8 472.9 497.5 474.2 497.9 475.4 498 476.6 497.7 477.8 497.2 479 496.5 480.2 495.6 481.5 494.5 482.7 493.3 483.9 492.1 485.1 490.8 486.3 489.6 487.5 488.4 488.8 487.4 490 486.5 491.2 485.8 492.4 485.2 493.6 484.9 494.8 484.9 496.1 485.1 497.3 485.6 498.5 486.3 499.7 487.3 500.9 488.5 502.1 490 503.4 491.6 504.6 493.5 505.8 495.4 507 497.4 508.2 499.4 509.4 501.4 510.7 503.3 511.9 505 513.1 506.6 514.3 507.9 515.5 508.8 516.7 509.4 517.9 509.5 519.2 509.2 520.4 508.4 521.6 507 522.8 505 524 502.5 525.2 499.4 526.5 495.7 527.7 491.5 528.9 486.7 530.1 481.4 531.3 475.7 532.5 469.5 533.8 463 535 456.2 536.2 449.3 537.4 442.2 538.6 435 539.8 427.9 541.1 420.9 542.3 414.2 543.5 407.7 544.7 401.5 545.9 395.8 547.1 390.6 548.4 386 549.6 382 550.8 378.6 552 375.9 553.2 374 554.4 372.8 555.7 372.3 556.9 372.6 558.1 373.5 559.3 375.2 560.5 377.6 561.7 380.5 563 384.1 564.2 388.2 565.4 392.8 566.6 397.8 567.8 403.1 569 408.8 570.2 414.6 571.5 420.6 572.7 426.7 573.9 432.9 575.1 439 576.3 445 577.5 450.8 578.8 456.5 580 461.9 581.2 467 582.4 471.8 583.6 476.2 584.8 480.2 586.1 483.9 587.3 487.1 588.5 489.9 589.7 492.2 590.9 494.2 592.1 495.7 593.4 496.8 594.6 497.6 595.8 497.9 597 498 598.2 497.7 599.4 497.2 600.7 496.5 601.9 495.5 603.1 494.4 604.3 493.3 605.5 492 606.7 490.8 608 489.5 609.2 488.4 610.4 487.3 611.6 486.4 612.8 485.7 614 485.2 615.2 484.9 616.5 484.9 617.7 485.1 618.9 485.6 620.1 486.3 621.3 487.4 622.5 488.6 623.8 490.1 625 491.7 626.2 493.6 627.4 495.5 628.6 497.5 629.8 499.5 631.1 501.5 632.3 503.4 633.5 505.1 634.7 506.7 635.9 507.9 637.1 508.9 638.4 509.4 639.6 509.5 640.8 509.2 642 508.3 643.2 506.9 644.4 504.9 645.7 502.3 646.9 499.2 648.1 495.5 649.3 491.2 650.5 486.4 651.7 481.1 653 475.3 654.2 469.2 655.4 462.6 656.6 455.9 657.8 448.9 659 441.8 660.2 434.6 661.5 427.5 662.7 420.6 663.9 413.8 665.1 407.3 666.3 401.2 667.5 395.5 668.8 390.4 670 385.8 671.2 381.8 672.4 378.5 673.6 375.8 674.8 373.9 676.1 372.7 677.3 372.3 678.5 372.6 679.7 373.6 680.9 375.3 682.1 377.7 683.4 380.7 684.6 384.3 685.8 388.4 687 393 688.2 398 689.4 403.4 690.7 409.1 691.9 414.9 693.1 421 694.3 427.1 695.5 433.2 696.7 439.3 698 445.3 699.2 451.2 700.4 456.8 701.6 462.2 702.8 467.3 704 472 705.2 476.4 706.5 480.5 707.7 484.1 708.9 487.3 710.1 490 711.3 492.4 712.5 494.3 713.8 495.8 715 496.9 716.2 497.6 717.4 497.9 718.6 498 719.8 497.7 721.1 497.2 722.3 496.4 723.5 495.5 724.7 494.4 725.9 493.2 727.1 491.9 728.4 490.7 729.6 489.5 730.8 488.3 732 487.3 733.2 486.4 734.4 485.7 735.7 485.2 736.9 484.9 738.1 484.9 739.3 485.1 740.5 485.6 741.7 486.4 743 487.4 744.2 488.7 745.4 490.2 746.6 491.8 747.8 493.7 749 495.6 750.3 497.6 751.5 499.6 752.7 501.6 753.9 503.5 755.1 505.2 756.3 506.7 757.5 508 758.8 508.9 760 509.4 761.2 509.5 762.4 509.1 763.6 508.2 764.8 506.8 766.1 504.8 767.3 502.2 768.5 499 769.7 495.3 770.9 491 772.1 486.1 773.4 480.8 774.6 475 775.8 468.8 777 462.3 778.2 455.5 779.4 448.5 780.7 441.4 781.9 434.2 783.1 427.1 784.3 420.2 785.5 413.4 786.7 407 788 400.9 789.2 395.2 790.4 390.1 791.6 385.5 792.8 381.6 794 378.3 795.3 375.7 796.5 373.8 797.7 372.7 798.9 372.3 800.1 372.6 801.3 373.7 802.5 375.4 803.8 377.9 805 380.9 806.2 384.5 807.4 388.7 808.6 393.3 809.8 398.3 811.1 403.7 812.3 409.4 813.5 415.3 814.7 421.3 815.9 427.4 817.1 433.6 818.4 439.7 819.6 445.6 820.8 451.5 822 457.1 823.2 462.5 824.4 467.6 825.7 472.3 826.9 476.7 828.1 480.7 829.3 484.3 830.5 487.4 831.7 490.2 833 492.5 834.2 494.4 835.4 495.8 836.6 496.9 837.8 497.6 839 498 840.3 498 841.5 497.7 842.7 497.1 843.9 496.4 845.1 495.4 846.3 494.3 847.5 493.1 848.8 491.9 850 490.6 851.2 489.4 852.4 488.3 853.6 487.2 854.8 486.4 856.1 485.7 857.3 485.2 858.5 484.9 859.7 484.9 860.9 485.1 862.1 485.7 863.4 486.4 864.6 487.5 865.8 488.8 867 490.3 868.2 491.9 869.4 493.8 870.7 495.7 871.9 497.7 873.1 499.7 874.3 501.7 875.5 503.6 876.7 505.3 878 506.8 879.2 508 880.4 508.9 881.6 509.4 882.8 509.5 884 509.1 885.3 508.2 886.5 506.7 887.7 504.6 888.9 502 890.1 498.8 891.3 495 892.5 490.7 893.8 485.8 895 480.5 896.2 474.7 897.4 468.4 898.6 461.9 899.8 455.1 901.1 448.1 902.3 441 903.5 433.8 904.7 426.7 905.9 419.8 907.1 413.1 908.4 406.6 909.6 400.5 910.8 394.9 912 389.8 913.2 385.3 914.4 381.4 915.7 378.1 916.9 375.6 918.1 373.7 919.3 372.6 920.5 372.3 921.7 372.7 923 373.8 924.2 375.6 925.4 378 926.6 381.1 927.8 384.7 929 388.9 930.3 393.6 931.5 398.6 932.7 404 933.9 409.7 935.1 415.6 936.3 421.6 937.5 427.8 938.8 433.9 940 440 941.2 446 942.4 451.8 943.6 457.4 944.8 462.8 946.1 467.8 947.3 472.6 948.5 476.9 949.7 480.9 950.9 484.4 952.1 487.6 953.4 490.3 954.6 492.6 955.8 494.5 957 495.9 958.2 497 959.4 497.6 960.7 498 961.9 498 963.1 497.7 964.3 497.1 965.5 496.3 966.7 495.3 968 494.2 969.2 493.1 970.4 491.8 971.6 490.6 972.8 489.3 974 488.2 975.3 487.2 976.5 486.3 977.7 485.6 978.9 485.1 980.1 484.9 981.3 484.9 982.6 485.2 983.8 485.7 985 486.5 986.2 487.6 987.4 488.8 988.6 490.3 989.8 492 991.1 493.9 992.3 495.8 993.5 497.8 994.7 499.9 995.9 501.8 997.1 503.7 998.4 505.4 999.6 506.9 1000.8 508.1 1002 509 1003.2 509.5 1004.4 509.5 1005.7 509.1 1006.9 508.1 1008.1 506.6 1009.3 504.5 1010.5 501.9 1011.7 498.6 1013 494.8 1014.2 490.4 1015.4 485.5 1016.6 480.2 1017.8 474.3 1019 468.1 1020.3 461.5 1021.5 454.7 1022.7 447.7 1023.9 440.6 1025.1 433.4 1026.3 426.4 1027.6 419.4 1028.8 412.7 1030 406.3 1031.2 400.2 1032.4 394.6 1033.6 389.6 1034.8 385.1 1036.1 381.2 1037.3 378 1038.5 375.5 1039.7 373.7 1040.9 372.6 1042.1 372.3 1043.4 372.7 1044.6 373.8 1045.8 375.7 1047 378.2 1048.2 381.3 1049.4 385 1050.7 389.2 1051.9 393.8 1053.1 398.9 1054.3 404.3 1055.5 410 1056.7 415.9 1058 422 1059.2 428.1 1060.4 434.2 1061.6 440.3 1062.8 446.3 1064 452.1 1065.3 457.7 1066.5 463.1 1067.7 468.1 1068.9 472.8 1070.1 477.1 1071.3 481.1 1072.6 484.6 1073.8 487.7 1075 490.4 1076.2 492.7 1077.4 494.6 1078.6 496 1079.8 497 1081.1 497.7 1082.3 498 1083.5 497.9 1084.7 497.6 1085.9 497.1 1087.1 496.3 1088.4 495.3 1089.6 494.2 1090.8 493 1092 491.7 1093.2 490.5 1094.4 489.3 1095.7 488.1 1096.9 487.1 1098.1 486.3 1099.3 485.6 1100.5 485.1 1101.7 484.9 1103 484.9 1104.2 485.2 1105.4 485.7 1106.6 486.6 1107.8 487.6 1109 488.9 1110.3 490.4 1111.5 492.1 1112.7 494 1113.9 495.9 1115.1 498 1116.3 500 1117.6 501.9 1118.8 503.8 1120 505.5 1121.2 507 1122.4 508.2 1123.6 509 1124.8 509.5 1126.1 509.5 1127.3 509 1128.5 508 1129.7 506.5 1130.9 504.4 1132.1 501.7 1133.4 498.4 1134.6 494.6 1135.8 490.2 1137 485.3 1138.2 479.8 1139.4 474 1140.7 467.7 1141.9 461.2 1143.1 454.3 1144.3 447.3 1145.5 440.2 1146.7 433 1148 426 1149.2 419 1150.4 412.3 1151.6 405.9 1152.8 399.9 1154 394.3 1155.3 389.3 1156.5 384.8 1157.7 381 1158.9 377.8 1160.1 375.3 1161.3 373.6 1162.6 372.6 1163.8 372.3 1165 372.8 1166.2 373.9 1167.4 375.8 1168.6 378.3 1169.8 381.5 1171.1 385.2 1172.3 389.4 1173.5 394.1 1174.7 399.2 1175.9 404.7 1177.1 410.4 1178.4 416.3 1179.6 422.3 1180.8 428.5 1182 434.6 1183.2 440.7 1184.4 446.6 1185.7 452.4 1186.9 458 1188.1 463.3 1189.3 468.4 1190.5 473.1 1191.7 477.4 1193 481.3 1194.2 484.8 1195.4 487.9 1196.6 490.6 1197.8 492.8 1199 494.6 1200.3 496 1201.5 497.1 1202.7 497.7 1203.9 498 1205.1 497.9 1206.3 497.6 1207.6 497 1208.8 496.2 1210 495.2 1211.2 494.1 1212.4 492.9 1213.6 491.7 1214.9 490.4 1216.1 489.2 1217.3 488.1 1218.5 487.1 1219.7 486.2 1220.9 485.6 1222.1 485.1 1223.4 484.9 1224.6 484.9 1225.8 485.2 1227 485.8 1228.2 486.6 1229.4 487.7 1230.7 489 1231.9 490.5 1233.1 492.2 1234.3 494.1 1235.5 496.1 1236.7 498.1 1238 500.1 1239.2 502 1240.4 503.9 1241.6 505.6 1242.8 507 1244 508.2 1245.3 509 1246.5 509.5 1247.7 509.5 1248.9 509 1250.1 508 1251.3 506.4 1252.6 504.2 1253.8 501.5 1255 498.2 1256.2 494.4 1257.4 489.9 1258.6 485 1259.9 479.5 1261.1 473.6 1262.3 467.4 1263.5 460.8 1264.7 453.9 1265.9 446.9 1267.1 439.8 1268.4 432.7 1269.6 425.6 1270.8 418.6 1272 412 1273.2 405.6 1274.4 399.6 1275.7 394 1276.9 389 1278.1 384.6 1279.3 380.8 1280.5 377.7 1281.7 375.2 1283 373.5 1284.2 372.5 1285.4 372.3 1286.6 372.8 1287.8 374 1289 375.9 1290.3 378.5 1291.5 381.7 1292.7 385.4 1293.9 389.7 1295.1 394.4 1296.3 399.5 1297.6 405 1298.8 410.7 1300 416.6 1301.2 422.7 1302.4 428.8 1303.6 434.9 1304.9 441 1306.1 447 1307.3 452.8 1308.5 458.3 1309.7 463.6 1310.9 468.6 1312.1 473.3 1313.4 477.6 1314.6 481.5 1315.8 485 1317 488.1 1318.2 490.7 1319.4 492.9 1320.7 494.7 1321.9 496.1 1323.1 497.1 1324.3 497.7 1325.5 498 1326.7 497.9 1328 497.6 1329.2 497 1330.4 496.2 1331.6 495.2 1332.8 494.1 1334 492.8 1335.3 491.6 1336.5 490.4 1337.7 489.1 1338.9 488 1340.1 487 1341.3 486.2 1342.6 485.5 1343.8 485.1 1345 484.9 1346.2 484.9 1347.4 485.2 1348.6 485.8 1349.9 486.7 1351.1 487.8 1352.3 489.1 1353.5 490.6 1354.7 492.3 1355.9 494.2 1357.1 496.2 1358.4 498.2 1359.6 500.2 1360.8 502.2 1362 504 1363.2 505.7 1364.4 507.1 1365.7 508.3 1366.9 509.1 1368.1 509.5 1369.3 509.5 1370.5 508.9 1371.7 507.9 1373 506.3 1374.2 504.1 1375.4 501.4 1376.6 498 1377.8 494.1 1379 489.7 1380.3 484.7 1381.5 479.2 1382.7 473.3 1383.9 467 1385.1 460.4 1386.3 453.6 1387.6 446.5 1388.8 439.4 1390 432.3 1391.2 425.2 1392.4 418.3 1393.6 411.6 1394.9 405.2 1396.1 399.3 1397.3 393.7 1398.5 388.8 1399.7 384.4 1400.9 380.6 1402.2 377.5 1403.4 375.1 1404.6 373.4 1405.8 372.5 1407 372.3 1408.2 372.9 1409.4 374.1 1410.7 376 1411.9 378.6 1413.1 381.8 1414.3 385.6 1415.5 389.9 1416.7 394.7 1418 399.8 1419.2 405.3 1420.4 411 1421.6 416.9 1422.8 423 1424 429.1 1425.3 435.3 1426.5 441.3 1427.7 447.3 1428.9 453.1 1430.1 458.6 1431.3 463.9 1432.6 468.9 1433.8 473.6 1435 477.8 1436.2 481.7 1437.4 485.2 1438.6 488.2 1439.9 490.9 1441.1 493 1442.3 494.8 1443.5 496.2 1444.7 497.1 1445.9 497.7 1447.2 498 1448.4 497.9 1449.6 497.5 1450.8 496.9 1452 496.1 1453.2 495.1 1454.4 494 1455.7 492.8 1456.9 491.5 1458.1 490.3 1459.3 489.1 1460.5 488 1461.7 487 1463 486.1 1464.2 485.5 1465.4 485.1 1466.6 484.9 1467.8 484.9 1469 485.3 1470.3 485.9 1471.5 486.7 1472.7 487.8 1473.9 489.2 1475.1 490.7 1476.3 492.4 1477.6 494.3 1478.8 496.3 1480 498.3 1481.2 500.3 1482.4 502.3 1483.6 504.1 1484.9 505.8 1486.1 507.2 1487.3 508.3 1488.5 509.1 1489.7 509.5 1490.9 509.4 1492.2 508.9 1493.4 507.8 1494.6 506.2 1495.8 504 1497 501.2 1498.2 497.8 1499.4 493.9 1500.7 489.4 1501.9 484.4 1503.1 478.9 1504.3 473 1505.5 466.7 1506.7 460 1508 453.2 1509.2 446.1 1510.4 439 1511.6 431.9 1512.8 424.8 1514 417.9 1515.3 411.2 1516.5 404.9 1517.7 398.9 1518.9 393.5 1520.1 388.5 1521.3 384.1 1522.6 380.4 1523.8 377.3 1525 375 1526.2 373.4 1527.4 372.5 1528.6 372.3 1529.9 372.9 1531.1 374.2 1532.3 376.2 1533.5 378.8 1534.7 382 1535.9 385.8 1537.2 390.2 1538.4 394.9 1539.6 400.1 1540.8 405.6 1542 411.3 1543.2 417.3 1544.4 423.3 1545.7 429.5 1546.9 435.6 1548.1 441.7 1549.3 447.6 1550.5 453.4 1551.7 458.9 1553 464.2 1554.2 469.2 1555.4 473.8 1556.6 478.1 1557.8 481.9 1559 485.4 1560.3 488.4 1561.5 491 1562.7 493.2 1563.9 494.9 1565.1 496.2 1566.3 497.2 1567.6 497.8 1568.8 498 1570 497.9 1571.2 497.5 1572.4 496.9 1573.6 496.1 1574.9 495.1 1576.1 493.9 1577.3 492.7 1578.5 491.5 1579.7 490.2 1580.9 489 1582.2 487.9 1583.4 486.9 1584.6 486.1 1585.8 485.5 1587 485 1588.2 484.9 1589.4 485 1590.7 485.3 1591.9 485.9 1593.1 486.8 1594.3 487.9 1595.5 489.2 1596.7 490.8 1598 492.5 1599.2 494.4 1600.4 496.4 1601.6 498.4 1602.8 500.4 1604 502.4 1605.3 504.2 1606.5 505.8 1607.7 507.3 1608.9 508.4 1610.1 509.1 1611.3 509.5 1612.6 509.4 1613.8 508.8 1615 507.7 1616.2 506.1 1617.4 503.8 1618.6 501 1619.9 497.6 1621.1 493.7 1622.3 489.1 1623.5 484.1 1624.7 478.6 1625.9 472.6 1627.2 466.3 1628.4 459.7 1629.6 452.8 1630.8 445.7 1632 438.6 1633.2 431.5 1634.5 424.4 1635.7 417.5 1636.9 410.9 1638.1 404.5 1639.3 398.6 1640.5 393.2 1641.7 388.2 1643 383.9 1644.2 380.2 1645.4 377.2 1646.6 374.9 1647.8 373.3 1649 372.4 1650.3 372.3 1651.5 373 1652.7 374.3 1653.9 376.3 1655.1 379 1656.3 382.2 1657.6 386.1 1658.8 390.4 1660 395.2 1661.2 400.4 1662.4 405.9 1663.6 411.7 1664.9 417.6 1666.1 423.7 1667.3 429.8 1668.5 435.9 1669.7 442 1670.9 447.9 1672.2 453.7 1673.4 459.2 1674.6 464.5 1675.8 469.4 1677 474 1678.2 478.3 1679.5 482.1 1680.7 485.5 1681.9 488.5 1683.1 491.1 1684.3 493.3 1685.5 495 1686.7 496.3 1688 497.2 1689.2 497.8 1690.4 498 1691.6 497.9 1692.8 497.5 1694 496.9 1695.3 496 1696.5 495 1697.7 493.9 1698.9 492.6 1700.1 491.4 1701.3 490.1 1702.6 489 1703.8 487.8 1705 486.9 1706.2 486.1 1707.4 485.4 1708.6 485 1709.9 484.9 1711.1 485 1712.3 485.3 1713.5 485.9 1714.7 486.8 1715.9 488 1717.2 489.3 1718.4 490.9 1719.6 492.6 1720.8 494.5 1722 496.5 1723.2 498.5 1724.5 500.5 1725.7 502.5 1726.9 504.3 1728.1 505.9 1729.3 507.3 1730.5 508.4 1731.7 509.2 1733 509.5 1734.2 509.4 1735.4 508.8 1736.6 507.7 1737.8 506 1739 503.7 1740.3 500.8 1741.5 497.4 1742.7 493.4 1743.9 488.9 1745.1 483.8 1746.3 478.3 1747.6 472.3 1748.8 465.9 1750 459.3 1751.2 452.4 1752.4 445.3 1753.6 438.2 1754.9 431.1 1756.1 424 1757.3 417.1 1758.5 410.5 1759.7 404.2 1760.9 398.3 1762.2 392.9 1763.4 388 1764.6 383.7 1765.8 380 1767 377 1768.2 374.8 1769.5 373.2 1770.7 372.4 1771.9 372.4 1773.1 373 1774.3 374.4 1775.5 376.4 1776.7 379.1 1778 382.4 1779.2 386.3 1780.4 390.7 1781.6 395.5 1782.8 400.7 1784 406.2 1785.3 412 1786.5 417.9 1787.7 424 1788.9 430.2 1790.1 436.3 1791.3 442.3 1792.6 448.3 1793.8 454 1795 459.5 1796.2 464.8 1797.4 469.7 1798.6 474.3 1799.9 478.5 1801.1 482.3 1802.3 485.7 1803.5 488.7 1804.7 491.2 1805.9 493.4 1807.2 495.1 1808.4 496.4 1809.6 497.3 1810.8 497.8 1812 498 1813.2 497.9 1814.5 497.5 1815.7 496.8 1816.9 496 1818.1 494.9 1819.3 493.8 1820.5 492.6 1821.7 491.3 1823 490.1 1824.2 488.9 1825.4 487.8 1826.6 486.8 1827.8 486 1829 485.4 1830.3 485 1831.5 484.9 1832.7 485 1833.9 485.3 1835.1 486 1836.3 486.9 1837.6 488 1838.8 489.4 1840 491 1841.2 492.7 1842.4 494.6 1843.6 496.6 1844.9 498.6 1846.1 500.6 1847.3 502.6 1848.5 504.4 1849.7 506 1850.9 507.4 1852.2 508.5 1853.4 509.2 1854.6 509.5 1855.8 509.4 1857 508.7 1858.2 507.6 1859.5 505.8 1860.7 503.5 1861.9 500.7 1863.1 497.2 1864.3 493.2 1865.5 488.6 1866.8 483.5 1868 477.9 1869.2 471.9 1870.4 465.6 1871.6 458.9 1872.8 452 1874 444.9 1875.3 437.8 1876.5 430.7 1877.7 423.6 1878.9 416.8 1880.1 410.1 1881.3 403.9 1882.6 398 1883.8 392.6 1885 387.7 1886.2 383.5 1887.4 379.8 1888.6 376.9 1889.9 374.7 1891.1 373.2 1892.3 372.4 1893.5 372.4 1894.7 373.1 1895.9 374.5 1897.2 376.6 1898.4 379.3 1899.6 382.6 1900.8 386.5 1902 390.9 1903.2 395.8 1904.5 401 1905.7 406.5 1906.9 412.3 1908.1 418.3 1909.3 424.4 1910.5 430.5 1911.8 436.6 1913 442.7 1914.2 448.6 1915.4 454.3 1916.6 459.8 1917.8 465.1 1919 470 1920.3 474.5 1921.5 478.7 1922.7 482.5 1923.9 485.9 1925.1 488.8 1926.3 491.4 1927.6 493.5 1928.8 495.2 1930 496.4 1931.2 497.3 1932.4 497.8 1933.6 498 1934.9 497.9 1936.1 497.4 1937.3 496.8 1938.5 495.9 1939.7 494.9 1940.9 493.7 1942.2 492.5 1943.4 491.3 1944.6 490 1945.8 488.8 1947 487.7 1948.2 486.8 1949.5 486 1950.7 485.4 1951.9 485 1953.1 484.9 1954.3 485 1955.5 485.4 1956.8 486 1958 486.9 1959.2 488.1 1960.4 489.5 1961.6 491.1 1962.8 492.8 1964 494.7 1965.3 496.7 1966.5 498.7 1967.7 500.7 1968.9 502.7 1970.1 504.5 1971.3 506.1 1972.6 507.5 1973.8 508.5 1975 509.2 1976.2 509.5 1977.4 509.4 1978.6 508.7 1979.9 507.5 1981.1 505.7 1982.3 503.4 1983.5 500.5 1984.7 497 1985.9 492.9 1987.2 488.3 1988.4 483.2 1989.6 477.6 1990.8 471.6 1992 465.2 1993.2 458.5 1994.5 451.6 1995.7 444.5 1996.9 437.4 1998.1 430.3 1999.3 423.2 2000.5 416.4 2001.8 409.8 2003 403.5 2004.2 397.7 2005.4 392.3 2006.6 387.5 2007.8 383.2 2009 379.7 2010.3 376.8 2011.5 374.6 2012.7 373.1 2013.9 372.4 2015.1 372.4 2016.3 373.1 2017.6 374.6 2018.8 376.7 2020 379.5 2021.2 382.8 2022.4 386.8 2023.6 391.2 2024.9 396.1 2026.1 401.3 2027.3 406.8 2028.5 412.6 2029.7 418.6 2030.9 424.7 2032.2 430.8 2033.4 437 2034.6 443 2035.8 448.9 2037 454.6 2038.2 460.1 2039.5 465.3 2040.7 470.2 2041.9 474.8 2043.1 478.9 2044.3 482.7 2045.5 486.1 2046.8 489 2048 491.5 2049.2 493.6 2050.4 495.2 2051.6 496.5 2052.8 497.3 2054.1 497.8 2055.3 498 2056.5 497.8 2057.7 497.4 2058.9 496.7 2060.1 495.8 2061.3 494.8 2062.6 493.7 2063.8 492.4 2065 491.2 2066.2 489.9 2067.4 488.8 2068.6 487.7 2069.9 486.7 2071.1 485.9 2072.3 485.4 2073.5 485 2074.7 484.9 2075.9 485 2077.2 485.4 2078.4 486.1 2079.6 487 2080.8 488.2 2082 489.6 2083.2 491.2 2084.5 492.9 2085.7 494.8 2086.9 496.8 2088.1 498.9 2089.3 500.9 2090.5 502.8 2091.8 504.6 2093 506.2 2094.2 507.5 2095.4 508.6 2096.6 509.3 2097.8 509.5 2099.1 509.3 2100.3 508.6 2101.5 507.4 2102.7 505.6 2103.9 503.3 2105.1 500.3 2106.3 496.8 2107.6 492.7 2108.8 488.1 2110 482.9 2111.2 477.3 2112.4 471.3 2113.6 464.8 2114.9 458.2 2116.1 451.2 2117.3 444.2 2118.5 437 2119.7 429.9 2120.9 422.9 2122.2 416 2123.4 409.4 2124.6 403.2 2125.8 397.4 2127 392 2128.2 387.2 2129.5 383 2130.7 379.5 2131.9 376.6 2133.1 374.5 2134.3 373 2135.5 372.4 2136.8 372.4 2138 373.2 2139.2 374.7 2140.4 376.8 2141.6 379.6 2142.8 383 2144.1 387 2145.3 391.4 2146.5 396.3 2147.7 401.6 2148.9 407.2 2150.1 413 2151.3 419 2152.6 425 2153.8 431.2 2155 437.3 2156.2 443.3 2157.4 449.2 2158.6 454.9 2159.9 460.4 2161.1 465.6 2162.3 470.5 2163.5 475 2164.7 479.2 2165.9 482.9 2167.2 486.2 2168.4 489.2 2169.6 491.6 2170.8 493.7 2172 495.3 2173.2 496.5 2174.5 497.4 2175.7 497.9 2176.9 498 2178.1 497.8 2179.3 497.4 2180.5 496.7 2181.8 495.8 2183 494.8 2184.2 493.6 2185.4 492.4 2186.6 491.1 2187.8 489.9 2189.1 488.7 2190.3 487.6 2191.5 486.7 2192.7 485.9 2193.9 485.3 2195.1 485 2196.3 484.9 2197.6 485 2198.8 485.4 2200 486.1 2201.2 487.1 2202.4 488.2 2203.6 489.7 2204.9 491.3 2206.1 493 2207.3 495 2208.5 496.9 2209.7 499 2210.9 501 2212.2 502.9 2213.4 504.7 2214.6 506.3 2215.8 507.6 2217 508.6 2218.2 509.3 2219.5 509.5 2220.7 509.3 2221.9 508.6 2223.1 507.3 2224.3 505.5 2225.5 503.1 2226.8 500.1 2228 496.6 2229.2 492.5 2230.4 487.8 2231.6 482.6 2232.8 477 2234.1 470.9 2235.3 464.5 2236.5 457.8 2237.7 450.8 2238.9 443.8 2240.1 436.6 2241.3 429.5 2242.6 422.5 2243.8 415.6 2245 409.1 2246.2 402.9 2247.4 397.1 2248.6 391.7 2249.9 387 2251.1 382.8 2252.3 379.3 2253.5 376.5 2254.7 374.4 2255.9 373 2257.2 372.3 2258.4 372.4 2259.6 373.3 2260.8 374.8 2262 377 2263.2 379.8 2264.5 383.3 2265.7 387.2 2266.9 391.7 2268.1 396.6 2269.3 401.9 2270.5 407.5 2271.8 413.3 2273 419.3 2274.2 425.4 2275.4 431.5 2276.6 437.6 2277.8 443.7 2279.1 449.6 2280.3 455.3 2281.5 460.7 2282.7 465.9 2283.9 470.8 2285.1 475.3 2286.4 479.4 2287.6 483.1 2288.8 486.4 2290 489.3 2291.2 491.8 2292.4 493.8 2293.6 495.4 2294.9 496.6 2296.1 497.4 2297.3 497.9 2298.5 498 2299.7 497.8 2300.9 497.3 2302.2 496.6 2303.4 495.7 2304.6 494.7 2305.8 493.5 2307 492.3 2308.2 491 2309.5 489.8 2310.7 488.6 2311.9 487.6 2313.1 486.6 2314.3 485.9 2315.5 485.3 2316.8 485 2318 484.9 2319.2 485 2320.4 485.5 2321.6 486.2 2322.8 487.1 2324.1 488.3 2325.3 489.7 2326.5 491.4 2327.7 493.1 2328.9 495.1 2330.1 497.1 2331.4 499.1 2332.6 501.1 2333.8 503 2335 504.8 2336.2 506.3 2337.4 507.7 2338.6 508.7 2339.9 509.3 2341.1 509.5 2342.3 509.3 2343.5 508.5 2344.7 507.2 2345.9 505.4 2347.2 503 2348.4 499.9 2349.6 496.4 2350.8 492.2 2352 487.5 2353.2 482.3 2354.5 476.6 2355.7 470.6 2356.9 464.1 2358.1 457.4 2359.3 450.4 2360.5 443.4 2361.8 436.2 2363 429.1 2364.2 422.1 2365.4 415.3 2366.6 408.7 2367.8 402.5 2369.1 396.7 2370.3 391.5 2371.5 386.7 2372.7 382.6 2373.9 379.1 2375.1 376.3 2376.4 374.3 2377.6 372.9 2378.8 372.3 2380 372.5" stroke="#dc1c1c" stroke-width="6.4" fill="none" stroke-linejoin="round"/><g font-family="'Liberation Sans', Arial, Helvetica, sans-serif" fill="#383838" font-size="48"><text x="174" y="101.5" text-anchor="end">-0.4</text><text x="174" y="290.5" text-anchor="end">-0.6</text><text x="174" y="479.5" text-anchor="end">-0.8</text><text x="174" y="668.5" text-anchor="end">-1</text><text x="174" y="857.5" text-anchor="end">-1.2</text><text x="313.6" y="905.5" text-anchor="middle">2001</text><text x="556.7" y="905.5" text-anchor="middle">2003</text><text x="799.8" y="905.5" text-anchor="middle">2005</text><text x="1042.9" y="905.5" text-anchor="middle">2007</text><text x="1286" y="905.5" text-anchor="middle">2009</text><text x="1529.1" y="905.5" text-anchor="middle">2011</text><text x="1772.2" y="905.5" text-anchor="middle">2013</text><text x="2015.3" y="905.5" text-anchor="middle">2015</text><text x="2258.4" y="905.5" text-anchor="middle">2017</text><text x="174" y="1909.5" text-anchor="end">0</text><text x="174" y="1720.2" text-anchor="end">100</text><text x="174" y="1531" text-anchor="end">200</text><text x="174" y="1341.8" text-anchor="end">300</text><text x="174" y="1152.5" text-anchor="end">400</text><text x="408.8" y="1956.5" text-anchor="middle">100</text><text x="627.8" y="1956.5" text-anchor="middle">200</text><text x="846.9" y="1956.5" text-anchor="middle">300</text><text x="1065.9" y="1956.5" text-anchor="middle">400</text><text x="1284.9" y="1956.5" text-anchor="middle">500</text><text x="1503.9" y="1956.5" text-anchor="middle">600</text><text x="1722.9" y="1956.5" text-anchor="middle">700</text><text x="1942" y="1956.5" text-anchor="middle">800</text><text x="2161" y="1956.5" text-anchor="middle">900</text><text x="2380" y="1956.5" text-anchor="middle">1000</text></g><g font-family="'Liberation Sans', Arial, Helvetica, sans-serif" fill="#383838" font-size="52.8" text-anchor="middle"><text x="1286" y="71">(a)</text><text x="1286" y="1122.5">(b)</text><text x="1286" y="971.5">Time (year)</text><text x="1286" y="2022">Period (day)</text><text transform="translate(73.5 1512) rotate(-90)">Power</text><text transform="translate(72 546) rotate(-90)" text-anchor="start">(km/mm)</text><text transform="translate(73.5 589) rotate(-90) scale(1.15 1)" text-anchor="start" font-family="'Liberation Serif', serif" font-style="italic" font-size="54" fill="#8c8c8c">β</text></g><rect x="832" y="120" width="320" height="116.5" fill="#fff"/><path d="M832 120V236.5M1152 120V236.5" stroke="#4a4a4a" stroke-width="5.6" stroke-linecap="square" fill="none"/><path d="M832 120H1152M832 236.5H1152" stroke="#4a4a4a" stroke-width="5.0" stroke-linecap="square" fill="none"/><circle cx="892.5" cy="151.5" r="4.5" fill="#0a0ae6"/><path d="M842.5 205H941" stroke="#d81818" stroke-width="7.5"/><g font-family="'Liberation Sans', Arial, Helvetica, sans-serif" fill="#383838" font-size="42"><text x="952" y="168">Data point</text><text x="952" y="221">Fitted line</text></g><g stroke="#4a4a4a" fill="none" stroke-linecap="square"><path d="M192.0 1135.0V1892.0M2380.0 1135.0V1892.0" stroke-width="5.6"/><path d="M192.0 1135.0H2380.0M192.0 1892.0H2380.0" stroke-width="5.0"/><path d="M408.8 1892.0v-23.0M408.8 1135.0v23.0M627.8 1892.0v-23.0M627.8 1135.0v23.0M846.9 1892.0v-23.0M846.9 1135.0v23.0M1065.9 1892.0v-23.0M1065.9 1135.0v23.0M1284.9 1892.0v-23.0M1284.9 1135.0v23.0M1503.9 1892.0v-23.0M1503.9 1135.0v23.0M1722.9 1892.0v-23.0M1722.9 1135.0v23.0M1942 1892.0v-23.0M1942 1135.0v23.0M2161 1892.0v-23.0M2161 1135.0v23.0" stroke-width="5.6" stroke-linecap="butt"/><path d="M192.0 1702.8h23.0M2380.0 1702.8h-23.0M192.0 1513.5h23.0M2380.0 1513.5h-23.0M192.0 1324.2h23.0M2380.0 1324.2h-23.0" stroke-width="5.0" stroke-linecap="butt"/></g><defs><clipPath id="cb"><rect x="192.0" y="1135.0" width="2188.0" height="757.0"/></clipPath><clipPath id="ca"><rect x="192.0" y="84.0" width="2188.0" height="756.0"/></clipPath></defs><path d="M2380 1862.1 2229.3 1880.3 2059.3 1801.3 1915.5 1828.2 1792.2 1819.7 1685.4 1861.3 1591.9 1810.1 1509.5 1850 1436.1 1864.2 1370.6 1876.9 1311.5 1850 1258.1 1889.5 1209.5 1849.6 1165.2 1860.6 1124.6 1862.3 1087.2 1867.2 1052.7 1821.2 1020.7 1824.6 991 1336 963.4 1840 937.6 1880.3 913.5 1836 890.9 1849.2 869.6 1759.7 849.6 1845.1 830.8 1863.2 813 1841.1 796.1 1861 780.2 1872.3 765 1866.6 750.7 1848.5 737 1843.9 724 1862.3 711.5 1875.9 699.7 1870.2 688.3 1876.3 677.5 1877 667.1 1882.7 657.2 1839.4 647.6 1866.6 638.5 1871.4 629.7 1872.3 621.2 1860 613.1 1803.1 605.3 1860 597.7 1868.9 590.4 1559.1 583.4 1848.5 576.6 1865.7 570 1855.5 563.7 1854.2 557.6 1824.1 551.7 1842.8 545.9 1864 540.3 1878.8 535 1885.6 529.7 1847 524.6 1808.2 519.7 1862.5 514.9 1862.5 510.3 1803.1 505.8 1882 501.4 1844.7 497.1 1807.4 493 1844.7 488.9 1875.7 485 1871.2 481.2 1873.8 477.4 1834.7 473.8 1854.2 470.2 1869.3 466.8 1857.9 463.4 1842.8 460.1 1885.8 456.9 1825.8 453.7 1769.9 450.7 1874.8 447.7 1860.2 444.7 1876.9 441.9 1881.2 439.1 1833.7 436.3 1850.4 433.7 1858.3 431 1873.1 428.5 1879.3 426 1879.3 423.5 1879.3 421.1 1863.6 418.7 1842.8 416.4 1857.9 414.2 1869.3 411.9 1880.6 409.8 1890.3 407.6 1829.5 405.5 1838.9 403.5 1865.2 401.5 1829.5 399.5 1885.9 397.5 1878.1 395.6 1866.3 393.8 1872 391.9 1879.2 390.1 1861.7 388.3 1853.8 386.6 1867.4 384.9 1859.7 383.2 1829.5 381.6 1831.9 379.9 1869.7 378.3 1876.5 376.8 1852.2 375.2 1865 373.7 1888.7 372.2 1877.8 370.7 1864.4 369.3 1833.3 367.9 1868.9 366.5 1849.1 365.1 1868 363.7 1873 362.4 1864.4 361.1 1874.1 359.8 1870 358.5 1865.2 357.2 1885.2 356 1881.6 354.8 1887.3 353.6 1867.3 352.4 1887.7 351.2 1871 350.1 1854.6 348.9 1870.3 347.8 1856.6 346.7 1876.9 345.6 1851.6 344.5 1864.7 343.5 1869.3 342.4 1879.8 341.4 1855.2 340.4 1878 339.4 1840.9 338.4 1882.5 337.4 1872.1 336.4 1862.8 335.5 1874.9 334.5 1874 333.6 1878.8 332.7 1872.4 331.8 1812.5 330.9 1848.3 330 1886 329.2 1875.4 328.3 1852.2 327.4 1878 326.6 1866.2 325.8 1827.4 325 1853.3 324.1 1831.4 323.3 1839.2 322.6 1866.3 321.8 1833.6 321 1866.9 320.2 1853.8 319.5 1874.2 318.7 1802.5 318 1869.1 317.3 1797.4 316.6 1844 315.8 1854.1 315.1 1857.2 314.4 1863.6 313.8 1857 313.1 1866.3 312.4 1863.8 311.7 1864.7 311.1 1840.9 310.4 1816.8 309.8 1839.6 309.1 1787.9 308.5 1834.7 307.9 1855.2 307.3 1863 306.7 1842.4 306 1805.1 305.4 1805.1 304.9 1865.2 304.3 1844.9 303.7 1852.5 303.1 1823.8 302.5 1838.7 302 1873.5 301.4 1876.1 300.9 1840 300.3 1849 299.8 1856 299.2 1865.1 298.7 1846.8 298.2 1849.1 297.7 1839 297.2 1872.6 296.6 1869.4 296.1 1860.6 295.6 1864.3 295.1 1864.4 294.6 1864 294.2 1840.1 293.7 1808.7 293.2 1863.7 292.7 1852.6 292.2 1882 291.8 1864.2 291.3 1877.5 290.9 1849.1 290.4 1871.3 290 1870.2 289.5 1859 289.1 1873 288.6 1811 288.2 1860.5 287.8 1804.9 287.3 1870.1 286.9 1860.2 286.5 1877.3 286.1 1864.7 285.7 1874.9 285.3 1853.6 284.9 1850.1 284.5 1851 284.1 1848.7 283.7 1864.7 283.3 1839.4 282.9 1868.4 282.5 1824.7 282.1 1864.8 281.8 1841.2 281.4 1857.8 281 1874.1 280.6 1855.1 280.3 1860.7 279.9 1871.4 279.5 1875.1 279.2 1865.1 278.8 1863.4 278.5 1871.6 278.1 1877.7 277.8 1858.5 277.4 1882.3 277.1 1849.9 276.8 1848.5 276.4 1863.9 276.1 1879.3 275.8 1849.8 275.4 1855.9 275.1 1860.1 274.8 1869.1 274.5 1881.5 274.1 1877.7 273.8 1854.1 273.5 1807.5 273.2 1872.9 272.9 1859.6 272.6 1846.3 272.3 1872.8 272 1873.2 271.7 1837.1 271.4 1862.2 271.1 1863.6 270.8 1863.8 270.5 1875.1 270.2 1856.5 269.9 1869.8 269.6 1853.9 269.4 1861.3 269.1 1845.9 268.8 1866.9 268.5 1876.1 268.3 1874 268 1879.2 267.7 1863.3 267.4 1810.6 267.2 1854.2 266.9 1834.3 266.6 1867.5 266.4 1869.2 266.1 1869.5 265.9 1857.4 265.6 1853.5 265.3 1884.3 265.1 1854 264.8 1858 264.6 1871.1 264.3 1843.4 264.1 1872.4 263.8 1868.4 263.6 1859.8 263.4 1842.3 263.1 1851.1 262.9 1847.9 262.6 1864.6 262.4 1854.9 262.2 1841.2 261.9 1829.4 261.7 1856.2 261.5 1871 261.3 1855.6 261 1873.3 260.8 1851 260.6 1865.6 260.4 1864.2 260.1 1878.4 259.9 1865.4 259.7 1873.9 259.5 1860.3 259.3 1874.3 259.1 1855.2 258.8 1859.4 258.6 1880.3 258.4 1872.1 258.2 1872.6 258 1868 257.8 1851.1 257.6 1873 257.4 1849.1 257.2 1847 257 1869.4 256.8 1872.2 256.6 1857.1 256.4 1868.6 256.2 1838.2 256 1868.9 255.8 1886.7 255.6 1867.8 255.4 1856.3 255.2 1870.4 255 1880.4 254.8 1851.9 254.6 1881.6 254.5 1868.3 254.3 1871.4 254.1 1869.7 253.9 1862.8 253.7 1846.3 253.5 1851.9 253.4 1858.1 253.2 1855.7 253 1841.7 252.8 1861 252.7 1840.5 252.5 1871.4 252.3 1873.3 252.1 1868.3 252 1835.6 251.8 1867.8 251.6 1859 251.4 1875.9 251.3 1861 251.1 1874.1 250.9 1861.6 250.8 1864.3 250.6 1862.6 250.4 1872.1 250.3 1864.7 250.1 1812.5 250 1841.2 249.8 1863.4 249.6 1857.7 249.5 1843 249.3 1849.7 249.2 1873.1 249 1856.1 248.8 1873 248.7 1884 248.5 1861.1 248.4 1851.7 248.2 1881.5 248.1 1869.8 247.9 1855 247.8 1853.7 247.6 1871.5 247.5 1878.1 247.3 1858.1 247.2 1863.9 247 1862.3 246.9 1849.6 246.7 1876.9 246.6 1873.8 246.5 1854.2 246.3 1877.3 246.2 1850.5 246 1853.6 245.9 1858.9 245.8 1858.7 245.6 1879.1 245.5 1869.1 245.3 1851.4 245.2 1876.8 245.1 1872.8 244.9 1877.7 244.8 1865.8 244.7 1881.8 244.5 1860.3 244.4 1852.3 244.3 1865.3 244.1 1827.6 244 1878.5 243.9 1871.3 243.7 1887.4 243.6 1876.3 243.5 1871.2 243.4 1872.9 243.2 1862.9 243.1 1873.2 243 1866.5 242.8 1846.8 242.7 1855.7 242.6 1864.1 242.5 1878.2 242.3 1867.5 242.2 1874.5 242.1 1882.4 242 1871.6 241.9 1877 241.7 1871.4 241.6 1844.6 241.5 1852.5 241.4 1875.3 241.3 1873.7 241.1 1876 241 1845.6 240.9 1878.5 240.8 1877.9 240.7 1871.3 240.6 1831.1 240.5 1873.7 240.3 1843.9 240.2 1822 240.1 1872.4 240 1871.1 239.9 1882.6 239.8 1859.8 239.7 1867.2 239.6 1843.5 239.4 1871.9 239.3 1886.7 239.2 1871.8 239.1 1851.2 239 1885.2 238.9 1867.9 238.8 1881.9 238.7 1863.6 238.6 1870.6 238.5 1843.6 238.4 1874.3 238.3 1872.2 238.2 1881.2 238.1 1882 238 1868.9 237.8 1858.9 237.7 1877.3 237.6 1874.8 237.5 1858.5 237.4 1876.1 237.3 1874.4 237.2 1872.9 237.1 1871.6 237 1859.5 236.9 1870.6 236.8 1880.7 236.7 1883.9 236.6 1883.4 236.5 1876.2 236.5 1847.8 236.4 1862.6 236.3 1873.4 236.2 1885.1 236.1 1847.2 236 1876.2 235.9 1875.3 235.8 1881.6 235.7 1873.5 235.6 1873.1 235.5 1876.9 235.4 1884.7 235.3 1862.2 235.2 1863.6 235.1 1884.6 235 1856.5 234.9 1868.6 234.9 1864.4 234.8 1876 234.7 1869.2 234.6 1885.5 234.5 1878.6 234.4 1868.2 234.3 1868.1 234.2 1870.3 234.1 1878.1 234.1 1862.4 234 1851 233.9 1859.1 233.8 1878.4 233.7 1865.9 233.6 1870.6 233.5 1857.3 233.5 1868.7 233.4 1864.5 233.3 1870.1 233.2 1850.5 233.1 1880.6 233 1884.4 233 1880.8 232.9 1863.3 232.8 1883.7 232.7 1885.9 232.6 1871.8 232.5 1876.7 232.5 1851.9 232.4 1871 232.3 1878.4 232.2 1880.1 232.1 1882.1 232.1 1871.5 232 1883.3 231.9 1870 231.8 1879.2 231.7 1874.2 231.7 1864.9 231.6 1887.2 231.5 1856.1 231.4 1860.6 231.4 1882.9 231.3 1870.5 231.2 1883 231.1 1877.5 231 1877.2 231 1877.2 230.9 1871.3 230.8 1880.7 230.7 1851.8 230.7 1879.4 230.6 1856.4 230.5 1862.1 230.5 1859.3 230.4 1848.6 230.3 1850.5 230.2 1859.7 230.2 1883.7 230.1 1879.1 230 1880.9 229.9 1871.3 229.9 1869.4 229.8 1878.5 229.7 1840.7 229.7 1871.4 229.6 1864.4 229.5 1889.8 229.4 1880.8 229.4 1869.7 229.3 1881.4 229.2 1878.9 229.2 1872.2 229.1 1870.2 229 1853.9 229 1884.4 228.9 1869.8 228.8 1878.2 228.8 1868.8 228.7 1860.6 228.6 1880.2 228.6 1862.4 228.5 1874.6 228.4 1872.8 228.4 1882.2 228.3 1875.2 228.2 1878.3 228.2 1846.3 228.1 1865.3 228 1846.1 228 1879 227.9 1867.2 227.8 1867.3 227.8 1876.5 227.7 1871.9 227.6 1841.3 227.6 1876.8 227.5 1863.2 227.5 1868.7 227.4 1883.6 227.3 1876.1 227.3 1865.9 227.2 1828.3 227.1 1867.7 227.1 1861.2 227 1889.5 227 1862.6 226.9 1880.9 226.8 1856.1 226.8 1879.8 226.7 1872.9 226.6 1874.6 226.6 1865.7 226.5 1871.7 226.5 1867.6 226.4 1882.4 226.3 1875.8 226.3 1864.6 226.2 1864.8 226.2 1856.9 226.1 1867.8 226.1 1887.3 226 1880.2 225.9 1827.7 225.9 1871.7 225.8 1858.1 225.8 1867.5 225.7 1873.6 225.6 1873.5 225.6 1881.7 225.5 1885.1 225.5 1855.3 225.4 1880.9 225.4 1863 225.3 1883.3 225.3 1870.5 225.2 1868.6 225.1 1868.9 225.1 1874.7 225 1862.6 225 1884.3 224.9 1858.2 224.9 1859 224.8 1878.7 224.8 1872.7 224.7 1872.6 224.6 1880.6 224.6 1857.7 224.5 1859.7 224.5 1868 224.4 1876.1 224.4 1876.9 224.3 1864.5 224.3 1867.9 224.2 1871.7 224.2 1861.7 224.1 1884.4 224.1 1855.7 224 1872.3 224 1867.4 223.9 1867.1 223.9 1865.6 223.8 1879.5 223.7 1860.8 223.7 1873.2 223.6 1880.1 223.6 1860.9 223.5 1861.1 223.5 1876.6 223.4 1870.4 223.4 1871.7 223.3 1877.4 223.3 1871.1 223.2 1874.2 223.2 1871.2 223.1 1881.7 223.1 1861.4 223 1854.3 223 1866.6 222.9 1882.9 222.9 1867.1 222.8 1846.3 222.8 1876.6 222.8 1878.1 222.7 1883.3 222.7 1853.1 222.6 1866.9 222.6 1862.8 222.5 1880.5 222.5 1870.5 222.4 1873.2 222.4 1844.4 222.3 1882.6 222.3 1867.9 222.2 1869.9 222.2 1867 222.1 1863.5 222.1 1879.8 222 1877 222 1873.1 222 1870.5 221.9 1884.5 221.9 1879.6 221.8 1871.7 221.8 1866.6 221.7 1856.8 221.7 1850.9 221.6 1876.8 221.6 1859.5 221.5 1860.6 221.5 1864.7 221.5 1868.6 221.4 1865.1 221.4 1869.1 221.3 1866.2 221.3 1866.8 221.2 1879.9 221.2 1874.1 221.1 1880.3 221.1 1884.5 221.1 1873.1 221 1878.2 221 1868.2 220.9 1881.6 220.9 1878.9 220.8 1865.3 220.8 1839.7 220.8 1876.2 220.7 1871.7 220.7 1859.7 220.6 1876.4 220.6 1876 220.5 1878.5 220.5 1873.6 220.5 1861.8 220.4 1880.7 220.4 1872.7 220.3 1868.7 220.3 1874.5 220.2 1886.1 220.2 1880.7 220.2 1855.5 220.1 1877.7 220.1 1873.7 220 1867 220 1871.6 220 1864.9 219.9 1853.7 219.9 1862.7 219.8 1883.9 219.8 1879.1 219.8 1860.4 219.7 1880.5 219.7 1858.2 219.6 1884.6 219.6 1874.5 219.6 1862.8 219.5 1858.6 219.5 1867.9 219.4 1881.1 219.4 1867 219.4 1864 219.3 1861 219.3 1872 219.3 1864.2 219.2 1870.8 219.2 1873.8 219.1 1835.1 219.1 1874.2 219.1 1878.9 219 1874.5 219 1880.9 218.9 1864.7 218.9 1865.4 218.9 1869.5 218.8 1866.7 218.8 1874.9 218.8 1883.3 218.7 1867.9 218.7 1873.8 218.6 1872 218.6 1875.4 218.6 1870.7 218.5 1876.5 218.5 1864.7 218.5 1871.2 218.4 1874.4 218.4 1862.6 218.4 1864.4 218.3 1880.2 218.3 1876.4 218.2 1879.7 218.2 1873.4 218.2 1881.5 218.1 1869.7 218.1 1874.1 218.1 1873.9 218 1867.1 218 1869.7 218 1876.6 217.9 1838.9 217.9 1871.2 217.9 1874.8 217.8 1870 217.8 1856.8 217.7 1882.3 217.7 1873.6 217.7 1871.8 217.6 1879.7 217.6 1880.6 217.6 1872.7 217.5 1863.7 217.5 1879.5 217.5 1853.4 217.4 1870.7 217.4 1871.5 217.4 1874 217.3 1880.4 217.3 1869.8 217.3 1863.8 217.2 1880.7 217.2 1867.5 217.2 1865.3 217.1 1853.3 217.1 1883.5 217.1 1886.1 217 1882.4 217 1886.6 217 1863.1 216.9 1869.4 216.9 1856.6 216.9 1862.1 216.8 1870.5 216.8 1870.4 216.8 1882.6 216.7 1860.6 216.7 1867.7 216.7 1879.6 216.6 1872.6 216.6 1869.5 216.6 1882.5 216.5 1876 216.5 1885.8 216.5 1881.1 216.5 1873.6 216.4 1878.1 216.4 1881.4 216.4 1869.4 216.3 1868.4 216.3 1868.5 216.3 1863.1 216.2 1848.2 216.2 1869.4 216.2 1872.7 216.1 1872.2 216.1 1878.5 216.1 1861.3 216 1879.4 216 1865.5 216 1877.2 216 1864.8 215.9 1854.8 215.9 1875.9 215.9 1873.9 215.8 1862.4 215.8 1857.2 215.8 1875.7 215.7 1872.8 215.7 1877.5 215.7 1874.7 215.7 1876.8 215.6 1866.7 215.6 1872.7 215.6 1863.7 215.5 1884.9 215.5 1858.3 215.5 1870.2 215.4 1883.9 215.4 1884.5 215.4 1879.4 215.4 1848.8 215.3 1876.2 215.3 1881.9 215.3 1870.1 215.2 1878.7 215.2 1872.8 215.2 1875.1 215.2 1874.7 215.1 1864.9 215.1 1859.7 215.1 1854.4 215 1877.9 215 1880.3 215 1886 215 1880.4 214.9 1856.5 214.9 1865.2 214.9 1876.8 214.8 1885.3 214.8 1873.2 214.8 1878.5 214.8 1875.2 214.7 1871.7 214.7 1871.9 214.7 1859.8 214.7 1872.2 214.6 1886.3 214.6 1857.4 214.6 1888.9 214.5 1877.2 214.5 1872.3 214.5 1878.5 214.5 1885.2 214.4 1881.3 214.4 1885.4 214.4 1865.9 214.4 1865.5 214.3 1869.8 214.3 1844.4 214.3 1857.4 214.2 1873.2 214.2 1868.2 214.2 1866.7 214.2 1841.5 214.1 1850.6 214.1 1869.3 214.1 1866.5 214.1 1880 214 1871.2 214 1866.3 214 1879 214 1870 213.9 1870.5 213.9 1875.7 213.9 1888.1 213.9 1874.5 213.8 1870.2 213.8 1878.6 213.8 1866.1 213.8 1866.1 213.7 1872.2 213.7 1874.8 213.7 1876.1 213.7 1855.5 213.6 1877.9 213.6 1867.8 213.6 1852.2 213.5 1880.1 213.5 1856.2 213.5 1854.6 213.5 1870.9 213.4 1872.3 213.4 1844 213.4 1877.7 213.4 1858.7 213.4 1868.5 213.3 1881.4 213.3 1855 213.3 1873.5 213.3 1884.1 213.2 1885.8 213.2 1884.4 213.2 1878.5 213.2 1876.2 213.1 1855.4 213.1 1882.7 213.1 1871.4 213.1 1878 213 1869 213 1870 213 1875.8 213 1874.3 212.9 1871.6 212.9 1874.8 212.9 1843 212.9 1869.9 212.8 1859.5 212.8 1880.8 212.8 1869.2 212.8 1885.4 212.7 1867.9 212.7 1884 212.7 1865.7 212.7 1878.3 212.7 1883.9 212.6 1871.6 212.6 1873.6 212.6 1872.6 212.6 1879.1 212.5 1880.8 212.5 1878.3 212.5 1881.5 212.5 1878.7 212.4 1877.4 212.4 1865.2 212.4 1860.7 212.4 1882.4 212.4 1868.5 212.3 1884.5 212.3 1853.9 212.3 1884.9 212.3 1865.9 212.2 1885.6 212.2 1885.9 212.2 1846.9 212.2 1884.8 212.2 1870.2 212.1 1868.9 212.1 1876.4 212.1 1882.5 212.1 1883.4 212 1876.5 212 1875.3 212 1881.6 212 1849.6 212 1873 211.9 1868.2 211.9 1876.2 211.9 1883.3 211.9 1861.7 211.8 1875.4 211.8 1878.3 211.8 1878.1 211.8 1875.3 211.8 1847.8 211.7 1877.7 211.7 1854.3 211.7 1873.1 211.7 1884.8 211.7 1876.3 211.6 1854.1 211.6 1876 211.6 1870.6 211.6 1884.6 211.5 1874 211.5 1878.1 211.5 1863.4 211.5 1879.6 211.5 1854.2 211.4 1881.5 211.4 1881.8 211.4 1878.4 211.4 1872.9 211.4 1881 211.3 1861.8 211.3 1872.4 211.3 1882.8 211.3 1865 211.3 1837.1 211.2 1883.1 211.2 1869.6 211.2 1887.4 211.2 1869.6 211.2 1879.9 211.1 1879.7 211.1 1876.9 211.1 1879.1 211.1 1863.6 211.1 1875.5 211 1865.6 211 1870.9 211 1871.7 211 1883.9 211 1884 210.9 1881.3 210.9 1866.6 210.9 1857.6 210.9 1874.5 210.9 1873.5 210.8 1882.7 210.8 1877.3 210.8 1880.2 210.8 1877.3 210.8 1883.6 210.7 1877.2 210.7 1873.1 210.7 1873.8 210.7 1865.7 210.7 1875.7 210.6 1871.7 210.6 1864.7 210.6 1872.8 210.6 1886.1 210.6 1882.2 210.5 1879.5 210.5 1883.3 210.5 1867.5 210.5 1884.2 210.5 1875.4 210.4 1873.8 210.4 1862.7 210.4 1882.7 210.4 1871.4 210.4 1875.8 210.4 1885 210.3 1860.8 210.3 1871.7 210.3 1876.3 210.3 1854.6 210.3 1871.4 210.2 1884.7 210.2 1878.3 210.2 1874.2 210.2 1875 210.2 1869.8 210.1 1884.6 210.1 1873.5 210.1 1871.9 210.1 1866.6 210.1 1869.3 210.1 1875.7 210 1883.7 210 1875.3 210 1874.5 210 1877 210 1875.6 209.9 1866.8 209.9 1875.9 209.9 1881 209.9 1874.2 209.9 1878.7 209.9 1851.6 209.8 1874.8 209.8 1869.1 209.8 1866.5 209.8 1866.6 209.8 1877.2 209.8 1870.2 209.7 1871.5 209.7 1859 209.7 1877.2 209.7 1874.7 209.7 1864.7 209.6 1882.4 209.6 1884 209.6 1880.3 209.6 1869.6 209.6 1876 209.6 1882.5 209.5 1873.5 209.5 1880.3 209.5 1873.9 209.5 1861.7 209.5 1887.8 209.5 1886.7 209.4 1880.3 209.4 1871.3 209.4 1865.8 209.4 1870.1 209.4 1870.4 209.4 1883.9 209.3 1870.6 209.3 1873.6 209.3 1868 209.3 1880.9 209.3 1888.3 209.3 1870.8 209.2 1880.1 209.2 1866.6 209.2 1883 209.2 1873.7 209.2 1869.4 209.1 1875.4 209.1 1867.7 209.1 1871.5 209.1 1879.8 209.1 1871.7 209.1 1838.2 209.1 1879.5 209 1882.9 209 1867.4 209 1877.7 209 1873.8 209 1854.8 209 1876.8 208.9 1850.1 208.9 1870.4 208.9 1873.3 208.9 1852.4 208.9 1884.7 208.9 1889 208.8 1867.3 208.8 1849.1 208.8 1870.7 208.8 1867 208.8 1866.9 208.8 1860.1 208.7 1877 208.7 1878.1 208.7 1877.8 208.7 1870.8 208.7 1863.7 208.7 1883.3 208.6 1862.9 208.6 1883.1 208.6 1882.7 208.6 1882.1 208.6 1883.8 208.6 1879.3 208.6 1864.8 208.5 1870.3 208.5 1868.6 208.5 1876.7 208.5 1867.4 208.5 1873.9 208.5 1874.4 208.4 1882.7 208.4 1872.6 208.4 1882.5 208.4 1869.7 208.4 1879.3 208.4 1884.9 208.4 1861.9 208.3 1880.8 208.3 1869.1 208.3 1863.1 208.3 1877 208.3 1867.1 208.3 1858.8 208.2 1880.8 208.2 1879.5 208.2 1882.7 208.2 1880.9 208.2 1869.3 208.2 1866.9 208.2 1879.5 208.1 1870.3 208.1 1878.9 208.1 1861 208.1 1874.7 208.1 1876.5 208.1 1868.8 208 1878.4 208 1883.4 208 1875.9 208 1888.8 208 1883.2 208 1883.6 208 1875 207.9 1887.7 207.9 1878.3 207.9 1881.1 207.9 1869.7 207.9 1866.8 207.9 1853.4 207.9 1880.3 207.8 1878.2 207.8 1886.8 207.8 1887.3 207.8 1874.6 207.8 1861 207.8 1882.1 207.8 1886.6 207.7 1879.4 207.7 1883.9 207.7 1881 207.7 1883.8 207.7 1881.2 207.7 1870.7 207.7 1882.7 207.6 1877 207.6 1881.1 207.6 1878.4 207.6 1866.3 207.6 1876.3 207.6 1879.7 207.6 1868.4 207.5 1885.4 207.5 1879.8 207.5 1881.8 207.5 1883.2 207.5 1874.9 207.5 1883.6 207.5 1885.1 207.4 1866.1 207.4 1876.2 207.4 1881.5 207.4 1878.2 207.4 1871.8 207.4 1877 207.4 1885.3 207.4 1860.7 207.3 1880.8 207.3 1860.9 207.3 1861.5 207.3 1858.9 207.3 1878.7 207.3 1871.6 207.3 1851.8 207.2 1865.2 207.2 1887.1 207.2 1877.3 207.2 1857.5 207.2 1878.7 207.2 1876.9 207.2 1888.4 207.1 1865.4 207.1 1882.8 207.1 1876.5 207.1 1882.5 207.1 1872.1 207.1 1863 207.1 1885.4 207.1 1873.5 207 1864.3 207 1869.3 207 1875.4 207 1877.6 207 1885.4 207 1875.5 207 1882.6 206.9 1874.6 206.9 1883.6 206.9 1890 206.9 1871.7 206.9 1872.9 206.9 1877.5 206.9 1877.4 206.9 1877.2 206.8 1879.5 206.8 1879.6 206.8 1886.4 206.8 1885.7 206.8 1882.2 206.8 1879.2 206.8 1864.3 206.8 1865.9 206.7 1864.2 206.7 1869.6 206.7 1879 206.7 1871.7 206.7 1871.8 206.7 1878.2 206.7 1879.8 206.7 1869.2 206.6 1867.9 206.6 1885.5 206.6 1854.4 206.6 1875.5 206.6 1883.5 206.6 1872.6 206.6 1869.6 206.6 1874 206.5 1886.9 206.5 1874.5 206.5 1877.9 206.5 1867 206.5 1886.3 206.5 1881.8 206.5 1863 206.5 1876.9 206.4 1886 206.4 1867 206.4 1853 206.4 1872.7 206.4 1881 206.4 1886.3 206.4 1871.3 206.4 1871.2 206.3 1884.2 206.3 1867.6 206.3 1880 206.3 1885.6 206.3 1878.3 206.3 1876.4 206.3 1886.7 206.3 1887.2 206.2 1869.6 206.2 1871.8 206.2 1873.1 206.2 1877.7 206.2 1858.2 206.2 1873.2 206.2 1874.7 206.2 1877.9 206.1 1868.4 206.1 1875.8 206.1 1863.9 206.1 1876.9 206.1 1878.7 206.1 1869.1 206.1 1866.5 206.1 1877.2 206.1 1869.8 206 1857.1 206 1884.8 206 1888.3 206 1878.5 206 1886.7 206 1874.2 206 1880.7 206 1856.9 205.9 1886.4 205.9 1880.6 205.9 1880 205.9 1879.8 205.9 1886.4 205.9 1861.4 205.9 1881 205.9 1865.8 205.9 1888.1 205.8 1881.9 205.8 1885 205.8 1874.7 205.8 1885.9 205.8 1877.8 205.8 1866 205.8 1864.2 205.8 1860.9 205.8 1883.4 205.7 1875.5 205.7 1871.1 205.7 1883.6 205.7 1871.2 205.7 1879 205.7 1861.1 205.7 1875 205.7 1870.7 205.7 1880 205.6 1879.2 205.6 1872.9 205.6 1875.3 205.6 1865.3 205.6 1852.8 205.6 1870.3 205.6 1881 205.6 1867 205.6 1877.2 205.5 1874 205.5 1881.5 205.5 1869.8 205.5 1885.2 205.5 1872.7 205.5 1881.2 205.5 1854.1 205.5 1879.9 205.5 1880.8 205.4 1880.9 205.4 1869.3 205.4 1883.5 205.4 1883.8 205.4 1878.4 205.4 1868.7 205.4 1885 205.4 1887.5 205.4 1873 205.3 1883.5 205.3 1886.3 205.3 1857.2 205.3 1861 205.3 1885.9 205.3 1871 205.3 1879.6 205.3 1879.8 205.3 1872.2 205.2 1887.7 205.2 1880.6 205.2 1887.5 205.2 1862.7 205.2 1874.1 205.2 1871 205.2 1875.2 205.2 1865.3 205.2 1874.9 205.2 1876.9 205.1 1875.7 205.1 1878.1 205.1 1875 205.1 1873.8 205.1 1882.4 205.1 1879.6 205.1 1875.9 205.1 1875.6 205.1 1878.4 205.1 1889.1 205 1881.8 205 1875.8 205 1886.3 205 1864.4 205 1866.1 205 1879.4 205 1863.1 205 1883.9 205 1863.7 204.9 1874 204.9 1842.8 204.9 1878.4 204.9 1873.2 204.9 1871.4 204.9 1888.5 204.9 1882.1 204.9 1885.5 204.9 1882.4 204.9 1860 204.8 1878.8 204.8 1882.7 204.8 1881.8 204.8 1874.6 204.8 1866.7 204.8 1878.6 204.8 1873.3 204.8 1880.4 204.8 1887.4 204.8 1885.8 204.7 1879 204.7 1884.9 204.7 1885.1 204.7 1872.9 204.7 1854.4 204.7 1888.5 204.7 1885 204.7 1886 204.7 1881.2 204.7 1877.3 204.6 1882.2 204.6 1882 204.6 1883.5 204.6 1878.7 204.6 1879.3 204.6 1882.6 204.6 1867.9 204.6 1876.6 204.6 1878.3 204.6 1868.6 204.5 1881.4 204.5 1880.4 204.5 1883.4 204.5 1875.2 204.5 1867.7 204.5 1876.7 204.5 1880.8 204.5 1886 204.5 1872.8 204.5 1872.6 204.5 1890.2 204.4 1864.7 204.4 1869.4 204.4 1844.9 204.4 1861.7 204.4 1871.6 204.4 1880.1 204.4 1872.5 204.4 1885.1 204.4 1885 204.4 1879.4 204.3 1885.1 204.3 1867.8 204.3 1875.8 204.3 1854.3 204.3 1873.4 204.3 1879.7 204.3 1885.2 204.3 1888 204.3 1874.2 204.3 1874.8 204.3 1882.5 204.2 1880.4 204.2 1863 204.2 1881.4 204.2 1875.1 204.2 1887.7 204.2 1877.7 204.2 1883.4 204.2 1869.4 204.2 1876.9 204.2 1857.9 204.2 1877.9 204.1 1869.9 204.1 1880.7 204.1 1878.7 204.1 1884.2 204.1 1863.3 204.1 1879.2 204.1 1873.1 204.1 1886.9 204.1 1882.5 204.1 1873.1 204.1 1867.6 204 1884.4 204 1868 204 1879.2 204 1886.8 204 1869.6 204 1870.3 204 1875.5 204 1884.1 204 1869.9 204 1866.4 204 1869.1 203.9 1877.7 203.9 1875.1 203.9 1883.8 203.9 1881.5 203.9 1868.7 203.9 1873.9 203.9 1881.6 203.9 1878.9 203.9 1878.6 203.9 1873.7 203.9 1868.6 203.8 1868.6 203.8 1876.8 203.8 1855.8 203.8 1875.1 203.8 1883.8 203.8 1874.1 203.8 1876 203.8 1875.3 203.8 1851.5 203.8 1886 203.8 1870.7 203.8 1876.8 203.7 1860.2 203.7 1881 203.7 1873 203.7 1882.8 203.7 1883.2 203.7 1858.1 203.7 1879.2 203.7 1879.8 203.7 1879.9 203.7 1873.6 203.7 1887.8 203.6 1878.2 203.6 1889.7 203.6 1874.2 203.6 1881.9 203.6 1865.3 203.6 1875 203.6 1875.8 203.6 1888 203.6 1878.9 203.6 1882.8 203.6 1877.7 203.6 1880.8 203.5 1878.9 203.5 1878.4 203.5 1869.9 203.5 1884.9 203.5 1886.8 203.5 1874 203.5 1881.9 203.5 1885.2 203.5 1869.3 203.5 1878.6 203.5 1877.3 203.5 1880.8 203.4 1872.7 203.4 1869.3 203.4 1863.7 203.4 1884.7 203.4 1883.6 203.4 1887.5 203.4 1870.8 203.4 1867.1 203.4 1871.5 203.4 1879 203.4 1866.5 203.4 1881.5 203.3 1862.3 203.3 1880.3 203.3 1874.5 203.3 1879.7 203.3 1882 203.3 1874.7 203.3 1866.6 203.3 1872.1 203.3 1887.1 203.3 1857.3 203.3 1878.5 203.3 1877.2 203.3 1868.8 203.2 1871.7 203.2 1870.1 203.2 1882.7 203.2 1882.2 203.2 1883.7 203.2 1882.4 203.2 1879.5 203.2 1864.8 203.2 1869 203.2 1871.9 203.2 1883.9 203.2 1876.8 203.1 1870.5 203.1 1875.5 203.1 1879.9 203.1 1877.3 203.1 1871.3 203.1 1869.4 203.1 1880.3 203.1 1877.1 203.1 1875.1 203.1 1887.1 203.1 1883.8 203.1 1877.2 203.1 1878.3 203 1877.6 203 1880.5 203 1867.7 203 1865.6 203 1873.9 203 1875.6 203 1879.3 203 1876.5 203 1873.9 203 1882.8 203 1850.9 203 1876.8 203 1876.3 202.9 1876.8 202.9 1882.6 202.9 1878.2 202.9 1882.3 202.9 1886.9 202.9 1887.5 202.9 1883.9 202.9 1880.3 202.9 1884.9 202.9 1877 202.9 1883.9 202.9 1874.4 202.9 1879.3 202.8 1885.7 202.8 1875.9 202.8 1885.6 202.8 1877.6 202.8 1881 202.8 1880.3 202.8 1874.9 202.8 1873.8 202.8 1862 202.8 1882.2 202.8 1879.3 202.8 1872.1 202.8 1878.3 202.7 1879.6 202.7 1884 202.7 1863.5 202.7 1886.1 202.7 1876.7 202.7 1883.4 202.7 1874 202.7 1868.9 202.7 1875.9 202.7 1885.1 202.7 1872.4 202.7 1876.4 202.7 1859.3 202.7 1882.7 202.6 1881.6 202.6 1883.4 202.6 1886.9 202.6 1874.9 202.6 1883 202.6 1866.2 202.6 1878.5 202.6 1875.4 202.6 1871.4 202.6 1864.9 202.6 1876 202.6 1885.1 202.6 1868.1 202.5 1884.9 202.5 1887.3 202.5 1881.6 202.5 1880.5 202.5 1863.8 202.5 1885.1 202.5 1884 202.5 1888.2 202.5 1887.4 202.5 1866.1 202.5 1884.7 202.5 1886.3 202.5 1879.5 202.5 1883 202.4 1881.3 202.4 1882.3 202.4 1880.6 202.4 1874.7 202.4 1883.7 202.4 1881.2 202.4 1884.1 202.4 1880.1 202.4 1884.1 202.4 1874.2 202.4 1873.4 202.4 1859.1 202.4 1876.5 202.4 1876.7 202.3 1883.8 202.3 1878.7 202.3 1882.9 202.3 1875.5 202.3 1882.1 202.3 1887.4 202.3 1876.1 202.3 1874.4 202.3 1882.9 202.3 1881.7 202.3 1888.3 202.3 1884.3 202.3 1882.3 202.3 1868.4 202.3 1881 202.2 1869.9 202.2 1879.2 202.2 1878.2 202.2 1885.1 202.2 1877.5 202.2 1866.4 202.2 1883 202.2 1868.6 202.2 1877.4 202.2 1880.8 202.2 1872.8 202.2 1889.7 202.2 1874.3 202.2 1882.8 202.1 1881.4 202.1 1868 202.1 1881.1 202.1 1871.4 202.1 1886.6 202.1 1858 202.1 1878.7 202.1 1879.9 202.1 1880.8 202.1 1876.6 202.1 1875.7 202.1 1885.8 202.1 1872.8 202.1 1868.2 202.1 1881.6 202 1881.9 202 1872.2 202 1882.1 202 1880.6 202 1866.8 202 1877.1 202 1875.2 202 1884.2 202 1880.3 202 1864.5 202 1881 202 1877.8 202 1870.7 202 1871.8 202 1862.5 201.9 1889.4 201.9 1887.7 201.9 1857.5 201.9 1885.4 201.9 1879.1 201.9 1883.5 201.9 1877 201.9 1880.3 201.9 1886.8 201.9 1872.2 201.9 1886.1 201.9 1885.5 201.9 1883.1 201.9 1873.4 201.9 1877.9 201.9 1872.8 201.8 1877.5 201.8 1879.7 201.8 1880.2 201.8 1878 201.8 1866.7 201.8 1877.2 201.8 1881.4 201.8 1880.9 201.8 1881.2 201.8 1885.8 201.8 1885.5 201.8 1875.2 201.8 1880 201.8 1874.3 201.8 1871.3 201.7 1877.9 201.7 1886.8 201.7 1866.9 201.7 1881.1 201.7 1878.9 201.7 1889.5 201.7 1882.6 201.7 1870.2 201.7 1881 201.7 1873.8 201.7 1878.6 201.7 1877.1 201.7 1875 201.7 1882.9 201.7 1876.2 201.7 1882.4 201.6 1879.3 201.6 1883.4 201.6 1883.8 201.6 1877.9 201.6 1873.1 201.6 1883.4 201.6 1886.9 201.6 1851.3 201.6 1882.1 201.6 1883.7 201.6 1881.6 201.6 1873.1 201.6 1886.2 201.6 1879.6 201.6 1884.3 201.6 1883.9 201.5 1872.3 201.5 1871.5 201.5 1875.5 201.5 1863.6 201.5 1873.2 201.5 1885.4 201.5 1883.8 201.5 1884.2 201.5 1873.2 201.5 1872.9 201.5 1885.7 201.5 1877.7 201.5 1876.4 201.5 1881 201.5 1874 201.5 1878.5 201.5 1873.2 201.4 1878.5 201.4 1881.7 201.4 1878 201.4 1885.5 201.4 1878.5 201.4 1887.7 201.4 1882.5 201.4 1883.4 201.4 1870.7 201.4 1883.4 201.4 1882.6 201.4 1873 201.4 1882.5 201.4 1876.4 201.4 1882.3 201.4 1873.2 201.3 1884.5 201.3 1887.9 201.3 1890.2 201.3 1884.4 201.3 1874.6 201.3 1881.9 201.3 1884.3 201.3 1866.2 201.3 1884.8 201.3 1877.5 201.3 1880.3 201.3 1882 201.3 1879.8 201.3 1867.7 201.3 1871.7 201.3 1880 201.3 1877.7 201.2 1883.4 201.2 1886.1 201.2 1882.8 201.2 1886.5 201.2 1875.2 201.2 1884.6 201.2 1887 201.2 1878.5 201.2 1883 201.2 1871.1 201.2 1882.3 201.2 1888.2 201.2 1887.2 201.2 1882 201.2 1873.7 201.2 1877.7 201.2 1873.4 201.2 1868.4 201.1 1884.6 201.1 1876.5 201.1 1884.4 201.1 1880.2 201.1 1878.6 201.1 1888.1 201.1 1886.5 201.1 1881 201.1 1885.1 201.1 1889.8 201.1 1873.2 201.1 1883.4 201.1 1870.9 201.1 1881.2 201.1 1880.5 201.1 1877.2 201.1 1877.4 201 1883.6 201 1878.4 201 1878.5 201 1877.3 201 1886.5 201 1875.8 201 1877.6 201 1875.4 201 1876 201 1878.7 201 1881.5 201 1881.9 201 1881.7 201 1886.4 201 1876.7 201 1878.7 201 1865.2 201 1880.8 200.9 1881.3 200.9 1879.2 200.9 1880.5 200.9 1877.6 200.9 1885.4 200.9 1886.1 200.9 1882.1 200.9 1884.9 200.9 1883.9 200.9 1877.4 200.9 1884 200.9 1881.2 200.9 1858.6 200.9 1882.7 200.9 1886.4 200.9 1879 200.9 1877.9 200.9 1888 200.9 1879.3 200.8 1881 200.8 1883.6 200.8 1881.8 200.8 1870.6 200.8 1880.8 200.8 1880 200.8 1884.8 200.8 1884.5 200.8 1877 200.8 1874.2 200.8 1882 200.8 1882.5 200.8 1884.1 200.8 1877.8 200.8 1875 200.8 1874.1 200.8 1881.9 200.8 1872.1 200.7 1863.7 200.7 1882.2 200.7 1884.7 200.7 1884.6 200.7 1885.6 200.7 1889 200.7 1883.7 200.7 1882 200.7 1877.1 200.7 1885 200.7 1876.5 200.7 1878.4 200.7 1872.1 200.7 1887.4 200.7 1878.2 200.7 1879.4 200.7 1883.2 200.7 1883.3 200.7 1881.2 200.6 1875.5 200.6 1884.3 200.6 1874.1 200.6 1889.7 200.6 1880.7 200.6 1882.9 200.6 1872.3 200.6 1879.3 200.6 1874.1 200.6 1885.6 200.6 1875.5 200.6 1871.8 200.6 1881.6 200.6 1881.9 200.6 1884 200.6 1881.6 200.6 1880.6 200.6 1883.6 200.6 1879.9 200.5 1858.8 200.5 1876.2 200.5 1884.5 200.5 1871.2 200.5 1881.1 200.5 1881.7 200.5 1881.7 200.5 1880.9 200.5 1880.5 200.5 1873.3 200.5 1872.7 200.5 1871.2 200.5 1885.6 200.5 1886.3 200.5 1882.9 200.5 1886.7 200.5 1882.2 200.5 1879.6 200.5 1870.8 200.5 1882.6 200.4 1884.9 200.4 1881.8 200.4 1883 200.4 1881.7 200.4 1886.1 200.4 1881.8 200.4 1886.6 200.4 1889.6 200.4 1881 200.4 1878.8 200.4 1879.3 200.4 1887.4 200.4 1877.1 200.4 1879.3 200.4 1883.3 200.4 1881.6 200.4 1878.3 200.4 1877.7 200.4 1877.4 200.4 1878.2 200.3 1879.9 200.3 1872.5 200.3 1878.1 200.3 1884.7 200.3 1880.4 200.3 1878.2 200.3 1883 200.3 1868 200.3 1887.3 200.3 1880 200.3 1874.5 200.3 1876.4 200.3 1878.4 200.3 1869.8 200.3 1881.9 200.3 1880.6 200.3 1880.9 200.3 1883.9 200.3 1880.7 200.3 1877 200.2 1880.4 200.2 1878.5 200.2 1882.1 200.2 1884.2 200.2 1877.5 200.2 1880.6 200.2 1880.4 200.2 1872.4 200.2 1882.5 200.2 1878.1 200.2 1883.5 200.2 1884.9 200.2 1885.1 200.2 1880.9 200.2 1880.5 200.2 1882.5 200.2 1884.7 200.2 1884.1 200.2 1881.2 200.2 1877.9 200.2 1871.7 200.1 1864.2 200.1 1880.8 200.1 1866.7 200.1 1885.8 200.1 1871 200.1 1878.6 200.1 1876.6 200.1 1880 200.1 1885.1 200.1 1879.5 200.1 1880.7 200.1 1884.7 200.1 1883.8 200.1 1875.1 200.1 1887.6 200.1 1887.4 200.1 1878.4 200.1 1885.4 200.1 1883.3 200.1 1876.3 200.1 1885 200 1882.1 200 1887.8 200 1881.5 200 1866 200 1872.6 200 1871.7 200 1883.2 200 1879.8 200 1869.9 200 1874.6 200 1881.2 200 1879.5 200 1873.2 200 1882.1 200 1878.1 200 1876.3 200 1870.7 200 1882.2 200 1883.4 200 1883.8 200 1882.3 200 1888.4 199.9 1878 199.9 1881.6 199.9 1883.7 199.9 1881 199.9 1882.3 199.9 1883 199.9 1881.7 199.9 1886.4 199.9 1885.8 199.9 1877.3 199.9 1875.4 199.9 1879.2 199.9 1879.1 199.9 1872.6 199.9 1880.7 199.9 1877.9 199.9 1886.1 199.9 1878.7 199.9 1885.7 199.9 1889.1 199.9 1889.2 199.9 1888.1 199.8 1869.7 199.8 1881.9 199.8 1883.3 199.8 1885.4 199.8 1881 199.8 1885.3 199.8 1878.2 199.8 1881.6 199.8 1877.7 199.8 1886.1 199.8 1882.8 199.8 1876.6 199.8 1873.2 199.8 1876.2 199.8 1876 199.8 1883.1 199.8 1885 199.8 1883.5 199.8 1876.4 199.8 1882 199.8 1879.4 199.8 1878.4 199.7 1883.2 199.7 1884.9 199.7 1888.7 199.7 1884.4 199.7 1878.8 199.7 1879.9 199.7 1884.3 199.7 1880 199.7 1886.4 199.7 1888.9 199.7 1886.9 199.7 1883 199.7 1886.1 199.7 1882.9 199.7 1870.3 199.7 1873.5 199.7 1884.1 199.7 1883.7 199.7 1882.1 199.7 1881 199.7 1881 199.7 1882.8 199.7 1889.3 199.6 1880.7 199.6 1882.2 199.6 1878.1 199.6 1888.9 199.6 1888.6 199.6 1890.5 199.6 1886.4 199.6 1869.9 199.6 1880.5 199.6 1866.9 199.6 1871.8 199.6 1882.5 199.6 1886.5 199.6 1869 199.6 1878.4 199.6 1885.8 199.6 1879 199.6 1883.5 199.6 1879.7 199.6 1873.1 199.6 1877.2 199.6 1868.3 199.6 1886.6 199.6 1881.4 199.5 1890 199.5 1879.4 199.5 1881.2 199.5 1880.8 199.5 1868.7 199.5 1879.1 199.5 1872.4 199.5 1887.2 199.5 1883.3 199.5 1879.5 199.5 1889.4 199.5 1884.9 199.5 1881.5 199.5 1871.8 199.5 1885.5 199.5 1885.9 199.5 1881.4 199.5 1885.5 199.5 1880.8 199.5 1888.1 199.5 1881.5 199.5 1865.6 199.5 1874.5 199.5 1882 199.4 1875.9 199.4 1872 199.4 1876.4 199.4 1884.1 199.4 1876.5 199.4 1885.8 199.4 1885.9 199.4 1886.3 199.4 1886.1 199.4 1871.4 199.4 1884.6 199.4 1888.6 199.4 1875.5 199.4 1886.3 199.4 1885 199.4 1872.3 199.4 1878.6 199.4 1881.1 199.4 1882.1 199.4 1871.8 199.4 1882 199.4 1886 199.4 1883.7 199.4 1874.3 199.3 1881.2 199.3 1885.2 199.3 1881.4 199.3 1882.4 199.3 1881.9 199.3 1887.1 199.3 1884.8 199.3 1885.8 199.3 1886.4 199.3 1887.9 199.3 1882.4 199.3 1871.6 199.3 1885.3 199.3 1878.2 199.3 1875.7 199.3 1886.4 199.3 1873.2 199.3 1883.7 199.3 1879.7 199.3 1880.5 199.3 1885.6 199.3 1879.2 199.3 1881.1 199.3 1883.3 199.3 1880.4 199.2 1879.4 199.2 1883.6 199.2 1887 199.2 1881 199.2 1880.5 199.2 1878 199.2 1881.4 199.2 1881.2 199.2 1887.4 199.2 1885.8 199.2 1873.4 199.2 1886 199.2 1888.1 199.2 1882.7 199.2 1876.3 199.2 1881.7 199.2 1888.5 199.2 1886.1 199.2 1877.6 199.2 1887.6 199.2 1876.3 199.2 1882.6 199.2 1880.9 199.2 1878.4 199.2 1880.7 199.1 1883.6 199.1 1886.3 199.1 1889.9 199.1 1883.4 199.1 1887.4 199.1 1875.6 199.1 1887.2 199.1 1889 199.1 1875 199.1 1886.9 199.1 1885.8 199.1 1885.1 199.1 1875.2 199.1 1880.9 199.1 1877.8 199.1 1883.5 199.1 1874.8 199.1 1879.7 199.1 1887.8 199.1 1880.2 199.1 1885.2 199.1 1880 199.1 1882.7 199.1 1885.6 199.1 1883.5 199.1 1881.2 199 1874.9 199 1886.4 199 1885.2 199 1887.7 199 1879.2 199 1888 199 1879.2 199 1887.9 199 1882.3 199 1884.8 199 1878.3 199 1888.9 199 1888.6 199 1884.8 199 1881.2 199 1876 199 1868.7 199 1881.1 199 1874.4 199 1886 199 1875.5 199 1884.1 199 1886.3 199 1883.4 199 1889.7 199 1885.7 199 1887.6 198.9 1873.5 198.9 1887.9 198.9 1888.4 198.9 1887 198.9 1888.3 198.9 1886.4 198.9 1883.4 198.9 1881.9 198.9 1888.6 198.9 1878.9 198.9 1890.6 198.9 1885.1 198.9 1883.5 198.9 1886.8 198.9 1884.7 198.9 1877.5 198.9 1872.7 198.9 1886.4 198.9 1885.2 198.9 1879.6 198.9 1882.4 198.9 1881.7 198.9 1885.1 198.9 1877.4 198.9 1888.1 198.9 1883.7 198.9 1886.4 198.8 1867.2 198.8 1879.3 198.8 1884.8 198.8 1881.5 198.8 1876 198.8 1886.6 198.8 1870.9 198.8 1882.5 198.8 1882.2 198.8 1889.2 198.8 1889.4 198.8 1887.9 198.8 1884 198.8 1886.9 198.8 1873.5 198.8 1884 198.8 1887.3 198.8 1886.5 198.8 1884.2 198.8 1882.4 198.8 1875.7 198.8 1886.5 198.8 1883.2 198.8 1883.1 198.8 1882.8 198.8 1885.2 198.8 1887.1 198.8 1886.3 198.7 1882.6 198.7 1884.6 198.7 1869.2 198.7 1880 198.7 1879.6 198.7 1872.5 198.7 1888.7 198.7 1889.4 198.7 1876.8 198.7 1875.6 198.7 1885.7 198.7 1883 198.7 1878 198.7 1888.2 198.7 1865.8 198.7 1888.7 198.7 1876.1 198.7 1879.7 198.7 1884.8 198.7 1883.6 198.7 1884.5 198.7 1887.3 198.7 1884 198.7 1871.3 198.7 1887.5 198.7 1880.7 198.7 1882.2 198.7 1886.6 198.6 1879 198.6 1887.8 198.6 1877.6 198.6 1881.1 198.6 1884 198.6 1872.9 198.6 1881.5 198.6 1888.3 198.6 1881.4 198.6 1884.5 198.6 1883.9 198.6 1886.9 198.6 1881.9 198.6 1880.7 198.6 1883 198.6 1886.1 198.6 1882.6 198.6 1880.6 198.6 1880.9 198.6 1887.6 198.6 1868 198.6 1884.6 198.6 1885.4 198.6 1883.6 198.6 1886.4 198.6 1883.7 198.6 1884.7 198.6 1883.3 198.6 1875.4 198.5 1878 198.5 1879.9 198.5 1882.6 198.5 1886.2 198.5 1879.5 198.5 1874.4 198.5 1880.4 198.5 1871.4 198.5 1886.5 198.5 1886.4 198.5 1876 198.5 1877.5 198.5 1886.5 198.5 1889.7 198.5 1889.9 198.5 1865.5 198.5 1877.7 198.5 1886.1 198.5 1881.9 198.5 1888.8 198.5 1884.6 198.5 1873.6 198.5 1881.7 198.5 1884.9 198.5 1885.8 198.5 1886 198.5 1885.6 198.5 1879.8 198.5 1886.2 198.5 1883.6 198.4 1885.7 198.4 1886.8 198.4 1886.8 198.4 1885.4 198.4 1873.1 198.4 1872.9 198.4 1878.9 198.4 1889 198.4 1881.1 198.4 1886.4 198.4 1888.8 198.4 1884.1 198.4 1882.8 198.4 1884.9 198.4 1876.2 198.4 1880.7 198.4 1879.8 198.4 1876.1 198.4 1887 198.4 1884.6 198.4 1876.7 198.4 1880.3 198.4 1880.6 198.4 1879.2 198.4 1884.9 198.4 1886.1 198.4 1882.1 198.4 1877.8 198.4 1887.5 198.4 1873.5 198.3 1885.7 198.3 1882.3 198.3 1877 198.3 1881.7 198.3 1879.3 198.3 1885.9 198.3 1880 198.3 1882.8 198.3 1881.3 198.3 1886.5 198.3 1877.7 198.3 1886.5 198.3 1884.6 198.3 1888.8 198.3 1883.2 198.3 1886.8 198.3 1884.2 198.3 1888.7 198.3 1884.7 198.3 1887.2 198.3 1888.6 198.3 1885.2 198.3 1886.2 198.3 1886.8 198.3 1887.1 198.3 1881.1 198.3 1881.2 198.3 1880.3 198.3 1887.3 198.3 1880.4 198.3 1886.5 198.3 1881.3 198.2 1884.8 198.2 1888.5 198.2 1885 198.2 1877 198.2 1886.5 198.2 1886.2 198.2 1885.4 198.2 1889 198.2 1879.6 198.2 1884.8 198.2 1888.3 198.2 1884.5 198.2 1881 198.2 1879.5 198.2 1885.6 198.2 1881.9 198.2 1884.6 198.2 1884.4 198.2 1881.9 198.2 1886.7 198.2 1871.6 198.2 1875.8 198.2 1885.1 198.2 1883.1 198.2 1886.1 198.2 1881.5 198.2 1878.5 198.2 1884.2 198.2 1890 198.2 1883.2 198.2 1873.1 198.1 1881.7 198.1 1884.1 198.1 1883.2 198.1 1884.6 198.1 1887.9 198.1 1876.6 198.1 1884.9 198.1 1882.4 198.1 1883.1 198.1 1882.3 198.1 1883.5 198.1 1883.5 198.1 1886.1 198.1 1887.5 198.1 1880.3 198.1 1887.7 198.1 1884.9 198.1 1879.5 198.1 1885.1 198.1 1882.2 198.1 1884.4 198.1 1889.5 198.1 1890.4 198.1 1884 198.1 1887.2 198.1 1887.4 198.1 1882.4 198.1 1878.5 198.1 1884.8 198.1 1881.8 198.1 1883.3 198.1 1885 198.1 1886 198 1883.4 198 1881 198 1884 198 1886 198 1888.1 198 1885.3 198 1883.9 198 1875.5 198 1877.6 198 1885 198 1882.6 198 1884.2 198 1888.8 198 1885.2 198 1877.6 198 1887.2 198 1878 198 1884.1 198 1890.4 198 1887.4 198 1887.7 198 1876.1 198 1885.4 198 1886.5 198 1881.2 198 1885.1 198 1884.8 198 1885.8 198 1887.3 198 1883.3 198 1884 198 1882.6 198 1887.8 197.9 1884 197.9 1881.8 197.9 1880.5 197.9 1885.7 197.9 1887.7 197.9 1872.4 197.9 1884.6 197.9 1879.8 197.9 1887.9 197.9 1886.5 197.9 1879.5 197.9 1884.5 197.9 1882.7 197.9 1882.8 197.9 1881.7 197.9 1882.6 197.9 1883.2 197.9 1886.3 197.9 1884.3 197.9 1884.8 197.9 1884.6 197.9 1874.7 197.9 1881.9 197.9 1884.3 197.9 1884.9 197.9 1886.7 197.9 1878.1 197.9 1878.5 197.9 1883.6 197.9 1881.8 197.9 1882.8 197.9 1886.1 197.9 1886.3 197.9 1883.1 197.9 1885.4 197.8 1884.6 197.8 1887.2 197.8 1889.7 197.8 1884.5 197.8 1880.4 197.8 1885.1 197.8 1887.5 197.8 1886.5 197.8 1888 197.8 1877.6 197.8 1885.7 197.8 1887.7 197.8 1888.8 197.8 1882.8 197.8 1881.1 197.8 1875.4 197.8 1888.9 197.8 1875.6 197.8 1882.7 197.8 1876.5 197.8 1880.5 197.8 1885.3 197.8 1886.2 197.8 1876 197.8 1888.3 197.8 1881.4 197.8 1875.3 197.8 1886.8 197.8 1879.7 197.8 1885.3 197.8 1887 197.8 1889.3 197.8 1872.4 197.8 1886.9 197.8 1882.9 197.7 1883.6 197.7 1888.5 197.7 1888.3 197.7 1886.2 197.7 1882.6 197.7 1884.9 197.7 1886.4 197.7 1888.9 197.7 1886.6 197.7 1887.5 197.7 1887.3 197.7 1889.4 197.7 1887.3 197.7 1885.8 197.7 1886.5 197.7 1886.8 197.7 1879.5 197.7 1877.9 197.7 1874.6 197.7 1883 197.7 1885.6 197.7 1882.4 197.7 1882.9 197.7 1888.4 197.7 1884.1 197.7 1885.2 197.7 1880.1 197.7 1880.6 197.7 1878.9 197.7 1880.3 197.7 1887.7 197.7 1886.8 197.7 1883.6 197.7 1884.3 197.7 1889.7 197.7 1883.9 197.6 1885.4 197.6 1882.1 197.6 1884.8 197.6 1879.3 197.6 1877.3 197.6 1873.1 197.6 1885.4 197.6 1885 197.6 1883.8 197.6 1885.5 197.6 1879.5 197.6 1884.5 197.6 1890.4 197.6 1884.2 197.6 1883.5 197.6 1881.2 197.6 1885.9 197.6 1874.7 197.6 1882.8 197.6 1881.9 197.6 1880.9 197.6 1883.6 197.6 1883.9 197.6 1870.3 197.6 1881.7 197.6 1878.6 197.6 1881.5 197.6 1880 197.6 1889.2 197.6 1874.2 197.6 1887 197.6 1885.2 197.6 1887.8 197.6 1887.1 197.6 1886.1 197.6 1885.7 197.6 1884.6 197.5 1887.4 197.5 1884.1 197.5 1874.9 197.5 1881.5 197.5 1878.1 197.5 1887.3 197.5 1879 197.5 1885.2 197.5 1882.3 197.5 1882.1 197.5 1873.3 197.5 1884.2 197.5 1880.6 197.5 1883.8 197.5 1881.4 197.5 1876.8 197.5 1885.8 197.5 1884.7 197.5 1879 197.5 1886.6 197.5 1887.5 197.5 1872 197.5 1884.6 197.5 1883.9 197.5 1872.9 197.5 1883 197.5 1886.7 197.5 1873.8 197.5 1885.2 197.5 1884.9 197.5 1887.4 197.5 1886.5 197.5 1883.4 197.5 1884.8 197.5 1886.1 197.5 1876.7 197.5 1883.1 197.5 1889 197.4 1886.6 197.4 1884.3 197.4 1888.1 197.4 1885.5 197.4 1890.2 197.4 1880.4 197.4 1881.3 197.4 1880.8 197.4 1885.2 197.4 1885.1 197.4 1877.4 197.4 1880 197.4 1885 197.4 1888.5 197.4 1884.3 197.4 1884.6 197.4 1885.3 197.4 1887 197.4 1889.9 197.4 1889.7 197.4 1880.8 197.4 1887.3 197.4 1887.7 197.4 1882.1 197.4 1885.5 197.4 1883.4 197.4 1889.1 197.4 1889 197.4 1888.3 197.4 1888.6 197.4 1878.8 197.4 1880 197.4 1884.2 197.4 1882.9 197.4 1887.4 197.4 1887.6 197.4 1883.2 197.4 1883.7 197.4 1888.8 197.3 1886.2 197.3 1888.8 197.3 1887.7 197.3 1887.5 197.3 1890.1 197.3 1880.4 197.3 1882.1 197.3 1886 197.3 1883.2 197.3 1886.9 197.3 1891 197.3 1888.2 197.3 1881.4 197.3 1883.4 197.3 1883 197.3 1884.2 197.3 1876.8 197.3 1884 197.3 1880.8 197.3 1886.5 197.3 1877.4 197.3 1886.2 197.3 1885.3 197.3 1886.3 197.3 1876.5 197.3 1872.3 197.3 1885.4 197.3 1886.5 197.3 1888.3 197.3 1884.3 197.3 1881.6 197.3 1885.1 197.3 1881.8 197.3 1882.4 197.3 1886.9 197.3 1888.1 197.3 1882.9 197.3 1875.3 197.3 1880.7 197.3 1888.2 197.2 1883.7 197.2 1879.3 197.2 1888.4 197.2 1874.8 197.2 1888 197.2 1873.3 197.2 1878 197.2 1884.9 197.2 1882.6 197.2 1882 197.2 1878.2 197.2 1882.6 197.2 1888.9 197.2 1879.9 197.2 1878.9 197.2 1886 197.2 1888 197.2 1886.9 197.2 1877.5 197.2 1883.6 197.2 1884.8 197.2 1880.9 197.2 1888 197.2 1884.3 197.2 1889.8 197.2 1887.5 197.2 1886.2 197.2 1887.6 197.2 1877.7 197.2 1884.7 197.2 1884 197.2 1886.9 197.2 1885.1 197.2 1884.2 197.2 1884.4 197.2 1883.7 197.2 1887.4 197.2 1890.3 197.2 1883.7 197.2 1886.8 197.2 1881.6 197.1 1886.7 197.1 1887.6 197.1 1869.8 197.1 1885.6 197.1 1885.1 197.1 1886.7 197.1 1889.8 197.1 1873.9 197.1 1882.3 197.1 1889.9 197.1 1884.6 197.1 1883 197.1 1889.5 197.1 1883.9 197.1 1888.9 197.1 1888.7 197.1 1885.7 197.1 1874.4 197.1 1888.3 197.1 1882.1 197.1 1888.5 197.1 1885.2 197.1 1885.5 197.1 1881.3 197.1 1880.4 197.1 1890.1 197.1 1882.3 197.1 1885 197.1 1888 197.1 1876.8 197.1 1887.2 197.1 1886.2 197.1 1882.2 197.1 1889.8 197.1 1887.9 197.1 1883 197.1 1888.6 197.1 1886.8 197.1 1888.6 197.1 1878.9 197.1 1888.5 197.1 1885.7 197 1888.6 197 1888.3 197 1877.5 197 1878.4 197 1880.7 197 1885.8 197 1889.1 197 1890.8 197 1876.3 197 1888.4 197 1885.3 197 1884.2 197 1888.2 197 1889.9 197 1889.2 197 1880 197 1882.7 197 1885.5 197 1881.1 197 1881.9 197 1890.4 197 1879.5 197 1885.2 197 1885.4 197 1890.2 197 1880.9 197 1883.2 197 1890.2 197 1888.7 197 1886 197 1887.4 197 1885.9 197 1886.2 197 1881.6 197 1882.8 197 1881.2 197 1886.6 197 1884.1 197 1885.1 197 1886.6 197 1880 197 1882 197 1887.4 196.9 1886.3 196.9 1889.1 196.9 1881.6 196.9 1882 196.9 1883.3 196.9 1886.5 196.9 1885.3 196.9 1880.4 196.9 1887.5 196.9 1886.2 196.9 1884.1 196.9 1885 196.9 1880.8 196.9 1886 196.9 1864.5 196.9 1881.6 196.9 1881.7 196.9 1879.1 196.9 1882.9 196.9 1877.4 196.9 1883.9 196.9 1888.7 196.9 1889.4 196.9 1886.2 196.9 1884.9 196.9 1882 196.9 1888.1 196.9 1887.2 196.9 1885.6 196.9 1876.8 196.9 1882.3 196.9 1887.9 196.9 1887.8 196.9 1889.7 196.9 1889.3 196.9 1884.1 196.9 1879.8 196.9 1886.8 196.9 1888.5 196.9 1882.7 196.9 1884.6 196.9 1889.5 196.9 1872.9 196.9 1888.7 196.9 1882.6 196.8 1881.8 196.8 1885.7 196.8 1869.5 196.8 1886.1 196.8 1883 196.8 1886.6 196.8 1881.7 196.8 1885.7 196.8 1876.5 196.8 1884.9 196.8 1888.3 196.8 1884 196.8 1880.8 196.8 1887.9 196.8 1889.2 196.8 1888.4 196.8 1883.9 196.8 1887.1 196.8 1877.3 196.8 1887.9 196.8 1888.9 196.8 1881.2 196.8 1888.1 196.8 1884.3 196.8 1882.7 196.8 1885.3 196.8 1888.2 196.8 1883.1 196.8 1884.5 196.8 1889.4 196.8 1880.5 196.8 1889.2 196.8 1883.7 196.8 1887.6 196.8 1885.3 196.8 1879 196.8 1887.3 196.8 1890.5 196.8 1886.5 196.8 1882.1 196.8 1889.9 196.8 1883.4 196.8 1887.4 196.8 1882.1 196.8 1887.6 196.8 1886.1 196.7 1879.2 196.7 1887.2 196.7 1880.9 196.7 1882.8 196.7 1887.7 196.7 1874.6 196.7 1886.2 196.7 1873.4 196.7 1876.6 196.7 1875.4 196.7 1879.7 196.7 1882.7 196.7 1886.5 196.7 1882.2 196.7 1886.9 196.7 1878.3 196.7 1888.2 196.7 1885 196.7 1888.3 196.7 1885.8 196.7 1886.9 196.7 1886.7 196.7 1874.8 196.7 1888.9 196.7 1883.1 196.7 1887.2 196.7 1879 196.7 1882.8 196.7 1887.9 196.7 1885.7 196.7 1890.9 196.7 1882.5 196.7 1885.7 196.7 1886.9 196.7 1889.6 196.7 1885.2 196.7 1885.5 196.7 1887.1 196.7 1880.3 196.7 1886.1 196.7 1885.2 196.7 1882.4 196.7 1882.7 196.7 1889.4 196.7 1881.6 196.7 1887 196.7 1888.8 196.6 1889.2 196.6 1883.4 196.6 1876.3 196.6 1887.6 196.6 1885.4 196.6 1886 196.6 1883.8 196.6 1885.2 196.6 1887.7 196.6 1885.5 196.6 1890.2 196.6 1885 196.6 1883.4 196.6 1882.5 196.6 1887 196.6 1886.2 196.6 1881.8 196.6 1884.1 196.6 1878 196.6 1884.5 196.6 1886 196.6 1888.2 196.6 1884.3 196.6 1887.5 196.6 1885 196.6 1887.3 196.6 1887.4 196.6 1883.4 196.6 1885.5 196.6 1881 196.6 1883.8 196.6 1887.5 196.6 1882 196.6 1874.9 196.6 1881.5 196.6 1881.9 196.6 1882.3 196.6 1888.2 196.6 1885.4 196.6 1885.4 196.6 1885.8 196.6 1886.8 196.6 1884.8 196.6 1888.6 196.6 1885.3 196.6 1883.3 196.6 1887.5 196.6 1883.8 196.6 1882.2 196.5 1888.8 196.5 1883.2 196.5 1890.1 196.5 1883.4 196.5 1883.2 196.5 1887 196.5 1886.7 196.5 1880.3 196.5 1888.4 196.5 1889.3 196.5 1885 196.5 1884.4 196.5 1886 196.5 1888.2 196.5 1878.9 196.5 1881.3 196.5 1888.8 196.5 1881.8 196.5 1886.2 196.5 1875.6 196.5 1884.8 196.5 1880.1 196.5 1879.6 196.5 1882.3 196.5 1882.8 196.5 1886.9 196.5 1881.5 196.5 1884.1 196.5 1888 196.5 1877.6 196.5 1881.5 196.5 1890.3 196.5 1883.8 196.5 1888.1 196.5 1886.6 196.5 1887.3 196.5 1887.5 196.5 1888.4 196.5 1884.7 196.5 1886.9 196.5 1886.5 196.5 1887.8 196.5 1890.1 196.5 1882.9 196.5 1886.4 196.5 1889.3 196.5 1876.9 196.5 1885.4 196.5 1881.4 196.5 1886.7 196.4 1884.5 196.4 1888 196.4 1885.9 196.4 1885.7 196.4 1882.2 196.4 1884.7 196.4 1886.6 196.4 1887.6 196.4 1884.4 196.4 1875.6 196.4 1888.7 196.4 1885.7 196.4 1879.8 196.4 1881.8 196.4 1881.7 196.4 1889.1 196.4 1883.5 196.4 1876.8 196.4 1879.6 196.4 1885.7 196.4 1888.5 196.4 1889.8 196.4 1888.8 196.4 1888 196.4 1883.1 196.4 1880 196.4 1886.4 196.4 1882.6 196.4 1888.9 196.4 1884.9 196.4 1886.2 196.4 1887.5 196.4 1887.6 196.4 1885.2 196.4 1888 196.4 1884.4 196.4 1877.9 196.4 1886.5 196.4 1889.3 196.4 1883.1 196.4 1877.4 196.4 1882.6 196.4 1890.8 196.4 1887.8 196.4 1883.5 196.4 1888.3 196.4 1883.8 196.4 1887.4 196.4 1886.6 196.4 1885.9 196.4 1880.2 196.4 1884.3 196.3 1880.9 196.3 1889.6 196.3 1890 196.3 1886.1 196.3 1887.2 196.3 1887.9 196.3 1885.4 196.3 1886.5 196.3 1886.7 196.3 1882.5 196.3 1876.1 196.3 1885.9 196.3 1883.7 196.3 1889.5 196.3 1883.5 196.3 1885.7 196.3 1889.7 196.3 1888.6 196.3 1877.3 196.3 1884.7 196.3 1887.4 196.3 1886.9 196.3 1880.2 196.3 1886.1 196.3 1885.9 196.3 1887.1 196.3 1882.9 196.3 1883.6 196.3 1883.3 196.3 1889 196.3 1885.9 196.3 1885.2 196.3 1879.6 196.3 1880 196.3 1887.3 196.3 1886 196.3 1887.3 196.3 1883.6 196.3 1880.8 196.3 1887.5 196.3 1887.9 196.3 1887.4 196.3 1885.2 196.3 1884.7 196.3 1886 196.3 1886.9 196.3 1885.1 196.3 1886.4 196.3 1887.6 196.3 1887.8 196.3 1888.6 196.3 1888.5 196.3 1882.9 196.2 1889.5 196.2 1887.8 196.2 1888.3 196.2 1883.5 196.2 1888 196.2 1887.8 196.2 1887 196.2 1888.2 196.2 1885.4 196.2 1884.3 196.2 1885.6 196.2 1879.6 196.2 1884.1 196.2 1888.1 196.2 1888.2 196.2 1882.6 196.2 1883.6 196.2 1884.5 196.2 1890.7 196.2 1887.1 196.2 1884.5 196.2 1885.6 196.2 1877.8 196.2 1884.7 196.2 1884.7 196.2 1885 196.2 1879 196.2 1883.8 196.2 1883.9 196.2 1881.9 196.2 1887.5 196.2 1877 196.2 1888.5 196.2 1881.6 196.2 1889.3 196.2 1877.7 196.2 1888.9 196.2 1879.4 196.2 1886.4 196.2 1885.4 196.2 1888.2 196.2 1879.8 196.2 1884.6 196.2 1885.7 196.2 1887.3 196.2 1886.8 196.2 1875.1 196.2 1874.2 196.2 1882.6 196.2 1889.2 196.2 1887.4 196.2 1872 196.2 1885.8 196.2 1889.4 196.2 1887.9 196.1 1887 196.1 1886.6 196.1 1883.7 196.1 1883 196.1 1888.6 196.1 1879.4 196.1 1887.6 196.1 1891.1 196.1 1886.6 196.1 1889.1 196.1 1884.9 196.1 1890.1 196.1 1887.6 196.1 1876.9 196.1 1887.8 196.1 1886.3 196.1 1887.8 196.1 1886.1 196.1 1886.3 196.1 1889.8 196.1 1887.5 196.1 1882.2 196.1 1869.6 196.1 1879.6 196.1 1887.8 196.1 1888.1 196.1 1887.8 196.1 1879.8 196.1 1886.5 196.1 1882.7 196.1 1884.6 196.1 1884.1 196.1 1881.6 196.1 1887.2 196.1 1885.1 196.1 1885.4 196.1 1885 196.1 1885.3 196.1 1887.9 196.1 1885.3 196.1 1883.1 196.1 1884.7 196.1 1886 196.1 1884.8 196.1 1888.8 196.1 1884.3 196.1 1889 196.1 1884.7 196.1 1884.6 196.1 1888.6 196.1 1888.4 196.1 1881.3 196.1 1884.9 196.1 1884 196.1 1886.3 196.1 1879 196.1 1881.2 196 1883.8 196 1886.3 196 1884.4 196 1887.3 196 1889.2 196 1888.3 196 1886.7 196 1883.9 196 1888.7 196 1886.5 196 1885.5 196 1887.6 196 1890.1 196 1882.4 196 1884.6 196 1878.6 196 1887.9 196 1887.8 196 1890.1 196 1886 196 1889.5 196 1887 196 1882.7 196 1889.2 196 1886.7 196 1887.3 196 1887.6 196 1890.8 196 1884.9 196 1884.6 196 1883.9 196 1884.3 196 1878.4 196 1885.7 196 1888.1 196 1886.6 196 1883.4 196 1885.1 196 1881.8 196 1887 196 1887.7 196 1880.2 196 1888.9 196 1878.2 196 1884.6 196 1886.5 196 1885.5 196 1884.1 196 1876.3 196 1887.3 196 1886.7 196 1881.8 196 1884.1 196 1885.5 196 1882.7 196 1885.2 196 1885.3 196 1886.4 195.9 1885.7 195.9 1888.6 195.9 1885.8 195.9 1880.4 195.9 1889.3 195.9 1889.6 195.9 1886.4 195.9 1885 195.9 1889.8 195.9 1886.7 195.9 1883.4 195.9 1884.4 195.9 1884.6 195.9 1888.1 195.9 1889.7 195.9 1888.8 195.9 1888.7 195.9 1881.6 195.9 1884 195.9 1888.6 195.9 1888.9 195.9 1888.2 195.9 1880.8 195.9 1881.3 195.9 1886 195.9 1887.3 195.9 1883.6 195.9 1882.5 195.9 1884.9 195.9 1884.9 195.9 1888.9 195.9 1887 195.9 1887.6 195.9 1885.1 195.9 1888 195.9 1889.2 195.9 1888.8 195.9 1885.4 195.9 1887.5 195.9 1885.9 195.9 1886.5 195.9 1887.4 195.9 1886.9 195.9 1883.2 195.9 1888.4 195.9 1888.6 195.9 1887.9 195.9 1886.5 195.9 1887.1 195.9 1877.6 195.9 1883.4 195.9 1888.4 195.9 1882.3 195.9 1887.5 195.9 1880.3 195.9 1888.3 195.9 1887.6 195.9 1882.1 195.9 1876.9 195.9 1885.6 195.9 1887.5 195.8 1881.1 195.8 1887 195.8 1888.6 195.8 1882.4 195.8 1886 195.8 1882.7 195.8 1890 195.8 1884.2 195.8 1887.7 195.8 1881.6 195.8 1888.4 195.8 1878.5 195.8 1881 195.8 1886.6 195.8 1884.1 195.8 1888.4 195.8 1887.2 195.8 1881.7 195.8 1886.6 195.8 1882.8 195.8 1888.5 195.8 1884.3 195.8 1884.2 195.8 1887.9 195.8 1887.1 195.8 1889.3 195.8 1888.2 195.8 1885.8 195.8 1884 195.8 1888.8 195.8 1887.8 195.8 1887.6 195.8 1885.2 195.8 1887.4 195.8 1880.3 195.8 1882.3 195.8 1885.2 195.8 1887 195.8 1881.6 195.8 1886.4 195.8 1884.4 195.8 1889.5 195.8 1884.6 195.8 1888.3 195.8 1885.2 195.8 1887.5 195.8 1889.6 195.8 1883.8 195.8 1887.9 195.8 1888.8 195.8 1886.4 195.8 1888.3 195.8 1887.1 195.8 1886.7 195.8 1885 195.8 1884 195.8 1890.2 195.8 1884.4 195.8 1884.3 195.8 1889.2 195.8 1879.5 195.8 1890 195.7 1886.5 195.7 1889 195.7 1884.1 195.7 1885.3 195.7 1884.2 195.7 1883.3 195.7 1890 195.7 1886.2 195.7 1882 195.7 1886.8 195.7 1886.1 195.7 1890.2 195.7 1883.2 195.7 1883.5 195.7 1880.9 195.7 1887.1 195.7 1883.1 195.7 1880.4 195.7 1887.1 195.7 1888.5 195.7 1889 195.7 1888.5 195.7 1886.1 195.7 1888.2 195.7 1886.1 195.7 1883.5 195.7 1885 195.7 1884.5 195.7 1890.1 195.7 1889.8 195.7 1887.7 195.7 1890 195.7 1885.9 195.7 1888.2 195.7 1888.3 195.7 1889.1 195.7 1886 195.7 1887 195.7 1883.2 195.7 1883.4 195.7 1887.8 195.7 1887.2 195.7 1888 195.7 1889 195.7 1888.3 195.7 1887.7 195.7 1887.2 195.7 1885.9 195.7 1886.5 195.7 1887.6 195.7 1889.7 195.7 1886.8 195.7 1886.5 195.7 1886.2 195.7 1885.8 195.7 1886 195.7 1879.8 195.7 1889.9 195.7 1888.2 195.7 1888.8 195.7 1887.7 195.7 1887.2 195.7 1885.1 195.7 1890.2 195.7 1887.9 195.6 1884.9 195.6 1888 195.6 1887.9 195.6 1887.6 195.6 1890 195.6 1886.3 195.6 1873.9 195.6 1886.3 195.6 1885.7 195.6 1888.8 195.6 1881.3 195.6 1887.6 195.6 1884.1 195.6 1884.5 195.6 1886.2 195.6 1885.1 195.6 1888 195.6 1887.7 195.6 1889.1 195.6 1888.5 195.6 1884.6 195.6 1878.5 195.6 1888.9 195.6 1883.4 195.6 1885.5 195.6 1882.9 195.6 1887.6 195.6 1885.6 195.6 1878.8 195.6 1884.7 195.6 1887 195.6 1885.7 195.6 1884.1 195.6 1882.4 195.6 1882.5 195.6 1887.8 195.6 1871.9 195.6 1883.8 195.6 1876.9 195.6 1885.8 195.6 1887.1 195.6 1885.2 195.6 1889.2 195.6 1886.8 195.6 1888.2 195.6 1886.1 195.6 1890.3 195.6 1887.2 195.6 1886.9 195.6 1885.6 195.6 1877.2 195.6 1884.7 195.6 1884.8 195.6 1886.4 195.6 1888.4 195.6 1879.8 195.6 1888.4 195.6 1886.2 195.6 1886.9 195.6 1888.4 195.6 1881.7 195.6 1887.6 195.6 1886.3 195.6 1878.6 195.6 1885 195.6 1886.3 195.6 1881.6 195.5 1877.3 195.5 1888.8 195.5 1887.7 195.5 1886 195.5 1888.3 195.5 1885.5 195.5 1887.7 195.5 1882.3 195.5 1887.4 195.5 1885.7 195.5 1887.2 195.5 1885.8 195.5 1887.8 195.5 1890.7 195.5 1881.4 195.5 1882.4 195.5 1885.4 195.5 1878.7 195.5 1888.1 195.5 1885.8 195.5 1883.7 195.5 1890.2 195.5 1884.8 195.5 1882.1 195.5 1885.3 195.5 1886.5 195.5 1883.3 195.5 1887.7 195.5 1885.2 195.5 1886.9 195.5 1884 195.5 1886 195.5 1883.8 195.5 1881.8 195.5 1877.2 195.5 1890.6 195.5 1889.5 195.5 1890.4 195.5 1886 195.5 1886.6 195.5 1882.5 195.5 1880.5 195.5 1885.8 195.5 1887.7 195.5 1885.9 195.5 1890.2 195.5 1886 195.5 1887.7 195.5 1883.9 195.5 1882.7 195.5 1883.3 195.5 1887.1 195.5 1887.8 195.5 1886.7 195.5 1884.3 195.5 1886 195.5 1874.2 195.5 1885 195.5 1888.4 195.5 1883.9 195.5 1877.7 195.5 1884.2 195.5 1886.4 195.5 1887.8 195.5 1890.4 195.5 1887.6 195.5 1888.6 195.5 1887.8 195.5 1886.1 195.4 1884 195.4 1888.5 195.4 1881.4 195.4 1882.1 195.4 1883.9 195.4 1881.1 195.4 1880.9 195.4 1886.6 195.4 1889.1 195.4 1882.5 195.4 1887.4 195.4 1887.5 195.4 1882.3 195.4 1884.4 195.4 1887.4 195.4 1886.6 195.4 1884.7 195.4 1880.6 195.4 1885.4 195.4 1884.6 195.4 1887.4 195.4 1886 195.4 1879.2 195.4 1886.8 195.4 1882.6 195.4 1885.5 195.4 1886.8 195.4 1886.8 195.4 1884.9 195.4 1890.2 195.4 1882.5 195.4 1884.4 195.4 1888.4 195.4 1889.5 195.4 1887.2 195.4 1888 195.4 1888.4 195.4 1887.4 195.4 1878.6 195.4 1880.6 195.4 1889.7 195.4 1885.5 195.4 1889.4 195.4 1886.1 195.4 1885.6 195.4 1887.9 195.4 1885.1 195.4 1882.1 195.4 1884.1 195.4 1885.7 195.4 1888.9 195.4 1886.7 195.4 1886.6 195.4 1889.1 195.4 1884 195.4 1890.9 195.4 1889.5 195.4 1884.3 195.4 1878.3 195.4 1887.1 195.4 1886.7 195.4 1889.7 195.4 1886.7 195.4 1889.7 195.4 1889.9 195.4 1885.2 195.4 1888.4 195.4 1886.2 195.4 1883.3 195.4 1885.2 195.4 1888.4 195.4 1888.3 195.3 1889.9 195.3 1886.5 195.3 1887.7 195.3 1881.4 195.3 1886.2 195.3 1884.8 195.3 1880.9 195.3 1888 195.3 1888.5 195.3 1888.9 195.3 1888.4 195.3 1886.8 195.3 1888.9 195.3 1888.1 195.3 1888.7 195.3 1887.6 195.3 1884.1 195.3 1884.8 195.3 1888 195.3 1886.9 195.3 1888.3 195.3 1883.7 195.3 1887.4 195.3 1884 195.3 1886.2 195.3 1883.8 195.3 1888.6 195.3 1888.7 195.3 1887.9 195.3 1881.7 195.3 1882.9 195.3 1887 195.3 1886.9 195.3 1879.3 195.3 1887.4 195.3 1884.3 195.3 1883.7 195.3 1885.8 195.3 1887.9 195.3 1885.1 195.3 1887.6 195.3 1886 195.3 1889.1 195.3 1890.2 195.3 1888.8 195.3 1883.9 195.3 1889.2 195.3 1888.3 195.3 1885.4 195.3 1887.9 195.3 1888 195.3 1880.1 195.3 1885.2 195.3 1887.6 195.3 1883.5 195.3 1886.4 195.3 1883.6 195.3 1887 195.3 1885.7 195.3 1887.4 195.3 1886.9 195.3 1883.3 195.3 1886.5 195.3 1884.1 195.3 1885.6 195.3 1883.1 195.3 1889.8 195.3 1890 195.3 1887.3 195.3 1886.3 195.3 1884 195.3 1888.1 195.3 1887.1 195.3 1888.2 195.2 1886.7 195.2 1889.6 195.2 1876.4 195.2 1883.4 195.2 1889.1 195.2 1885.6 195.2 1888.4 195.2 1885.2 195.2 1886.9 195.2 1889 195.2 1884 195.2 1883.3 195.2 1887.2 195.2 1886.4 195.2 1887.5 195.2 1889 195.2 1888 195.2 1889.6 195.2 1887.4 195.2 1890.2 195.2 1882.6 195.2 1885.8 195.2 1884.9 195.2 1888.4 195.2 1885.5 195.2 1883.2 195.2 1882.6 195.2 1885.5 195.2 1888.8 195.2 1889.1 195.2 1886.3 195.2 1887.2 195.2 1886.5 195.2 1884.5 195.2 1883.4 195.2 1887 195.2 1886.6 195.2 1890.7 195.2 1883.8 195.2 1883.4 195.2 1889.4 195.2 1890.3 195.2 1888.9 195.2 1883 195.2 1890.2 195.2 1876.1 195.2 1878.7 195.2 1886.4 195.2 1883.6 195.2 1880.9 195.2 1876.2 195.2 1890.1 195.2 1889.2 195.2 1888.4 195.2 1886.2 195.2 1888 195.2 1887.6 195.2 1885.8 195.2 1887.9 195.2 1882.6 195.2 1890.3 195.2 1885.7 195.2 1883.9 195.2 1885.2 195.2 1889.5 195.2 1885 195.2 1885.5 195.2 1887.5 195.2 1886.6 195.2 1885.6 195.2 1887.2 195.2 1887.3 195.2 1888 195.2 1889.8 195.2 1881.3 195.2 1889.8 195.2 1887.9 195.1 1885.1 195.1 1885.4 195.1 1886.6 195.1 1889.7 195.1 1888.4 195.1 1888.7 195.1 1886.3 195.1 1886.5 195.1 1890 195.1 1883.1 195.1 1886.1 195.1 1888.4 195.1 1887.2 195.1 1886.2 195.1 1888.3 195.1 1889.4 195.1 1887.7 195.1 1889 195.1 1876.8 195.1 1889.6 195.1 1889.2 195.1 1885.8 195.1 1879.3 195.1 1888.7 195.1 1882.2 195.1 1888.8 195.1 1887.4 195.1 1884.7 195.1 1889.9 195.1 1886.7 195.1 1889.3 195.1 1888.8 195.1 1884.6 195.1 1887.6 195.1 1885.8 195.1 1887.9 195.1 1888.3 195.1 1884.8 195.1 1883.6 195.1 1882.3 195.1 1883.5 195.1 1888.5 195.1 1879.9 195.1 1888.1 195.1 1889.1 195.1 1888.1 195.1 1890.2 195.1 1883.4 195.1 1889.1 195.1 1885.1 195.1 1889.8 195.1 1889.3 195.1 1887.4 195.1 1889.8 195.1 1882.8 195.1 1883.5 195.1 1886.7 195.1 1889.1 195.1 1888.7 195.1 1879.6 195.1 1890.1 195.1 1886.7 195.1 1885.7 195.1 1889.5 195.1 1888 195.1 1886.8 195.1 1887.5 195.1 1885.8 195.1 1879.7 195.1 1888.8 195.1 1887.1 195.1 1886.7 195.1 1886.7 195.1 1886.9 195.1 1886.2 195.1 1886.5 195.1 1886.5 195.1 1886.6 195.1 1883.2 195.1 1889.2 195.1 1889.7 195 1887.6 195 1884 195 1890.5 195 1890.7 195 1890 195 1888.3 195 1885.4 195 1884.9 195 1887.4 195 1888.8 195 1885 195 1886.6 195 1888.8 195 1886.8 195 1886 195 1886.8 195 1889.2 195 1889.1 195 1883.1 195 1885.1 195 1888.8 195 1887.2 195 1884.9 195 1882.1 195 1889.2 195 1886.5 195 1888.1 195 1877.8 195 1884.8 195 1884.9 195 1886.8 195 1887.6 195 1881.1 195 1885.1 195 1888.2 195 1885.9 195 1888.3 195 1888.1 195 1882.7 195 1886.9 195 1887 195 1888 195 1890.1 195 1880.3 195 1886.9 195 1886.5 195 1889.3 195 1882.7 195 1888.6 195 1880.5 195 1885.3 195 1888.5 195 1890.5 195 1888 195 1889.8 195 1886 195 1886.6 195 1887.2 195 1884.8 195 1887.5 195 1880.8 195 1885.9 195 1885.4 195 1884.9 195 1890.2 195 1886.4 195 1880.3 195 1881.3 195 1889 195 1885.8 195 1885.5 195 1885.1 195 1887.2 195 1888.1 195 1887.4 195 1886.2 195 1882.1 195 1879.8 195 1888.2 195 1885.5 195 1886.8 195 1887.6 195 1876.5 194.9 1883.5 194.9 1884.2 194.9 1883.5 194.9 1887 194.9 1888.2 194.9 1881.3 194.9 1890.3 194.9 1886.3 194.9 1889.3 194.9 1886.3 194.9 1888.8 194.9 1888.8 194.9 1888.3 194.9 1884.3 194.9 1884.4 194.9 1887.4 194.9 1879.7 194.9 1885.5 194.9 1879.9 194.9 1885.6 194.9 1891.3 194.9 1889.7 194.9 1886.8 194.9 1883.2 194.9 1888.2 194.9 1886.9 194.9 1885.7 194.9 1885.1 194.9 1882.5 194.9 1881.9 194.9 1887.4 194.9 1876.4 194.9 1887.6 194.9 1886.4 194.9 1877.8 194.9 1887.9 194.9 1887 194.9 1889.2 194.9 1890 194.9 1888.4 194.9 1886.4 194.9 1874.3 194.9 1880.7 194.9 1882.6 194.9 1888.5 194.9 1891.1 194.9 1887 194.9 1888 194.9 1886.7 194.9 1888 194.9 1884.3 194.9 1889.5 194.9 1890.6 194.9 1889.4 194.9 1887.2 194.9 1886.9 194.9 1889.9 194.9 1889.2 194.9 1887.9 194.9 1889.3 194.9 1883.6 194.9 1887.8 194.9 1883.9 194.9 1888.3 194.9 1890.1 194.9 1886.8 194.9 1882.2 194.9 1887.2 194.9 1890.4 194.9 1885.3 194.9 1884.7 194.9 1888.4 194.9 1887.7 194.9 1884 194.9 1889 194.9 1881 194.9 1884.1 194.9 1887.1 194.9 1888.6 194.9 1885.2 194.9 1876.6 194.9 1889.9 194.9 1886.2 194.9 1889.5 194.9 1883.3 194.9 1887.5 194.9 1889.8 194.8 1889.8 194.8 1886.7 194.8 1889.3 194.8 1887.6 194.8 1888.8 194.8 1888.8 194.8 1884.3 194.8 1882.4 194.8 1890.5 194.8 1888.1 194.8 1889.6 194.8 1888 194.8 1884.2 194.8 1880.3 194.8 1884.6 194.8 1885.8 194.8 1888.7 194.8 1889 194.8 1880.7 194.8 1886.6 194.8 1887 194.8 1884.6 194.8 1888 194.8 1883.6 194.8 1881.9 194.8 1889.2 194.8 1887.8 194.8 1887.7 194.8 1886 194.8 1889.2 194.8 1887.8 194.8 1887.7 194.8 1889.1 194.8 1885.6 194.8 1887.9 194.8 1889.1 194.8 1890.1 194.8 1887 194.8 1887.9 194.8 1883.6 194.8 1890.1 194.8 1889.1 194.8 1883.7 194.8 1887.3 194.8 1888.3 194.8 1889.3 194.8 1885.9 194.8 1887 194.8 1886.6 194.8 1890.8 194.8 1888.1 194.8 1886 194.8 1887.8 194.8 1885.6 194.8 1885.8 194.8 1889.8 194.8 1887.2 194.8 1889.5 194.8 1882.9 194.8 1882.2 194.8 1886.4 194.8 1888.4 194.8 1889.3 194.8 1885.9 194.8 1890.1 194.8 1887.2 194.8 1890.4 194.8 1888.6 194.8 1889.5 194.8 1888 194.8 1888.4 194.8 1887.6 194.8 1883.2 194.8 1883.1 194.8 1889.5 194.8 1887 194.8 1890.8 194.8 1884.6 194.8 1889.8 194.8 1884 194.8 1884.1 194.8 1885.2 194.8 1889.8 194.8 1881 194.8 1883.7 194.8 1889.2 194.8 1889.3 194.8 1890.1 194.8 1887.1 194.8 1889.8 194.7 1887.8 194.7 1887.1 194.7 1887.3 194.7 1889.6 194.7 1888.9 194.7 1885.8 194.7 1890.6 194.7 1888.6 194.7 1885 194.7 1885.7 194.7 1890.5 194.7 1884.8 194.7 1890.1 194.7 1888.1 194.7 1888.9 194.7 1886.1 194.7 1887.6 194.7 1888.9 194.7 1885.7 194.7 1890 194.7 1884.9 194.7 1885.2 194.7 1887.8 194.7 1885.5 194.7 1889 194.7 1886.2 194.7 1886.5 194.7 1890.1 194.7 1885.4 194.7 1887.6 194.7 1885 194.7 1886.4 194.7 1886 194.7 1890.2 194.7 1884.1 194.7 1885.8 194.7 1887 194.7 1885 194.7 1887.3 194.7 1879.8 194.7 1886.5 194.7 1889 194.7 1890.5 194.7 1888.1 194.7 1889.7 194.7 1886.3 194.7 1884.5 194.7 1887.5 194.7 1889.1 194.7 1888 194.7 1885.3 194.7 1885.7 194.7 1887.8 194.7 1888.5 194.7 1879.1 194.7 1886.4 194.7 1885.6 194.7 1887.8 194.7 1886.3 194.7 1887 194.7 1880.5 194.7 1887.7 194.7 1887.6 194.7 1887.9 194.7 1881.8 194.7 1889.7 194.7 1887.2 194.7 1889.1 194.7 1882 194.7 1888.4 194.7 1885.4 194.7 1884.5 194.7 1887.2 194.7 1891.1 194.7 1885.8 194.7 1889 194.7 1887.4 194.7 1884.9 194.7 1885.3 194.7 1886.2 194.7 1888.4 194.7 1889.2 194.7 1887.9 194.7 1890.5 194.7 1885.4 194.7 1887.9 194.7 1880.9 194.7 1884.2 194.7 1886.3 194.7 1885.4 194.7 1885.2 194.7 1886.7 194.7 1880.7 194.6 1887.2 194.6 1886.9 194.6 1883.6 194.6 1885.2 194.6 1886 194.6 1884.3 194.6 1887.7 194.6 1885.9 194.6 1888.8 194.6 1888.3 194.6 1889.6 194.6 1889.2 194.6 1883.3 194.6 1883.9 194.6 1888.4 194.6 1885.2 194.6 1889.2 194.6 1883.6 194.6 1886.5 194.6 1885.9 194.6 1887.1 194.6 1885.5 194.6 1885.1 194.6 1888 194.6 1879 194.6 1890.1 194.6 1884.9 194.6 1887.5 194.6 1880.4 194.6 1890.7 194.6 1886.5 194.6 1881.2 194.6 1888.9 194.6 1883.6 194.6 1886.3 194.6 1889.4 194.6 1887.1 194.6 1888.3 194.6 1888.2 194.6 1888.2 194.6 1889.7 194.6 1885.8 194.6 1885.1 194.6 1888 194.6 1883.2 194.6 1885.5 194.6 1890 194.6 1886.6 194.6 1887 194.6 1886.4 194.6 1883.3 194.6 1885.1 194.6 1889.4 194.6 1879.7 194.6 1885.1 194.6 1883.7 194.6 1884 194.6 1888.8 194.6 1885.1 194.6 1886.8 194.6 1885.1 194.6 1885.7 194.6 1888.1 194.6 1884.8 194.6 1885.5 194.6 1889.6 194.6 1883.1 194.6 1886.4 194.6 1887.9 194.6 1889.2 194.6 1888.7 194.6 1887 194.6 1884.2 194.6 1888.4 194.6 1888.6 194.6 1883 194.6 1884.6 194.6 1884.8 194.6 1889.7 194.6 1886 194.6 1885.6 194.6 1881.4 194.6 1888 194.6 1888.8 194.6 1889.8 194.6 1888.4 194.6 1887.7 194.6 1889 194.6 1882.6 194.6 1886.2 194.6 1888.9 194.6 1885.5 194.6 1887.2 194.6 1888.6 194.6 1888.1 194.6 1881.4 194.6 1884.5 194.6 1889.4 194.5 1887.2 194.5 1888.6 194.5 1888.9 194.5 1884.2 194.5 1887.8 194.5 1886.5 194.5 1890.4 194.5 1888.2 194.5 1885.6 194.5 1884.4 194.5 1888.1 194.5 1885.9 194.5 1885.1 194.5 1886.5 194.5 1889 194.5 1886.7 194.5 1884.7 194.5 1886 194.5 1884.2 194.5 1886.2 194.5 1888.8 194.5 1885.8 194.5 1888 194.5 1885.2 194.5 1887 194.5 1890.9 194.5 1888.4 194.5 1888.2 194.5 1887.7 194.5 1888.4 194.5 1888.9 194.5 1887.4 194.5 1885.1 194.5 1886.2 194.5 1885.8 194.5 1887.4 194.5 1885.2 194.5 1888.7 194.5 1888.2 194.5 1888.3 194.5 1887.7 194.5 1887.7 194.5 1884.9 194.5 1888.6 194.5 1891.5 194.5 1889.5 194.5 1885.8 194.5 1887.4 194.5 1883.2 194.5 1889.2 194.5 1889.1 194.5 1885.2 194.5 1890.3 194.5 1884.3 194.5 1884.5 194.5 1889.6 194.5 1890 194.5 1887.7 194.5 1888.6 194.5 1886.7 194.5 1881.3 194.5 1890.3 194.5 1885 194.5 1888.2 194.5 1887.7 194.5 1883.2 194.5 1890.3 194.5 1887.8 194.5 1888.7 194.5 1887.4 194.5 1886.1 194.5 1889.5 194.5 1887.9 194.5 1885.6 194.5 1884.9 194.5 1885.2 194.5 1890.4 194.5 1887.9 194.5 1890.3 194.5 1891 194.5 1891.1 194.5 1886.1 194.5 1888.8 194.5 1886.1 194.5 1878.1 194.5 1886.3 194.5 1886.2 194.5 1887.5 194.5 1886.5 194.5 1886.8 194.5 1883.2 194.5 1890 194.5 1887.1 194.5 1888.6 194.5 1887.4 194.5 1882.9 194.5 1888.9 194.5 1888.1 194.5 1882.2 194.5 1888.4 194.5 1885.7 194.5 1889.3 194.4 1884.4 194.4 1886.8 194.4 1889.2 194.4 1886.8 194.4 1888 194.4 1886.9 194.4 1886.7 194.4 1887.3 194.4 1889.4 194.4 1886.6 194.4 1882.8 194.4 1887.4 194.4 1889 194.4 1886.7 194.4 1890.1 194.4 1890.5 194.4 1888.4 194.4 1888 194.4 1887.5 194.4 1885.8 194.4 1886.9 194.4 1888.4 194.4 1889.2 194.4 1890.2 194.4 1881.3 194.4 1890.7 194.4 1887.5 194.4 1886.2 194.4 1884.6 194.4 1886.9 194.4 1886.5 194.4 1887.1 194.4 1886.1 194.4 1889.8 194.4 1890 194.4 1886.9 194.4 1884.6 194.4 1884.4 194.4 1885 194.4 1889.6 194.4 1882.5 194.4 1881.1 194.4 1890.7 194.4 1885.6 194.4 1889 194.4 1889 194.4 1889.9 194.4 1887.6 194.4 1888.7 194.4 1889.2 194.4 1888.7 194.4 1885.9 194.4 1888.2 194.4 1884.8 194.4 1886.3 194.4 1883.1 194.4 1889.5 194.4 1886.5 194.4 1887.2 194.4 1891 194.4 1885.7 194.4 1878.4 194.4 1885.9 194.4 1886 194.4 1888.8 194.4 1887.9 194.4 1886.7 194.4 1887.4 194.4 1886.8 194.4 1889.5 194.4 1888.9 194.4 1883.1 194.4 1884.8 194.4 1886.6 194.4 1885.4 194.4 1886 194.4 1890.6 194.4 1886.8 194.4 1884.3 194.4 1887.1 194.4 1886 194.4 1888.9 194.4 1885.9 194.4 1881.9 194.4 1883.2 194.4 1890.9 194.4 1889.3 194.4 1889.8 194.4 1887.8 194.4 1890.5 194.4 1889.1 194.4 1889.5 194.4 1889.3 194.4 1887.5 194.4 1885.1 194.4 1890.9 194.4 1886.7 194.4 1886.4 194.4 1888.2 194.4 1887.6 194.4 1889 194.4 1888.6 194.4 1885.4 194.4 1888.9 194.4 1885.7 194.4 1889.4 194.4 1887.9 194.3 1887.3 194.3 1889 194.3 1883.5 194.3 1889.9 194.3 1886.3 194.3 1888.5 194.3 1886.6 194.3 1886.3 194.3 1886.5 194.3 1888.8 194.3 1887.9 194.3 1887.1 194.3 1889.7 194.3 1886.4 194.3 1886.7 194.3 1888.4 194.3 1889.7 194.3 1881.9 194.3 1888.9 194.3 1882.9 194.3 1886.2 194.3 1890.4 194.3 1888.6 194.3 1887.6 194.3 1887.8 194.3 1883.8 194.3 1890.4 194.3 1889 194.3 1889 194.3 1890.1 194.3 1888.5 194.3 1887.6 194.3 1883.5 194.3 1890.1 194.3 1884 194.3 1880.6 194.3 1887.4 194.3 1888.6 194.3 1886.8 194.3 1886.3 194.3 1886.4 194.3 1888.9 194.3 1884.3 194.3 1889 194.3 1889.6 194.3 1890.4 194.3 1880.1 194.3 1887.1 194.3 1887.7 194.3 1886.6 194.3 1889.6 194.3 1882.5 194.3 1887.9 194.3 1886.1 194.3 1888.6 194.3 1877.5 194.3 1884.3 194.3 1885.1 194.3 1887.7 194.3 1877.9 194.3 1889.2 194.3 1886.8 194.3 1889.2 194.3 1886 194.3 1886.6 194.3 1885 194.3 1889.8 194.3 1887.1 194.3 1888.4 194.3 1889.1 194.3 1887.2 194.3 1886.1 194.3 1887.7 194.3 1889.4 194.3 1885 194.3 1890.6 194.3 1888.1 194.3 1886.6 194.3 1883.1 194.3 1886.8 194.3 1883.5 194.3 1884.9 194.3 1885.5 194.3 1886.1 194.3 1885.1 194.3 1890.1 194.3 1889.6 194.3 1883 194.3 1887.9 194.3 1887.9 194.3 1889.2 194.3 1890.9 194.3 1890.2 194.3 1886.5 194.3 1888.6 194.3 1883.6 194.3 1887.9 194.3 1887.6 194.3 1888.1 194.3 1889.5 194.3 1887.7 194.3 1885.5 194.3 1885.9 194.3 1888.4 194.3 1885.8 194.3 1887 194.3 1882.5 194.3 1888.2 194.3 1884.7 194.3 1889.8 194.3 1888.5 194.2 1889 194.2 1886 194.2 1889.1 194.2 1887.7 194.2 1886 194.2 1890.6 194.2 1889 194.2 1888.9 194.2 1889 194.2 1889.8 194.2 1890.7 194.2 1890.1 194.2 1885.6 194.2 1885.2 194.2 1889.4 194.2 1887.9 194.2 1885.2 194.2 1887 194.2 1887.3 194.2 1883.3 194.2 1889.1 194.2 1887.3 194.2 1887.9 194.2 1888 194.2 1887.4 194.2 1887.4 194.2 1885.9 194.2 1886.4 194.2 1885.9 194.2 1888 194.2 1877.1 194.2 1886.1 194.2 1886.8 194.2 1887.1 194.2 1885 194.2 1886.5 194.2 1888.6 194.2 1890.5 194.2 1886.8 194.2 1887.9 194.2 1886.9 194.2 1886.8 194.2 1886.6 194.2 1889.3 194.2 1888.6 194.2 1886.5 194.2 1887.9 194.2 1889.3 194.2 1885.5 194.2 1886.8 194.2 1888.9 194.2 1887 194.2 1887.2 194.2 1889.2 194.2 1890.1 194.2 1884.8 194.2 1884.8 194.2 1886.5 194.2 1887.6 194.2 1887.7 194.2 1887.6 194.2 1889.7 194.2 1888.9 194.2 1888.6 194.2 1887 194.2 1889.3 194.2 1881.1 194.2 1891.2 194.2 1886.7" stroke="#000" stroke-width="5" fill="none" stroke-linejoin="round" clip-path="url(#cb)"/></g></svg></body></html>
